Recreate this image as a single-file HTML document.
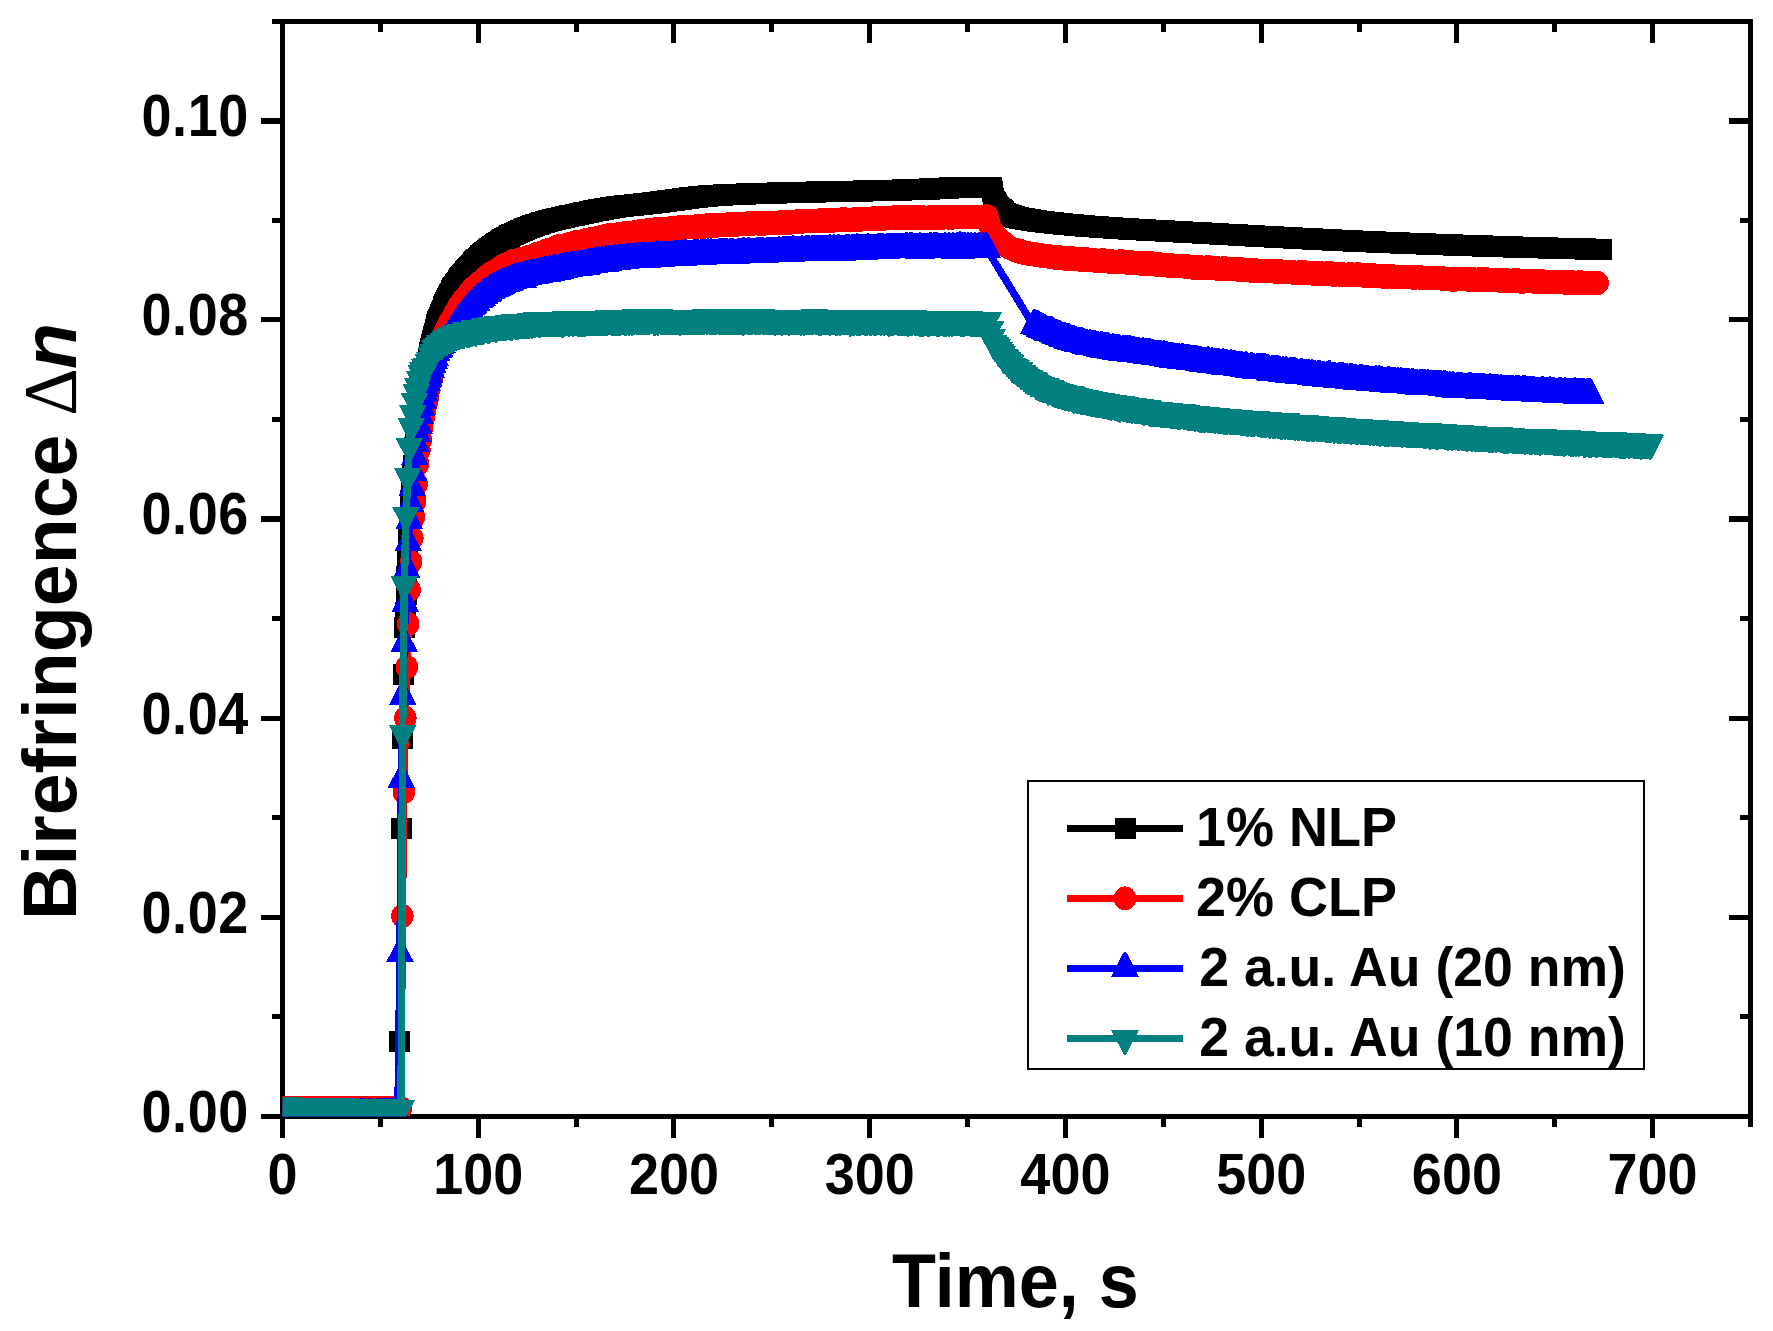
<!DOCTYPE html>
<html lang="en"><head><meta charset="utf-8"><title>Birefringence vs Time</title>
<style>html,body{margin:0;padding:0;background:#fff}body{width:1773px;height:1331px;overflow:hidden}svg{display:block}</style></head><body>
<svg width="1773" height="1331" viewBox="0 0 1773 1331" shape-rendering="crispEdges">
<rect width="1773" height="1331" fill="#fff"/>
<path d="M280 19H1753V24H280zM280 1114H1753V1119H280zM280 19H285V1119H280zM1748 19H1753V1119H1748zM280 1119H285V1138H280zM280 24H285V43H280zM378 1119H383V1127H378zM378 24H383V32H378zM476 1119H481V1138H476zM476 24H481V43H476zM574 1119H579V1127H574zM574 24H579V32H574zM671 1119H676V1138H671zM671 24H676V43H671zM769 1119H774V1127H769zM769 24H774V32H769zM867 1119H872V1138H867zM867 24H872V43H867zM965 1119H970V1127H965zM965 24H970V32H965zM1063 1119H1068V1138H1063zM1063 24H1068V43H1063zM1161 1119H1166V1127H1161zM1161 24H1166V32H1161zM1259 1119H1264V1138H1259zM1259 24H1264V43H1259zM1357 1119H1362V1127H1357zM1357 24H1362V32H1357zM1454 1119H1459V1138H1454zM1454 24H1459V43H1454zM1552 1119H1557V1127H1552zM1552 24H1557V32H1552zM1650 1119H1655V1138H1650zM1650 24H1655V43H1650zM1748 1119H1753V1127H1748zM1748 24H1753V32H1748zM261 1114H280V1119H261zM1729 1114H1748V1119H1729zM272 1014H280V1019H272zM1740 1014H1748V1019H1740zM261 915H280V920H261zM1729 915H1748V920H1729zM272 815H280V820H272zM1740 815H1748V820H1740zM261 716H280V721H261zM1729 716H1748V721H1729zM272 616H280V621H272zM1740 616H1748V621H1740zM261 516H280V522H261zM1729 516H1748V522H1729zM272 417H280V422H272zM1740 417H1748V422H1740zM261 317H280V322H261zM1729 317H1748V322H1729zM272 218H280V223H272zM1740 218H1748V223H1740zM261 118H280V124H261zM1729 118H1748V124H1729zM272 19H280V24H272zM1740 19H1748V24H1740z" fill="#000"/>

<svg x="282.5" y="21.5" width="1468.0" height="1095.0" viewBox="282.5 21.5 1468.0 1095.0" overflow="hidden">
<polyline points="283.7,1110.5 284.6,1110.5 285.4,1110.5 286.3,1110.5 287.2,1110.5 288.1,1110.5 288.9,1110.5 289.8,1110.5 290.7,1110.5 291.6,1110.5 292.5,1110.5 293.3,1110.5 294.2,1110.5 295.1,1110.5 296,1110.5 296.9,1110.5 297.7,1110.5 298.6,1110.5 299.5,1110.5 300.4,1110.5 301.3,1110.5 302.1,1110.5 303,1110.5 303.9,1110.5 304.8,1110.5 305.6,1110.5 306.5,1110.5 307.4,1110.5 308.3,1110.5 309.2,1110.5 310,1110.5 310.9,1110.5 311.8,1110.5 312.7,1110.5 313.6,1110.5 314.4,1110.5 315.3,1110.5 316.2,1110.5 317.1,1110.5 317.9,1110.5 318.8,1110.5 319.7,1110.5 320.6,1110.5 321.5,1110.5 322.3,1110.5 323.2,1110.5 324.1,1110.5 325,1110.5 325.9,1110.5 326.7,1110.5 327.6,1110.5 328.5,1110.5 329.4,1110.5 330.3,1110.5 331.1,1110.5 332,1110.5 332.9,1110.5 333.8,1110.5 334.6,1110.5 335.5,1110.5 336.4,1110.5 337.3,1110.5 338.2,1110.5 339,1110.5 339.9,1110.5 340.8,1110.5 341.7,1110.5 342.6,1110.5 343.4,1110.5 344.3,1110.5 345.2,1110.5 346.1,1110.5 347,1110.5 347.8,1110.5 348.7,1110.5 349.6,1110.5 350.5,1110.5 351.3,1110.5 352.2,1110.5 353.1,1110.5 354,1110.5 354.9,1110.5 355.7,1110.5 356.6,1110.5 357.5,1110.5 358.4,1110.5 359.3,1110.5 360.1,1110.5 361,1110.5 361.9,1110.5 362.8,1110.5 363.7,1110.5 364.5,1110.5 365.4,1110.5 366.3,1110.5 367.2,1110.5 368,1110.5 368.9,1110.5 369.8,1110.5 370.7,1110.5 371.6,1110.5 372.4,1110.5 373.3,1110.5 374.2,1110.5 375.1,1110.5 376,1110.5 376.8,1110.5 377.7,1110.5 378.6,1110.5 379.5,1110.5 380.4,1110.5 381.2,1110.5 382.1,1110.5 383,1110.5 383.9,1110.5 384.7,1110.5 385.6,1110.5 386.5,1110.5 387.4,1110.5 388.3,1110.5 389.1,1110.5 390,1110.5 390.9,1110.5 391.8,1110.5 392.7,1110.5 393.5,1110.5 394.4,1110.5 395.3,1110.5 396.2,1110.5 397,1110.5 397.9,1110.5 399.3,1041.2 401.6,828.6 402.6,738.6 403.4,674.7 404.3,627.7 405.2,612 406.1,594.2 406.9,576.1 407.8,557.6 408.7,537.4 409.6,517 410.5,500.1 411.3,487 412.2,475.7 413.1,465.6 414,456.2 414.9,447.3 415.7,438.9 416.6,430.9 417.5,423.4 418.4,416.1 419.3,409.1 420.1,402.3 421,395.5 421.9,389 422.8,382.9 423.7,377.5 424.5,372.8 425.4,368.9 426.3,365.4 427.2,362.2 428.1,359.1 429,355.9 429.8,352.6 430.7,348.9 431.6,344.9 432.5,340.8 433.4,336.8 434.2,333.1 435.1,329.8 436,326.9 436.9,324.3 437.8,321.8 438.6,319.4 439.5,317.1 440.4,314.9 441.3,312.8 442.2,310.6 443,308.5 443.9,306.3 444.8,304.2 445.7,302.2 446.6,300.2 447.4,298.2 448.3,296.4 449.2,294.7 450.1,293 451,291.5 451.8,290 452.7,288.6 453.6,287.3 454.5,286 455.4,284.7 456.2,283.5 457.1,282.3 458,281.1 458.9,280 459.8,278.9 460.6,277.8 461.5,276.7 462.4,275.6 463.3,274.5 464.2,273.4 465,272.3 465.9,271.2 466.8,270.2 467.7,269.2 468.6,268.1 469.4,267.1 470.3,266.2 471.2,265.2 472.1,264.2 473,263.3 473.9,262.4 474.7,261.5 475.6,260.6 476.5,259.8 477.4,259 478.3,258.1 479.1,257.3 480,256.5 480.9,255.8 481.8,255 482.7,254.2 483.5,253.5 484.4,252.8 485.3,252.1 486.2,251.4 487.1,250.7 487.9,250 488.8,249.3 489.7,248.7 490.6,248 491.5,247.4 492.3,246.8 493.2,246.2 494.1,245.5 495,244.9 495.9,244.3 496.7,243.8 497.6,243.2 498.5,242.6 499.4,242 500.3,241.5 501.1,240.9 502,240.4 502.9,239.8 503.8,239.3 504.7,238.8 505.5,238.3 506.4,237.7 507.3,237.3 508.2,236.8 509.1,236.3 509.9,235.8 510.8,235.4 511.7,234.9 512.6,234.5 513.5,234 514.3,233.6 515.2,233.2 516.1,232.8 517,232.4 517.9,232 518.7,231.6 519.6,231.2 520.5,230.8 521.4,230.4 522.3,230 523.2,229.6 524,229.3 524.9,228.9 525.8,228.5 526.7,228.2 527.6,227.8 528.4,227.5 529.3,227.1 530.2,226.8 531.1,226.4 532,226.1 532.8,225.8 533.7,225.5 534.6,225.2 535.5,224.9 536.4,224.6 537.2,224.3 538.1,224 539,223.7 539.9,223.4 540.8,223.1 541.6,222.9 542.5,222.6 543.4,222.3 544.3,222.1 545.2,221.8 546,221.6 546.9,221.3 547.8,221.1 548.7,220.9 549.6,220.6 550.4,220.4 551.3,220.2 552.2,219.9 553.1,219.7 554,219.5 554.8,219.3 555.7,219.1 556.6,218.9 557.5,218.6 558.4,218.4 559.2,218.2 560.1,218 561,217.8 561.9,217.6 562.8,217.4 563.6,217.2 564.5,217 565.4,216.8 566.3,216.7 567.2,216.5 568.1,216.3 568.9,216.1 569.8,215.9 570.7,215.7 571.6,215.5 572.5,215.3 573.3,215.2 574.2,215 575.1,214.8 576,214.6 576.9,214.4 577.7,214.2 578.6,214 579.5,213.9 580.4,213.7 581.3,213.5 582.1,213.3 583,213.1 583.9,212.9 584.8,212.7 585.7,212.5 586.5,212.4 587.4,212.2 588.3,212 589.2,211.8 590.1,211.6 590.9,211.4 591.8,211.3 592.7,211.1 593.6,210.9 594.5,210.7 595.3,210.6 596.2,210.4 597.1,210.2 598,210 598.9,209.9 599.7,209.7 600.6,209.5 601.5,209.4 602.4,209.2 603.3,209 604.1,208.9 605,208.7 605.9,208.6 606.8,208.4 607.7,208.3 608.5,208.1 609.4,208 610.3,207.8 611.2,207.7 612.1,207.6 613,207.4 613.8,207.3 614.7,207.2 615.6,207.1 616.5,206.9 617.4,206.8 618.2,206.7 619.1,206.6 620,206.5 620.9,206.4 621.8,206.3 622.6,206.2 623.5,206 624.4,205.9 625.3,205.8 626.2,205.7 627,205.6 627.9,205.5 628.8,205.4 629.7,205.4 630.6,205.3 631.4,205.2 632.3,205.1 633.2,205 634.1,204.9 635,204.8 635.8,204.7 636.7,204.6 637.6,204.5 638.5,204.4 639.4,204.3 640.2,204.2 641.1,204.2 642,204.1 642.9,204 643.8,203.9 644.6,203.8 645.5,203.7 646.4,203.6 647.3,203.5 648.2,203.4 649,203.3 649.9,203.2 650.8,203.1 651.7,203 652.6,202.9 653.4,202.8 654.3,202.7 655.2,202.6 656.1,202.5 657,202.3 657.8,202.2 658.7,202.1 659.6,202 660.5,201.9 661.4,201.8 662.3,201.7 663.1,201.5 664,201.4 664.9,201.3 665.8,201.2 666.7,201.1 667.5,200.9 668.4,200.8 669.3,200.7 670.2,200.6 671.1,200.5 671.9,200.3 672.8,200.2 673.7,200.1 674.6,200 675.5,199.8 676.3,199.7 677.2,199.6 678.1,199.5 679,199.4 679.9,199.2 680.7,199.1 681.6,199 682.5,198.9 683.4,198.8 684.3,198.6 685.1,198.5 686,198.4 686.9,198.3 687.8,198.2 688.7,198.1 689.5,197.9 690.4,197.8 691.3,197.7 692.2,197.6 693.1,197.5 693.9,197.4 694.8,197.3 695.7,197.2 696.6,197.1 697.5,197 698.3,196.9 699.2,196.8 700.1,196.7 701,196.6 701.9,196.5 702.7,196.4 703.6,196.3 704.5,196.2 705.4,196.1 706.3,196.1 707.2,196 708,195.9 708.9,195.8 709.8,195.8 710.7,195.7 711.6,195.6 712.4,195.6 713.3,195.5 714.2,195.4 715.1,195.4 716,195.3 716.8,195.3 717.7,195.2 718.6,195.2 719.5,195.1 720.4,195.1 721.2,195 722.1,195 723,194.9 723.9,194.9 724.8,194.8 725.6,194.8 726.5,194.8 727.4,194.7 728.3,194.7 729.2,194.6 730,194.6 730.9,194.5 731.8,194.5 732.7,194.5 733.6,194.4 734.4,194.4 735.3,194.4 736.2,194.3 737.1,194.3 738,194.3 738.8,194.2 739.7,194.2 740.6,194.2 741.5,194.1 742.4,194.1 743.2,194.1 744.1,194 745,194 745.9,194 746.8,193.9 747.6,193.9 748.5,193.9 749.4,193.8 750.3,193.8 751.2,193.8 752.1,193.7 752.9,193.7 753.8,193.7 754.7,193.7 755.6,193.6 756.5,193.6 757.3,193.6 758.2,193.5 759.1,193.5 760,193.5 760.9,193.5 761.7,193.4 762.6,193.4 763.5,193.4 764.4,193.4 765.3,193.3 766.1,193.3 767,193.3 767.9,193.2 768.8,193.2 769.7,193.2 770.5,193.2 771.4,193.1 772.3,193.1 773.2,193.1 774.1,193 774.9,193 775.8,193 776.7,193 777.6,192.9 778.5,192.9 779.3,192.9 780.2,192.9 781.1,192.8 782,192.8 782.9,192.8 783.7,192.8 784.6,192.7 785.5,192.7 786.4,192.7 787.3,192.7 788.1,192.6 789,192.6 789.9,192.6 790.8,192.6 791.7,192.5 792.5,192.5 793.4,192.5 794.3,192.5 795.2,192.5 796.1,192.4 796.9,192.4 797.8,192.4 798.7,192.4 799.6,192.3 800.5,192.3 801.4,192.3 802.2,192.3 803.1,192.3 804,192.2 804.9,192.2 805.8,192.2 806.6,192.2 807.5,192.2 808.4,192.1 809.3,192.1 810.2,192.1 811,192.1 811.9,192 812.8,192 813.7,192 814.6,192 815.4,192 816.3,191.9 817.2,191.9 818.1,191.9 819,191.9 819.8,191.9 820.7,191.9 821.6,191.8 822.5,191.8 823.4,191.8 824.2,191.8 825.1,191.8 826,191.7 826.9,191.7 827.8,191.7 828.6,191.7 829.5,191.7 830.4,191.6 831.3,191.6 832.2,191.6 833,191.6 833.9,191.6 834.8,191.5 835.7,191.5 836.6,191.5 837.4,191.5 838.3,191.5 839.2,191.5 840.1,191.4 841,191.4 841.8,191.4 842.7,191.4 843.6,191.4 844.5,191.3 845.4,191.3 846.3,191.3 847.1,191.3 848,191.3 848.9,191.2 849.8,191.2 850.7,191.2 851.5,191.2 852.4,191.2 853.3,191.1 854.2,191.1 855.1,191.1 855.9,191.1 856.8,191.1 857.7,191.1 858.6,191 859.5,191 860.3,191 861.2,191 862.1,191 863,190.9 863.9,190.9 864.7,190.9 865.6,190.9 866.5,190.9 867.4,190.8 868.3,190.8 869.1,190.8 870,190.8 870.9,190.8 871.8,190.7 872.7,190.7 873.5,190.7 874.4,190.7 875.3,190.7 876.2,190.6 877.1,190.6 877.9,190.6 878.8,190.6 879.7,190.5 880.6,190.5 881.5,190.5 882.3,190.5 883.2,190.5 884.1,190.4 885,190.4 885.9,190.4 886.7,190.4 887.6,190.3 888.5,190.3 889.4,190.3 890.3,190.3 891.2,190.3 892,190.2 892.9,190.2 893.8,190.2 894.7,190.2 895.6,190.1 896.4,190.1 897.3,190.1 898.2,190.1 899.1,190 900,190 900.8,190 901.7,190 902.6,189.9 903.5,189.9 904.4,189.9 905.2,189.9 906.1,189.8 907,189.8 907.9,189.8 908.8,189.8 909.6,189.7 910.5,189.7 911.4,189.7 912.3,189.6 913.2,189.6 914,189.6 914.9,189.6 915.8,189.5 916.7,189.5 917.6,189.5 918.4,189.4 919.3,189.4 920.2,189.4 921.1,189.3 922,189.3 922.8,189.3 923.7,189.2 924.6,189.2 925.5,189.2 926.4,189.1 927.2,189.1 928.1,189 929,189 929.9,188.9 930.8,188.9 931.6,188.8 932.5,188.8 933.4,188.7 934.3,188.7 935.2,188.6 936,188.6 936.9,188.5 937.8,188.5 938.7,188.5 939.6,188.4 940.5,188.4 941.3,188.3 942.2,188.3 943.1,188.2 944,188.2 944.9,188.1 945.7,188.1 946.6,188 947.5,188 948.4,188 949.3,187.9 950.1,187.9 951,187.9 951.9,187.8 952.8,187.8 953.7,187.8 954.5,187.8 955.4,187.7 956.3,187.7 957.2,187.7 958.1,187.7 958.9,187.7 959.8,187.7 960.7,187.7 961.6,187.6 962.5,187.6 963.3,187.6 964.2,187.6 965.1,187.6 966,187.6 966.9,187.6 967.7,187.6 968.6,187.6 969.5,187.5 970.4,187.5 971.3,187.5 972.1,187.5 973,187.5 973.9,187.5 974.8,187.5 975.7,187.5 976.5,187.5 977.4,187.5 978.3,187.5 979.2,187.4 980.1,187.4 980.9,187.4 981.8,187.4 982.7,187.4 983.6,187.4 984.5,187.4 985.4,187.4 986.2,187.4 987.1,187.4 988,187.4 988.9,187.4 989.8,187.4 990.6,187.4 991.5,187.4 992.5,191.7 993.4,198.1 994.2,201 995.1,202.8 996,204.2 996.9,205.3 997.8,206.3 998.6,207.3 999.5,208.2 1000.4,209.1 1001.3,209.9 1002.2,210.8 1003,211.6 1003.9,212.3 1004.8,213 1005.7,213.6 1006.6,214.1 1007.4,214.6 1008.3,214.9 1009.2,215.3 1010.1,215.6 1011,215.9 1011.8,216.2 1012.7,216.4 1013.6,216.7 1014.5,216.9 1015.4,217.1 1016.2,217.3 1017.1,217.5 1018,217.7 1018.9,217.9 1019.8,218 1020.6,218.2 1021.5,218.4 1022.4,218.6 1023.3,218.7 1024.2,218.9 1025.1,219.1 1025.9,219.2 1026.8,219.4 1027.7,219.5 1028.6,219.7 1029.5,219.8 1030.3,219.9 1031.2,220.1 1032.1,220.2 1033,220.4 1033.9,220.5 1034.7,220.6 1035.6,220.7 1036.5,220.9 1037.4,221 1038.3,221.1 1039.1,221.2 1040,221.3 1040.9,221.4 1041.8,221.5 1042.7,221.7 1043.5,221.8 1044.4,221.9 1045.3,222 1046.2,222.1 1047.1,222.2 1047.9,222.3 1048.8,222.4 1049.7,222.5 1050.6,222.6 1051.5,222.7 1052.3,222.8 1053.2,222.9 1054.1,223 1055,223.1 1055.9,223.2 1056.7,223.3 1057.6,223.4 1058.5,223.5 1059.4,223.6 1060.3,223.7 1061.1,223.7 1062,223.8 1062.9,223.9 1063.8,224 1064.7,224.1 1065.5,224.2 1066.4,224.3 1067.3,224.4 1068.2,224.4 1069.1,224.5 1070,224.6 1070.8,224.7 1071.7,224.8 1072.6,224.9 1073.5,224.9 1074.4,225 1075.2,225.1 1076.1,225.2 1077,225.3 1077.9,225.3 1078.8,225.4 1079.6,225.5 1080.5,225.6 1081.4,225.6 1082.3,225.7 1083.2,225.8 1084,225.9 1084.9,225.9 1085.8,226 1086.7,226.1 1087.6,226.1 1088.4,226.2 1089.3,226.3 1090.2,226.4 1091.1,226.4 1092,226.5 1092.8,226.6 1093.7,226.6 1094.6,226.7 1095.5,226.8 1096.4,226.8 1097.2,226.9 1098.1,226.9 1099,227 1099.9,227.1 1100.8,227.1 1101.6,227.2 1102.5,227.3 1103.4,227.3 1104.3,227.4 1105.2,227.4 1106,227.5 1106.9,227.6 1107.8,227.6 1108.7,227.7 1109.6,227.7 1110.4,227.8 1111.3,227.9 1112.2,227.9 1113.1,228 1114,228 1114.9,228.1 1115.7,228.1 1116.6,228.2 1117.5,228.3 1118.4,228.3 1119.3,228.4 1120.1,228.4 1121,228.5 1121.9,228.5 1122.8,228.6 1123.7,228.6 1124.5,228.7 1125.4,228.8 1126.3,228.8 1127.2,228.9 1128.1,228.9 1128.9,229 1129.8,229 1130.7,229.1 1131.6,229.1 1132.5,229.2 1133.3,229.2 1134.2,229.3 1135.1,229.3 1136,229.4 1136.9,229.4 1137.7,229.5 1138.6,229.5 1139.5,229.6 1140.4,229.6 1141.3,229.7 1142.1,229.7 1143,229.8 1143.9,229.8 1144.8,229.9 1145.7,229.9 1146.5,230 1147.4,230 1148.3,230.1 1149.2,230.1 1150.1,230.2 1150.9,230.2 1151.8,230.3 1152.7,230.3 1153.6,230.4 1154.5,230.4 1155.3,230.5 1156.2,230.5 1157.1,230.6 1158,230.6 1158.9,230.6 1159.7,230.7 1160.6,230.7 1161.5,230.8 1162.4,230.8 1163.3,230.9 1164.2,230.9 1165,231 1165.9,231 1166.8,231.1 1167.7,231.1 1168.6,231.2 1169.4,231.2 1170.3,231.3 1171.2,231.3 1172.1,231.4 1173,231.4 1173.8,231.4 1174.7,231.5 1175.6,231.5 1176.5,231.6 1177.4,231.6 1178.2,231.7 1179.1,231.7 1180,231.8 1180.9,231.8 1181.8,231.9 1182.6,231.9 1183.5,232 1184.4,232 1185.3,232.1 1186.2,232.1 1187,232.2 1187.9,232.2 1188.8,232.3 1189.7,232.3 1190.6,232.4 1191.4,232.4 1192.3,232.5 1193.2,232.5 1194.1,232.6 1195,232.6 1195.8,232.6 1196.7,232.7 1197.6,232.7 1198.5,232.8 1199.4,232.8 1200.2,232.9 1201.1,232.9 1202,233 1202.9,233 1203.8,233.1 1204.6,233.1 1205.5,233.2 1206.4,233.2 1207.3,233.3 1208.2,233.3 1209.1,233.4 1209.9,233.4 1210.8,233.5 1211.7,233.5 1212.6,233.6 1213.5,233.6 1214.3,233.7 1215.2,233.7 1216.1,233.8 1217,233.8 1217.9,233.9 1218.7,233.9 1219.6,234 1220.5,234 1221.4,234.1 1222.3,234.1 1223.1,234.2 1224,234.2 1224.9,234.3 1225.8,234.3 1226.7,234.4 1227.5,234.4 1228.4,234.5 1229.3,234.5 1230.2,234.6 1231.1,234.6 1231.9,234.7 1232.8,234.7 1233.7,234.7 1234.6,234.8 1235.5,234.8 1236.3,234.9 1237.2,234.9 1238.1,235 1239,235 1239.9,235.1 1240.7,235.1 1241.6,235.2 1242.5,235.2 1243.4,235.3 1244.3,235.3 1245.1,235.4 1246,235.4 1246.9,235.5 1247.8,235.5 1248.7,235.6 1249.5,235.6 1250.4,235.7 1251.3,235.7 1252.2,235.8 1253.1,235.8 1254,235.9 1254.8,235.9 1255.7,236 1256.6,236 1257.5,236.1 1258.4,236.1 1259.2,236.2 1260.1,236.2 1261,236.2 1261.9,236.3 1262.8,236.3 1263.6,236.4 1264.5,236.4 1265.4,236.5 1266.3,236.5 1267.2,236.6 1268,236.6 1268.9,236.7 1269.8,236.7 1270.7,236.8 1271.6,236.8 1272.4,236.9 1273.3,236.9 1274.2,237 1275.1,237 1276,237.1 1276.8,237.1 1277.7,237.2 1278.6,237.2 1279.5,237.2 1280.4,237.3 1281.2,237.3 1282.1,237.4 1283,237.4 1283.9,237.5 1284.8,237.5 1285.6,237.6 1286.5,237.6 1287.4,237.7 1288.3,237.7 1289.2,237.8 1290,237.8 1290.9,237.9 1291.8,237.9 1292.7,237.9 1293.6,238 1294.4,238 1295.3,238.1 1296.2,238.1 1297.1,238.2 1298,238.2 1298.8,238.3 1299.7,238.3 1300.6,238.4 1301.5,238.4 1302.4,238.5 1303.3,238.5 1304.1,238.5 1305,238.6 1305.9,238.6 1306.8,238.7 1307.7,238.7 1308.5,238.8 1309.4,238.8 1310.3,238.9 1311.2,238.9 1312.1,238.9 1312.9,239 1313.8,239 1314.7,239.1 1315.6,239.1 1316.5,239.2 1317.3,239.2 1318.2,239.3 1319.1,239.3 1320,239.3 1320.9,239.4 1321.7,239.4 1322.6,239.5 1323.5,239.5 1324.4,239.6 1325.3,239.6 1326.1,239.7 1327,239.7 1327.9,239.7 1328.8,239.8 1329.7,239.8 1330.5,239.9 1331.4,239.9 1332.3,240 1333.2,240 1334.1,240 1334.9,240.1 1335.8,240.1 1336.7,240.2 1337.6,240.2 1338.5,240.3 1339.3,240.3 1340.2,240.3 1341.1,240.4 1342,240.4 1342.9,240.5 1343.7,240.5 1344.6,240.6 1345.5,240.6 1346.4,240.6 1347.3,240.7 1348.2,240.7 1349,240.8 1349.9,240.8 1350.8,240.8 1351.7,240.9 1352.6,240.9 1353.4,241 1354.3,241 1355.2,241 1356.1,241.1 1357,241.1 1357.8,241.2 1358.7,241.2 1359.6,241.2 1360.5,241.3 1361.4,241.3 1362.2,241.4 1363.1,241.4 1364,241.4 1364.9,241.5 1365.8,241.5 1366.6,241.6 1367.5,241.6 1368.4,241.6 1369.3,241.7 1370.2,241.7 1371,241.8 1371.9,241.8 1372.8,241.8 1373.7,241.9 1374.6,241.9 1375.4,241.9 1376.3,242 1377.2,242 1378.1,242.1 1379,242.1 1379.8,242.1 1380.7,242.2 1381.6,242.2 1382.5,242.2 1383.4,242.3 1384.2,242.3 1385.1,242.4 1386,242.4 1386.9,242.4 1387.8,242.5 1388.6,242.5 1389.5,242.5 1390.4,242.6 1391.3,242.6 1392.2,242.6 1393.1,242.7 1393.9,242.7 1394.8,242.7 1395.7,242.8 1396.6,242.8 1397.5,242.8 1398.3,242.9 1399.2,242.9 1400.1,243 1401,243 1401.9,243 1402.7,243.1 1403.6,243.1 1404.5,243.1 1405.4,243.2 1406.3,243.2 1407.1,243.2 1408,243.3 1408.9,243.3 1409.8,243.3 1410.7,243.4 1411.5,243.4 1412.4,243.4 1413.3,243.5 1414.2,243.5 1415.1,243.5 1415.9,243.6 1416.8,243.6 1417.7,243.6 1418.6,243.7 1419.5,243.7 1420.3,243.7 1421.2,243.8 1422.1,243.8 1423,243.8 1423.9,243.9 1424.7,243.9 1425.6,243.9 1426.5,244 1427.4,244 1428.3,244 1429.1,244.1 1430,244.1 1430.9,244.1 1431.8,244.2 1432.7,244.2 1433.5,244.2 1434.4,244.3 1435.3,244.3 1436.2,244.3 1437.1,244.4 1437.9,244.4 1438.8,244.4 1439.7,244.4 1440.6,244.5 1441.5,244.5 1442.4,244.5 1443.2,244.6 1444.1,244.6 1445,244.6 1445.9,244.7 1446.8,244.7 1447.6,244.7 1448.5,244.8 1449.4,244.8 1450.3,244.8 1451.2,244.9 1452,244.9 1452.9,244.9 1453.8,245 1454.7,245 1455.6,245 1456.4,245.1 1457.3,245.1 1458.2,245.1 1459.1,245.1 1460,245.2 1460.8,245.2 1461.7,245.2 1462.6,245.3 1463.5,245.3 1464.4,245.3 1465.2,245.4 1466.1,245.4 1467,245.4 1467.9,245.5 1468.8,245.5 1469.6,245.5 1470.5,245.5 1471.4,245.6 1472.3,245.6 1473.2,245.6 1474,245.7 1474.9,245.7 1475.8,245.7 1476.7,245.8 1477.6,245.8 1478.4,245.8 1479.3,245.8 1480.2,245.9 1481.1,245.9 1482,245.9 1482.8,246 1483.7,246 1484.6,246 1485.5,246.1 1486.4,246.1 1487.3,246.1 1488.1,246.1 1489,246.2 1489.9,246.2 1490.8,246.2 1491.7,246.3 1492.5,246.3 1493.4,246.3 1494.3,246.3 1495.2,246.4 1496.1,246.4 1496.9,246.4 1497.8,246.5 1498.7,246.5 1499.6,246.5 1500.5,246.5 1501.3,246.6 1502.2,246.6 1503.1,246.6 1504,246.7 1504.9,246.7 1505.7,246.7 1506.6,246.7 1507.5,246.8 1508.4,246.8 1509.3,246.8 1510.1,246.8 1511,246.9 1511.9,246.9 1512.8,246.9 1513.7,247 1514.5,247 1515.4,247 1516.3,247 1517.2,247.1 1518.1,247.1 1518.9,247.1 1519.8,247.1 1520.7,247.2 1521.6,247.2 1522.5,247.2 1523.3,247.3 1524.2,247.3 1525.1,247.3 1526,247.3 1526.9,247.4 1527.7,247.4 1528.6,247.4 1529.5,247.4 1530.4,247.5 1531.3,247.5 1532.2,247.5 1533,247.5 1533.9,247.6 1534.8,247.6 1535.7,247.6 1536.6,247.6 1537.4,247.7 1538.3,247.7 1539.2,247.7 1540.1,247.7 1541,247.8 1541.8,247.8 1542.7,247.8 1543.6,247.8 1544.5,247.9 1545.4,247.9 1546.2,247.9 1547.1,247.9 1548,248 1548.9,248 1549.8,248 1550.6,248 1551.5,248.1 1552.4,248.1 1553.3,248.1 1554.2,248.1 1555,248.2 1555.9,248.2 1556.8,248.2 1557.7,248.2 1558.6,248.3 1559.4,248.3 1560.3,248.3 1561.2,248.3 1562.1,248.4 1563,248.4 1563.8,248.4 1564.7,248.4 1565.6,248.4 1566.5,248.5 1567.4,248.5 1568.2,248.5 1569.1,248.5 1570,248.6 1570.9,248.6 1571.8,248.6 1572.6,248.6 1573.5,248.7 1574.4,248.7 1575.3,248.7 1576.2,248.7 1577,248.7 1577.9,248.8 1578.8,248.8 1579.7,248.8 1580.6,248.8 1581.5,248.8 1582.3,248.9 1583.2,248.9 1584.1,248.9 1585,248.9 1585.9,249 1586.7,249 1587.6,249 1588.5,249 1589.4,249 1590.3,249.1 1591.1,249.1 1592,249.1 1592.9,249.1 1593.8,249.1 1594.7,249.2 1595.5,249.2 1596.4,249.2 1597.3,249.2 1598.2,249.2 1599.1,249.3 1599.9,249.3 1600.8,249.3 1601.5,249.3" fill="none" stroke="#000" stroke-width="7.5" stroke-linejoin="round"/>
<path d="M273.2 1100h21v21h-21zM274.1 1100h21v21h-21zM274.9 1100h21v21h-21zM275.8 1100h21v21h-21zM276.7 1100h21v21h-21zM277.6 1100h21v21h-21zM278.4 1100h21v21h-21zM279.3 1100h21v21h-21zM280.2 1100h21v21h-21zM281.1 1100h21v21h-21zM282 1100h21v21h-21zM282.8 1100h21v21h-21zM283.7 1100h21v21h-21zM284.6 1100h21v21h-21zM285.5 1100h21v21h-21zM286.4 1100h21v21h-21zM287.2 1100h21v21h-21zM288.1 1100h21v21h-21zM289 1100h21v21h-21zM289.9 1100h21v21h-21zM290.8 1100h21v21h-21zM291.6 1100h21v21h-21zM292.5 1100h21v21h-21zM293.4 1100h21v21h-21zM294.3 1100h21v21h-21zM295.1 1100h21v21h-21zM296 1100h21v21h-21zM296.9 1100h21v21h-21zM297.8 1100h21v21h-21zM298.7 1100h21v21h-21zM299.5 1100h21v21h-21zM300.4 1100h21v21h-21zM301.3 1100h21v21h-21zM302.2 1100h21v21h-21zM303.1 1100h21v21h-21zM303.9 1100h21v21h-21zM304.8 1100h21v21h-21zM305.7 1100h21v21h-21zM306.6 1100h21v21h-21zM307.4 1100h21v21h-21zM308.3 1100h21v21h-21zM309.2 1100h21v21h-21zM310.1 1100h21v21h-21zM311 1100h21v21h-21zM311.8 1100h21v21h-21zM312.7 1100h21v21h-21zM313.6 1100h21v21h-21zM314.5 1100h21v21h-21zM315.4 1100h21v21h-21zM316.2 1100h21v21h-21zM317.1 1100h21v21h-21zM318 1100h21v21h-21zM318.9 1100h21v21h-21zM319.8 1100h21v21h-21zM320.6 1100h21v21h-21zM321.5 1100h21v21h-21zM322.4 1100h21v21h-21zM323.3 1100h21v21h-21zM324.1 1100h21v21h-21zM325 1100h21v21h-21zM325.9 1100h21v21h-21zM326.8 1100h21v21h-21zM327.7 1100h21v21h-21zM328.5 1100h21v21h-21zM329.4 1100h21v21h-21zM330.3 1100h21v21h-21zM331.2 1100h21v21h-21zM332.1 1100h21v21h-21zM332.9 1100h21v21h-21zM333.8 1100h21v21h-21zM334.7 1100h21v21h-21zM335.6 1100h21v21h-21zM336.5 1100h21v21h-21zM337.3 1100h21v21h-21zM338.2 1100h21v21h-21zM339.1 1100h21v21h-21zM340 1100h21v21h-21zM340.8 1100h21v21h-21zM341.7 1100h21v21h-21zM342.6 1100h21v21h-21zM343.5 1100h21v21h-21zM344.4 1100h21v21h-21zM345.2 1100h21v21h-21zM346.1 1100h21v21h-21zM347 1100h21v21h-21zM347.9 1100h21v21h-21zM348.8 1100h21v21h-21zM349.6 1100h21v21h-21zM350.5 1100h21v21h-21zM351.4 1100h21v21h-21zM352.3 1100h21v21h-21zM353.2 1100h21v21h-21zM354 1100h21v21h-21zM354.9 1100h21v21h-21zM355.8 1100h21v21h-21zM356.7 1100h21v21h-21zM357.5 1100h21v21h-21zM358.4 1100h21v21h-21zM359.3 1100h21v21h-21zM360.2 1100h21v21h-21zM361.1 1100h21v21h-21zM361.9 1100h21v21h-21zM362.8 1100h21v21h-21zM363.7 1100h21v21h-21zM364.6 1100h21v21h-21zM365.5 1100h21v21h-21zM366.3 1100h21v21h-21zM367.2 1100h21v21h-21zM368.1 1100h21v21h-21zM369 1100h21v21h-21zM369.9 1100h21v21h-21zM370.7 1100h21v21h-21zM371.6 1100h21v21h-21zM372.5 1100h21v21h-21zM373.4 1100h21v21h-21zM374.2 1100h21v21h-21zM375.1 1100h21v21h-21zM376 1100h21v21h-21zM376.9 1100h21v21h-21zM377.8 1100h21v21h-21zM378.6 1100h21v21h-21zM379.5 1100h21v21h-21zM380.4 1100h21v21h-21zM381.3 1100h21v21h-21zM382.2 1100h21v21h-21zM383 1100h21v21h-21zM383.9 1100h21v21h-21zM384.8 1100h21v21h-21zM385.7 1100h21v21h-21zM386.5 1100h21v21h-21zM387.4 1100h21v21h-21zM388.8 1030.7h21v21h-21zM391.1 818.1h21v21h-21zM392.1 728.1h21v21h-21zM392.9 664.2h21v21h-21zM393.8 617.2h21v21h-21zM394.7 601.5h21v21h-21zM395.6 583.7h21v21h-21zM396.4 565.6h21v21h-21zM397.3 547.1h21v21h-21zM398.2 526.9h21v21h-21zM399.1 506.5h21v21h-21zM400 489.6h21v21h-21zM400.8 476.5h21v21h-21zM401.7 465.2h21v21h-21zM402.6 455.1h21v21h-21zM403.5 445.7h21v21h-21zM404.4 436.8h21v21h-21zM405.2 428.4h21v21h-21zM406.1 420.4h21v21h-21zM407 412.9h21v21h-21zM407.9 405.6h21v21h-21zM408.8 398.6h21v21h-21zM409.6 391.8h21v21h-21zM410.5 385h21v21h-21zM411.4 378.5h21v21h-21zM412.3 372.4h21v21h-21zM413.2 367h21v21h-21zM414 362.3h21v21h-21zM414.9 358.4h21v21h-21zM415.8 354.9h21v21h-21zM416.7 351.7h21v21h-21zM417.6 348.6h21v21h-21zM418.5 345.4h21v21h-21zM419.3 342.1h21v21h-21zM420.2 338.4h21v21h-21zM421.1 334.4h21v21h-21zM422 330.3h21v21h-21zM422.9 326.3h21v21h-21zM423.7 322.6h21v21h-21zM424.6 319.3h21v21h-21zM425.5 316.4h21v21h-21zM426.4 313.8h21v21h-21zM427.3 311.3h21v21h-21zM428.1 308.9h21v21h-21zM429 306.6h21v21h-21zM429.9 304.4h21v21h-21zM430.8 302.3h21v21h-21zM431.7 300.1h21v21h-21zM432.5 298h21v21h-21zM433.4 295.8h21v21h-21zM434.3 293.7h21v21h-21zM435.2 291.7h21v21h-21zM436.1 289.7h21v21h-21zM436.9 287.7h21v21h-21zM437.8 285.9h21v21h-21zM438.7 284.2h21v21h-21zM439.6 282.5h21v21h-21zM440.5 281h21v21h-21zM441.3 279.5h21v21h-21zM442.2 278.1h21v21h-21zM443.1 276.8h21v21h-21zM444 275.5h21v21h-21zM444.9 274.2h21v21h-21zM445.7 273h21v21h-21zM446.6 271.8h21v21h-21zM447.5 270.6h21v21h-21zM448.4 269.5h21v21h-21zM449.3 268.4h21v21h-21zM450.1 267.3h21v21h-21zM451 266.2h21v21h-21zM451.9 265.1h21v21h-21zM452.8 264h21v21h-21zM453.7 262.9h21v21h-21zM454.5 261.8h21v21h-21zM455.4 260.7h21v21h-21zM456.3 259.7h21v21h-21zM457.2 258.7h21v21h-21zM458.1 257.6h21v21h-21zM458.9 256.6h21v21h-21zM459.8 255.7h21v21h-21zM460.7 254.7h21v21h-21zM461.6 253.7h21v21h-21zM462.5 252.8h21v21h-21zM463.4 251.9h21v21h-21zM464.2 251h21v21h-21zM465.1 250.1h21v21h-21zM466 249.3h21v21h-21zM466.9 248.5h21v21h-21zM467.8 247.6h21v21h-21zM468.6 246.8h21v21h-21zM469.5 246h21v21h-21zM470.4 245.3h21v21h-21zM471.3 244.5h21v21h-21zM472.2 243.7h21v21h-21zM473 243h21v21h-21zM473.9 242.3h21v21h-21zM474.8 241.6h21v21h-21zM475.7 240.9h21v21h-21zM476.6 240.2h21v21h-21zM477.4 239.5h21v21h-21zM478.3 238.8h21v21h-21zM479.2 238.2h21v21h-21zM480.1 237.5h21v21h-21zM481 236.9h21v21h-21zM481.8 236.3h21v21h-21zM482.7 235.7h21v21h-21zM483.6 235h21v21h-21zM484.5 234.4h21v21h-21zM485.4 233.8h21v21h-21zM486.2 233.3h21v21h-21zM487.1 232.7h21v21h-21zM488 232.1h21v21h-21zM488.9 231.5h21v21h-21zM489.8 231h21v21h-21zM490.6 230.4h21v21h-21zM491.5 229.9h21v21h-21zM492.4 229.3h21v21h-21zM493.3 228.8h21v21h-21zM494.2 228.3h21v21h-21zM495 227.8h21v21h-21zM495.9 227.2h21v21h-21zM496.8 226.8h21v21h-21zM497.7 226.3h21v21h-21zM498.6 225.8h21v21h-21zM499.4 225.3h21v21h-21zM500.3 224.9h21v21h-21zM501.2 224.4h21v21h-21zM502.1 224h21v21h-21zM503 223.5h21v21h-21zM503.8 223.1h21v21h-21zM504.7 222.7h21v21h-21zM505.6 222.3h21v21h-21zM506.5 221.9h21v21h-21zM507.4 221.5h21v21h-21zM508.2 221.1h21v21h-21zM509.1 220.7h21v21h-21zM510 220.3h21v21h-21zM510.9 219.9h21v21h-21zM511.8 219.5h21v21h-21zM512.7 219.1h21v21h-21zM513.5 218.8h21v21h-21zM514.4 218.4h21v21h-21zM515.3 218h21v21h-21zM516.2 217.7h21v21h-21zM517.1 217.3h21v21h-21zM517.9 217h21v21h-21zM518.8 216.6h21v21h-21zM519.7 216.3h21v21h-21zM520.6 215.9h21v21h-21zM521.5 215.6h21v21h-21zM522.3 215.3h21v21h-21zM523.2 215h21v21h-21zM524.1 214.7h21v21h-21zM525 214.4h21v21h-21zM525.9 214.1h21v21h-21zM526.7 213.8h21v21h-21zM527.6 213.5h21v21h-21zM528.5 213.2h21v21h-21zM529.4 212.9h21v21h-21zM530.3 212.6h21v21h-21zM531.1 212.4h21v21h-21zM532 212.1h21v21h-21zM532.9 211.8h21v21h-21zM533.8 211.6h21v21h-21zM534.7 211.3h21v21h-21zM535.5 211.1h21v21h-21zM536.4 210.8h21v21h-21zM537.3 210.6h21v21h-21zM538.2 210.4h21v21h-21zM539.1 210.1h21v21h-21zM539.9 209.9h21v21h-21zM540.8 209.7h21v21h-21zM541.7 209.4h21v21h-21zM542.6 209.2h21v21h-21zM543.5 209h21v21h-21zM544.3 208.8h21v21h-21zM545.2 208.6h21v21h-21zM546.1 208.4h21v21h-21zM547 208.1h21v21h-21zM547.9 207.9h21v21h-21zM548.7 207.7h21v21h-21zM549.6 207.5h21v21h-21zM550.5 207.3h21v21h-21zM551.4 207.1h21v21h-21zM552.3 206.9h21v21h-21zM553.1 206.7h21v21h-21zM554 206.5h21v21h-21zM554.9 206.3h21v21h-21zM555.8 206.2h21v21h-21zM556.7 206h21v21h-21zM557.6 205.8h21v21h-21zM558.4 205.6h21v21h-21zM559.3 205.4h21v21h-21zM560.2 205.2h21v21h-21zM561.1 205h21v21h-21zM562 204.8h21v21h-21zM562.8 204.7h21v21h-21zM563.7 204.5h21v21h-21zM564.6 204.3h21v21h-21zM565.5 204.1h21v21h-21zM566.4 203.9h21v21h-21zM567.2 203.7h21v21h-21zM568.1 203.5h21v21h-21zM569 203.4h21v21h-21zM569.9 203.2h21v21h-21zM570.8 203h21v21h-21zM571.6 202.8h21v21h-21zM572.5 202.6h21v21h-21zM573.4 202.4h21v21h-21zM574.3 202.2h21v21h-21zM575.2 202h21v21h-21zM576 201.9h21v21h-21zM576.9 201.7h21v21h-21zM577.8 201.5h21v21h-21zM578.7 201.3h21v21h-21zM579.6 201.1h21v21h-21zM580.4 200.9h21v21h-21zM581.3 200.8h21v21h-21zM582.2 200.6h21v21h-21zM583.1 200.4h21v21h-21zM584 200.2h21v21h-21zM584.8 200.1h21v21h-21zM585.7 199.9h21v21h-21zM586.6 199.7h21v21h-21zM587.5 199.5h21v21h-21zM588.4 199.4h21v21h-21zM589.2 199.2h21v21h-21zM590.1 199h21v21h-21zM591 198.9h21v21h-21zM591.9 198.7h21v21h-21zM592.8 198.5h21v21h-21zM593.6 198.4h21v21h-21zM594.5 198.2h21v21h-21zM595.4 198.1h21v21h-21zM596.3 197.9h21v21h-21zM597.2 197.8h21v21h-21zM598 197.6h21v21h-21zM598.9 197.5h21v21h-21zM599.8 197.3h21v21h-21zM600.7 197.2h21v21h-21zM601.6 197.1h21v21h-21zM602.5 196.9h21v21h-21zM603.3 196.8h21v21h-21zM604.2 196.7h21v21h-21zM605.1 196.6h21v21h-21zM606 196.4h21v21h-21zM606.9 196.3h21v21h-21zM607.7 196.2h21v21h-21zM608.6 196.1h21v21h-21zM609.5 196h21v21h-21zM610.4 195.9h21v21h-21zM611.3 195.8h21v21h-21zM612.1 195.7h21v21h-21zM613 195.5h21v21h-21zM613.9 195.4h21v21h-21zM614.8 195.3h21v21h-21zM615.7 195.2h21v21h-21zM616.5 195.1h21v21h-21zM617.4 195h21v21h-21zM618.3 194.9h21v21h-21zM619.2 194.9h21v21h-21zM620.1 194.8h21v21h-21zM620.9 194.7h21v21h-21zM621.8 194.6h21v21h-21zM622.7 194.5h21v21h-21zM623.6 194.4h21v21h-21zM624.5 194.3h21v21h-21zM625.3 194.2h21v21h-21zM626.2 194.1h21v21h-21zM627.1 194h21v21h-21zM628 193.9h21v21h-21zM628.9 193.8h21v21h-21zM629.7 193.7h21v21h-21zM630.6 193.7h21v21h-21zM631.5 193.6h21v21h-21zM632.4 193.5h21v21h-21zM633.3 193.4h21v21h-21zM634.1 193.3h21v21h-21zM635 193.2h21v21h-21zM635.9 193.1h21v21h-21zM636.8 193h21v21h-21zM637.7 192.9h21v21h-21zM638.5 192.8h21v21h-21zM639.4 192.7h21v21h-21zM640.3 192.6h21v21h-21zM641.2 192.5h21v21h-21zM642.1 192.4h21v21h-21zM642.9 192.3h21v21h-21zM643.8 192.2h21v21h-21zM644.7 192.1h21v21h-21zM645.6 192h21v21h-21zM646.5 191.8h21v21h-21zM647.3 191.7h21v21h-21zM648.2 191.6h21v21h-21zM649.1 191.5h21v21h-21zM650 191.4h21v21h-21zM650.9 191.3h21v21h-21zM651.8 191.2h21v21h-21zM652.6 191h21v21h-21zM653.5 190.9h21v21h-21zM654.4 190.8h21v21h-21zM655.3 190.7h21v21h-21zM656.2 190.6h21v21h-21zM657 190.4h21v21h-21zM657.9 190.3h21v21h-21zM658.8 190.2h21v21h-21zM659.7 190.1h21v21h-21zM660.6 190h21v21h-21zM661.4 189.8h21v21h-21zM662.3 189.7h21v21h-21zM663.2 189.6h21v21h-21zM664.1 189.5h21v21h-21zM665 189.3h21v21h-21zM665.8 189.2h21v21h-21zM666.7 189.1h21v21h-21zM667.6 189h21v21h-21zM668.5 188.9h21v21h-21zM669.4 188.7h21v21h-21zM670.2 188.6h21v21h-21zM671.1 188.5h21v21h-21zM672 188.4h21v21h-21zM672.9 188.3h21v21h-21zM673.8 188.1h21v21h-21zM674.6 188h21v21h-21zM675.5 187.9h21v21h-21zM676.4 187.8h21v21h-21zM677.3 187.7h21v21h-21zM678.2 187.6h21v21h-21zM679 187.4h21v21h-21zM679.9 187.3h21v21h-21zM680.8 187.2h21v21h-21zM681.7 187.1h21v21h-21zM682.6 187h21v21h-21zM683.4 186.9h21v21h-21zM684.3 186.8h21v21h-21zM685.2 186.7h21v21h-21zM686.1 186.6h21v21h-21zM687 186.5h21v21h-21zM687.8 186.4h21v21h-21zM688.7 186.3h21v21h-21zM689.6 186.2h21v21h-21zM690.5 186.1h21v21h-21zM691.4 186h21v21h-21zM692.2 185.9h21v21h-21zM693.1 185.8h21v21h-21zM694 185.7h21v21h-21zM694.9 185.6h21v21h-21zM695.8 185.6h21v21h-21zM696.7 185.5h21v21h-21zM697.5 185.4h21v21h-21zM698.4 185.3h21v21h-21zM699.3 185.3h21v21h-21zM700.2 185.2h21v21h-21zM701.1 185.1h21v21h-21zM701.9 185.1h21v21h-21zM702.8 185h21v21h-21zM703.7 184.9h21v21h-21zM704.6 184.9h21v21h-21zM705.5 184.8h21v21h-21zM706.3 184.8h21v21h-21zM707.2 184.7h21v21h-21zM708.1 184.7h21v21h-21zM709 184.6h21v21h-21zM709.9 184.6h21v21h-21zM710.7 184.5h21v21h-21zM711.6 184.5h21v21h-21zM712.5 184.4h21v21h-21zM713.4 184.4h21v21h-21zM714.3 184.3h21v21h-21zM715.1 184.3h21v21h-21zM716 184.3h21v21h-21zM716.9 184.2h21v21h-21zM717.8 184.2h21v21h-21zM718.7 184.1h21v21h-21zM719.5 184.1h21v21h-21zM720.4 184h21v21h-21zM721.3 184h21v21h-21zM722.2 184h21v21h-21zM723.1 183.9h21v21h-21zM723.9 183.9h21v21h-21zM724.8 183.9h21v21h-21zM725.7 183.8h21v21h-21zM726.6 183.8h21v21h-21zM727.5 183.8h21v21h-21zM728.3 183.7h21v21h-21zM729.2 183.7h21v21h-21zM730.1 183.7h21v21h-21zM731 183.6h21v21h-21zM731.9 183.6h21v21h-21zM732.7 183.6h21v21h-21zM733.6 183.5h21v21h-21zM734.5 183.5h21v21h-21zM735.4 183.5h21v21h-21zM736.3 183.4h21v21h-21zM737.1 183.4h21v21h-21zM738 183.4h21v21h-21zM738.9 183.3h21v21h-21zM739.8 183.3h21v21h-21zM740.7 183.3h21v21h-21zM741.6 183.2h21v21h-21zM742.4 183.2h21v21h-21zM743.3 183.2h21v21h-21zM744.2 183.2h21v21h-21zM745.1 183.1h21v21h-21zM746 183.1h21v21h-21zM746.8 183.1h21v21h-21zM747.7 183h21v21h-21zM748.6 183h21v21h-21zM749.5 183h21v21h-21zM750.4 183h21v21h-21zM751.2 182.9h21v21h-21zM752.1 182.9h21v21h-21zM753 182.9h21v21h-21zM753.9 182.9h21v21h-21zM754.8 182.8h21v21h-21zM755.6 182.8h21v21h-21zM756.5 182.8h21v21h-21zM757.4 182.7h21v21h-21zM758.3 182.7h21v21h-21zM759.2 182.7h21v21h-21zM760 182.7h21v21h-21zM760.9 182.6h21v21h-21zM761.8 182.6h21v21h-21zM762.7 182.6h21v21h-21zM763.6 182.5h21v21h-21zM764.4 182.5h21v21h-21zM765.3 182.5h21v21h-21zM766.2 182.5h21v21h-21zM767.1 182.4h21v21h-21zM768 182.4h21v21h-21zM768.8 182.4h21v21h-21zM769.7 182.4h21v21h-21zM770.6 182.3h21v21h-21zM771.5 182.3h21v21h-21zM772.4 182.3h21v21h-21zM773.2 182.3h21v21h-21zM774.1 182.2h21v21h-21zM775 182.2h21v21h-21zM775.9 182.2h21v21h-21zM776.8 182.2h21v21h-21zM777.6 182.1h21v21h-21zM778.5 182.1h21v21h-21zM779.4 182.1h21v21h-21zM780.3 182.1h21v21h-21zM781.2 182h21v21h-21zM782 182h21v21h-21zM782.9 182h21v21h-21zM783.8 182h21v21h-21zM784.7 182h21v21h-21zM785.6 181.9h21v21h-21zM786.4 181.9h21v21h-21zM787.3 181.9h21v21h-21zM788.2 181.9h21v21h-21zM789.1 181.8h21v21h-21zM790 181.8h21v21h-21zM790.9 181.8h21v21h-21zM791.7 181.8h21v21h-21zM792.6 181.8h21v21h-21zM793.5 181.7h21v21h-21zM794.4 181.7h21v21h-21zM795.3 181.7h21v21h-21zM796.1 181.7h21v21h-21zM797 181.7h21v21h-21zM797.9 181.6h21v21h-21zM798.8 181.6h21v21h-21zM799.7 181.6h21v21h-21zM800.5 181.6h21v21h-21zM801.4 181.5h21v21h-21zM802.3 181.5h21v21h-21zM803.2 181.5h21v21h-21zM804.1 181.5h21v21h-21zM804.9 181.5h21v21h-21zM805.8 181.4h21v21h-21zM806.7 181.4h21v21h-21zM807.6 181.4h21v21h-21zM808.5 181.4h21v21h-21zM809.3 181.4h21v21h-21zM810.2 181.4h21v21h-21zM811.1 181.3h21v21h-21zM812 181.3h21v21h-21zM812.9 181.3h21v21h-21zM813.7 181.3h21v21h-21zM814.6 181.3h21v21h-21zM815.5 181.2h21v21h-21zM816.4 181.2h21v21h-21zM817.3 181.2h21v21h-21zM818.1 181.2h21v21h-21zM819 181.2h21v21h-21zM819.9 181.1h21v21h-21zM820.8 181.1h21v21h-21zM821.7 181.1h21v21h-21zM822.5 181.1h21v21h-21zM823.4 181.1h21v21h-21zM824.3 181h21v21h-21zM825.2 181h21v21h-21zM826.1 181h21v21h-21zM826.9 181h21v21h-21zM827.8 181h21v21h-21zM828.7 181h21v21h-21zM829.6 180.9h21v21h-21zM830.5 180.9h21v21h-21zM831.3 180.9h21v21h-21zM832.2 180.9h21v21h-21zM833.1 180.9h21v21h-21zM834 180.8h21v21h-21zM834.9 180.8h21v21h-21zM835.8 180.8h21v21h-21zM836.6 180.8h21v21h-21zM837.5 180.8h21v21h-21zM838.4 180.7h21v21h-21zM839.3 180.7h21v21h-21zM840.2 180.7h21v21h-21zM841 180.7h21v21h-21zM841.9 180.7h21v21h-21zM842.8 180.6h21v21h-21zM843.7 180.6h21v21h-21zM844.6 180.6h21v21h-21zM845.4 180.6h21v21h-21zM846.3 180.6h21v21h-21zM847.2 180.6h21v21h-21zM848.1 180.5h21v21h-21zM849 180.5h21v21h-21zM849.8 180.5h21v21h-21zM850.7 180.5h21v21h-21zM851.6 180.5h21v21h-21zM852.5 180.4h21v21h-21zM853.4 180.4h21v21h-21zM854.2 180.4h21v21h-21zM855.1 180.4h21v21h-21zM856 180.4h21v21h-21zM856.9 180.3h21v21h-21zM857.8 180.3h21v21h-21zM858.6 180.3h21v21h-21zM859.5 180.3h21v21h-21zM860.4 180.3h21v21h-21zM861.3 180.2h21v21h-21zM862.2 180.2h21v21h-21zM863 180.2h21v21h-21zM863.9 180.2h21v21h-21zM864.8 180.2h21v21h-21zM865.7 180.1h21v21h-21zM866.6 180.1h21v21h-21zM867.4 180.1h21v21h-21zM868.3 180.1h21v21h-21zM869.2 180h21v21h-21zM870.1 180h21v21h-21zM871 180h21v21h-21zM871.8 180h21v21h-21zM872.7 180h21v21h-21zM873.6 179.9h21v21h-21zM874.5 179.9h21v21h-21zM875.4 179.9h21v21h-21zM876.2 179.9h21v21h-21zM877.1 179.8h21v21h-21zM878 179.8h21v21h-21zM878.9 179.8h21v21h-21zM879.8 179.8h21v21h-21zM880.7 179.8h21v21h-21zM881.5 179.7h21v21h-21zM882.4 179.7h21v21h-21zM883.3 179.7h21v21h-21zM884.2 179.7h21v21h-21zM885.1 179.6h21v21h-21zM885.9 179.6h21v21h-21zM886.8 179.6h21v21h-21zM887.7 179.6h21v21h-21zM888.6 179.5h21v21h-21zM889.5 179.5h21v21h-21zM890.3 179.5h21v21h-21zM891.2 179.5h21v21h-21zM892.1 179.4h21v21h-21zM893 179.4h21v21h-21zM893.9 179.4h21v21h-21zM894.7 179.4h21v21h-21zM895.6 179.3h21v21h-21zM896.5 179.3h21v21h-21zM897.4 179.3h21v21h-21zM898.3 179.3h21v21h-21zM899.1 179.2h21v21h-21zM900 179.2h21v21h-21zM900.9 179.2h21v21h-21zM901.8 179.1h21v21h-21zM902.7 179.1h21v21h-21zM903.5 179.1h21v21h-21zM904.4 179.1h21v21h-21zM905.3 179h21v21h-21zM906.2 179h21v21h-21zM907.1 179h21v21h-21zM907.9 178.9h21v21h-21zM908.8 178.9h21v21h-21zM909.7 178.9h21v21h-21zM910.6 178.8h21v21h-21zM911.5 178.8h21v21h-21zM912.3 178.8h21v21h-21zM913.2 178.7h21v21h-21zM914.1 178.7h21v21h-21zM915 178.7h21v21h-21zM915.9 178.6h21v21h-21zM916.7 178.6h21v21h-21zM917.6 178.5h21v21h-21zM918.5 178.5h21v21h-21zM919.4 178.4h21v21h-21zM920.3 178.4h21v21h-21zM921.1 178.3h21v21h-21zM922 178.3h21v21h-21zM922.9 178.2h21v21h-21zM923.8 178.2h21v21h-21zM924.7 178.1h21v21h-21zM925.5 178.1h21v21h-21zM926.4 178h21v21h-21zM927.3 178h21v21h-21zM928.2 178h21v21h-21zM929.1 177.9h21v21h-21zM930 177.9h21v21h-21zM930.8 177.8h21v21h-21zM931.7 177.8h21v21h-21zM932.6 177.7h21v21h-21zM933.5 177.7h21v21h-21zM934.4 177.6h21v21h-21zM935.2 177.6h21v21h-21zM936.1 177.5h21v21h-21zM937 177.5h21v21h-21zM937.9 177.5h21v21h-21zM938.8 177.4h21v21h-21zM939.6 177.4h21v21h-21zM940.5 177.4h21v21h-21zM941.4 177.3h21v21h-21zM942.3 177.3h21v21h-21zM943.2 177.3h21v21h-21zM944 177.3h21v21h-21zM944.9 177.2h21v21h-21zM945.8 177.2h21v21h-21zM946.7 177.2h21v21h-21zM947.6 177.2h21v21h-21zM948.4 177.2h21v21h-21zM949.3 177.2h21v21h-21zM950.2 177.2h21v21h-21zM951.1 177.1h21v21h-21zM952 177.1h21v21h-21zM952.8 177.1h21v21h-21zM953.7 177.1h21v21h-21zM954.6 177.1h21v21h-21zM955.5 177.1h21v21h-21zM956.4 177.1h21v21h-21zM957.2 177.1h21v21h-21zM958.1 177.1h21v21h-21zM959 177h21v21h-21zM959.9 177h21v21h-21zM960.8 177h21v21h-21zM961.6 177h21v21h-21zM962.5 177h21v21h-21zM963.4 177h21v21h-21zM964.3 177h21v21h-21zM965.2 177h21v21h-21zM966 177h21v21h-21zM966.9 177h21v21h-21zM967.8 177h21v21h-21zM968.7 176.9h21v21h-21zM969.6 176.9h21v21h-21zM970.4 176.9h21v21h-21zM971.3 176.9h21v21h-21zM972.2 176.9h21v21h-21zM973.1 176.9h21v21h-21zM974 176.9h21v21h-21zM974.9 176.9h21v21h-21zM975.7 176.9h21v21h-21zM976.6 176.9h21v21h-21zM977.5 176.9h21v21h-21zM978.4 176.9h21v21h-21zM979.3 176.9h21v21h-21zM980.1 176.9h21v21h-21zM981 176.9h21v21h-21zM982 181.2h21v21h-21zM982.9 187.6h21v21h-21zM983.7 190.5h21v21h-21zM984.6 192.3h21v21h-21zM985.5 193.7h21v21h-21zM986.4 194.8h21v21h-21zM987.3 195.8h21v21h-21zM988.1 196.8h21v21h-21zM989 197.7h21v21h-21zM989.9 198.6h21v21h-21zM990.8 199.4h21v21h-21zM991.7 200.3h21v21h-21zM992.5 201.1h21v21h-21zM993.4 201.8h21v21h-21zM994.3 202.5h21v21h-21zM995.2 203.1h21v21h-21zM996.1 203.6h21v21h-21zM996.9 204.1h21v21h-21zM997.8 204.4h21v21h-21zM998.7 204.8h21v21h-21zM999.6 205.1h21v21h-21zM1000.5 205.4h21v21h-21zM1001.3 205.7h21v21h-21zM1002.2 205.9h21v21h-21zM1003.1 206.2h21v21h-21zM1004 206.4h21v21h-21zM1004.9 206.6h21v21h-21zM1005.7 206.8h21v21h-21zM1006.6 207h21v21h-21zM1007.5 207.2h21v21h-21zM1008.4 207.4h21v21h-21zM1009.3 207.5h21v21h-21zM1010.1 207.7h21v21h-21zM1011 207.9h21v21h-21zM1011.9 208.1h21v21h-21zM1012.8 208.2h21v21h-21zM1013.7 208.4h21v21h-21zM1014.6 208.6h21v21h-21zM1015.4 208.7h21v21h-21zM1016.3 208.9h21v21h-21zM1017.2 209h21v21h-21zM1018.1 209.2h21v21h-21zM1019 209.3h21v21h-21zM1019.8 209.4h21v21h-21zM1020.7 209.6h21v21h-21zM1021.6 209.7h21v21h-21zM1022.5 209.9h21v21h-21zM1023.4 210h21v21h-21zM1024.2 210.1h21v21h-21zM1025.1 210.2h21v21h-21zM1026 210.4h21v21h-21zM1026.9 210.5h21v21h-21zM1027.8 210.6h21v21h-21zM1028.6 210.7h21v21h-21zM1029.5 210.8h21v21h-21zM1030.4 210.9h21v21h-21zM1031.3 211h21v21h-21zM1032.2 211.2h21v21h-21zM1033 211.3h21v21h-21zM1033.9 211.4h21v21h-21zM1034.8 211.5h21v21h-21zM1035.7 211.6h21v21h-21zM1036.6 211.7h21v21h-21zM1037.4 211.8h21v21h-21zM1038.3 211.9h21v21h-21zM1039.2 212h21v21h-21zM1040.1 212.1h21v21h-21zM1041 212.2h21v21h-21zM1041.8 212.3h21v21h-21zM1042.7 212.4h21v21h-21zM1043.6 212.5h21v21h-21zM1044.5 212.6h21v21h-21zM1045.4 212.7h21v21h-21zM1046.2 212.8h21v21h-21zM1047.1 212.9h21v21h-21zM1048 213h21v21h-21zM1048.9 213.1h21v21h-21zM1049.8 213.2h21v21h-21zM1050.6 213.2h21v21h-21zM1051.5 213.3h21v21h-21zM1052.4 213.4h21v21h-21zM1053.3 213.5h21v21h-21zM1054.2 213.6h21v21h-21zM1055 213.7h21v21h-21zM1055.9 213.8h21v21h-21zM1056.8 213.9h21v21h-21zM1057.7 213.9h21v21h-21zM1058.6 214h21v21h-21zM1059.5 214.1h21v21h-21zM1060.3 214.2h21v21h-21zM1061.2 214.3h21v21h-21zM1062.1 214.4h21v21h-21zM1063 214.4h21v21h-21zM1063.9 214.5h21v21h-21zM1064.7 214.6h21v21h-21zM1065.6 214.7h21v21h-21zM1066.5 214.8h21v21h-21zM1067.4 214.8h21v21h-21zM1068.3 214.9h21v21h-21zM1069.1 215h21v21h-21zM1070 215.1h21v21h-21zM1070.9 215.1h21v21h-21zM1071.8 215.2h21v21h-21zM1072.7 215.3h21v21h-21zM1073.5 215.4h21v21h-21zM1074.4 215.4h21v21h-21zM1075.3 215.5h21v21h-21zM1076.2 215.6h21v21h-21zM1077.1 215.6h21v21h-21zM1077.9 215.7h21v21h-21zM1078.8 215.8h21v21h-21zM1079.7 215.9h21v21h-21zM1080.6 215.9h21v21h-21zM1081.5 216h21v21h-21zM1082.3 216.1h21v21h-21zM1083.2 216.1h21v21h-21zM1084.1 216.2h21v21h-21zM1085 216.3h21v21h-21zM1085.9 216.3h21v21h-21zM1086.7 216.4h21v21h-21zM1087.6 216.4h21v21h-21zM1088.5 216.5h21v21h-21zM1089.4 216.6h21v21h-21zM1090.3 216.6h21v21h-21zM1091.1 216.7h21v21h-21zM1092 216.8h21v21h-21zM1092.9 216.8h21v21h-21zM1093.8 216.9h21v21h-21zM1094.7 216.9h21v21h-21zM1095.5 217h21v21h-21zM1096.4 217.1h21v21h-21zM1097.3 217.1h21v21h-21zM1098.2 217.2h21v21h-21zM1099.1 217.2h21v21h-21zM1099.9 217.3h21v21h-21zM1100.8 217.4h21v21h-21zM1101.7 217.4h21v21h-21zM1102.6 217.5h21v21h-21zM1103.5 217.5h21v21h-21zM1104.4 217.6h21v21h-21zM1105.2 217.6h21v21h-21zM1106.1 217.7h21v21h-21zM1107 217.8h21v21h-21zM1107.9 217.8h21v21h-21zM1108.8 217.9h21v21h-21zM1109.6 217.9h21v21h-21zM1110.5 218h21v21h-21zM1111.4 218h21v21h-21zM1112.3 218.1h21v21h-21zM1113.2 218.1h21v21h-21zM1114 218.2h21v21h-21zM1114.9 218.3h21v21h-21zM1115.8 218.3h21v21h-21zM1116.7 218.4h21v21h-21zM1117.6 218.4h21v21h-21zM1118.4 218.5h21v21h-21zM1119.3 218.5h21v21h-21zM1120.2 218.6h21v21h-21zM1121.1 218.6h21v21h-21zM1122 218.7h21v21h-21zM1122.8 218.7h21v21h-21zM1123.7 218.8h21v21h-21zM1124.6 218.8h21v21h-21zM1125.5 218.9h21v21h-21zM1126.4 218.9h21v21h-21zM1127.2 219h21v21h-21zM1128.1 219h21v21h-21zM1129 219.1h21v21h-21zM1129.9 219.1h21v21h-21zM1130.8 219.2h21v21h-21zM1131.6 219.2h21v21h-21zM1132.5 219.3h21v21h-21zM1133.4 219.3h21v21h-21zM1134.3 219.4h21v21h-21zM1135.2 219.4h21v21h-21zM1136 219.5h21v21h-21zM1136.9 219.5h21v21h-21zM1137.8 219.6h21v21h-21zM1138.7 219.6h21v21h-21zM1139.6 219.7h21v21h-21zM1140.4 219.7h21v21h-21zM1141.3 219.8h21v21h-21zM1142.2 219.8h21v21h-21zM1143.1 219.9h21v21h-21zM1144 219.9h21v21h-21zM1144.8 220h21v21h-21zM1145.7 220h21v21h-21zM1146.6 220.1h21v21h-21zM1147.5 220.1h21v21h-21zM1148.4 220.1h21v21h-21zM1149.2 220.2h21v21h-21zM1150.1 220.2h21v21h-21zM1151 220.3h21v21h-21zM1151.9 220.3h21v21h-21zM1152.8 220.4h21v21h-21zM1153.7 220.4h21v21h-21zM1154.5 220.5h21v21h-21zM1155.4 220.5h21v21h-21zM1156.3 220.6h21v21h-21zM1157.2 220.6h21v21h-21zM1158.1 220.7h21v21h-21zM1158.9 220.7h21v21h-21zM1159.8 220.8h21v21h-21zM1160.7 220.8h21v21h-21zM1161.6 220.9h21v21h-21zM1162.5 220.9h21v21h-21zM1163.3 220.9h21v21h-21zM1164.2 221h21v21h-21zM1165.1 221h21v21h-21zM1166 221.1h21v21h-21zM1166.9 221.1h21v21h-21zM1167.7 221.2h21v21h-21zM1168.6 221.2h21v21h-21zM1169.5 221.3h21v21h-21zM1170.4 221.3h21v21h-21zM1171.3 221.4h21v21h-21zM1172.1 221.4h21v21h-21zM1173 221.5h21v21h-21zM1173.9 221.5h21v21h-21zM1174.8 221.6h21v21h-21zM1175.7 221.6h21v21h-21zM1176.5 221.7h21v21h-21zM1177.4 221.7h21v21h-21zM1178.3 221.8h21v21h-21zM1179.2 221.8h21v21h-21zM1180.1 221.9h21v21h-21zM1180.9 221.9h21v21h-21zM1181.8 222h21v21h-21zM1182.7 222h21v21h-21zM1183.6 222.1h21v21h-21zM1184.5 222.1h21v21h-21zM1185.3 222.1h21v21h-21zM1186.2 222.2h21v21h-21zM1187.1 222.2h21v21h-21zM1188 222.3h21v21h-21zM1188.9 222.3h21v21h-21zM1189.7 222.4h21v21h-21zM1190.6 222.4h21v21h-21zM1191.5 222.5h21v21h-21zM1192.4 222.5h21v21h-21zM1193.3 222.6h21v21h-21zM1194.1 222.6h21v21h-21zM1195 222.7h21v21h-21zM1195.9 222.7h21v21h-21zM1196.8 222.8h21v21h-21zM1197.7 222.8h21v21h-21zM1198.6 222.9h21v21h-21zM1199.4 222.9h21v21h-21zM1200.3 223h21v21h-21zM1201.2 223h21v21h-21zM1202.1 223.1h21v21h-21zM1203 223.1h21v21h-21zM1203.8 223.2h21v21h-21zM1204.7 223.2h21v21h-21zM1205.6 223.3h21v21h-21zM1206.5 223.3h21v21h-21zM1207.4 223.4h21v21h-21zM1208.2 223.4h21v21h-21zM1209.1 223.5h21v21h-21zM1210 223.5h21v21h-21zM1210.9 223.6h21v21h-21zM1211.8 223.6h21v21h-21zM1212.6 223.7h21v21h-21zM1213.5 223.7h21v21h-21zM1214.4 223.8h21v21h-21zM1215.3 223.8h21v21h-21zM1216.2 223.9h21v21h-21zM1217 223.9h21v21h-21zM1217.9 224h21v21h-21zM1218.8 224h21v21h-21zM1219.7 224.1h21v21h-21zM1220.6 224.1h21v21h-21zM1221.4 224.2h21v21h-21zM1222.3 224.2h21v21h-21zM1223.2 224.2h21v21h-21zM1224.1 224.3h21v21h-21zM1225 224.3h21v21h-21zM1225.8 224.4h21v21h-21zM1226.7 224.4h21v21h-21zM1227.6 224.5h21v21h-21zM1228.5 224.5h21v21h-21zM1229.4 224.6h21v21h-21zM1230.2 224.6h21v21h-21zM1231.1 224.7h21v21h-21zM1232 224.7h21v21h-21zM1232.9 224.8h21v21h-21zM1233.8 224.8h21v21h-21zM1234.6 224.9h21v21h-21zM1235.5 224.9h21v21h-21zM1236.4 225h21v21h-21zM1237.3 225h21v21h-21zM1238.2 225.1h21v21h-21zM1239 225.1h21v21h-21zM1239.9 225.2h21v21h-21zM1240.8 225.2h21v21h-21zM1241.7 225.3h21v21h-21zM1242.6 225.3h21v21h-21zM1243.5 225.4h21v21h-21zM1244.3 225.4h21v21h-21zM1245.2 225.5h21v21h-21zM1246.1 225.5h21v21h-21zM1247 225.6h21v21h-21zM1247.9 225.6h21v21h-21zM1248.7 225.7h21v21h-21zM1249.6 225.7h21v21h-21zM1250.5 225.7h21v21h-21zM1251.4 225.8h21v21h-21zM1252.3 225.8h21v21h-21zM1253.1 225.9h21v21h-21zM1254 225.9h21v21h-21zM1254.9 226h21v21h-21zM1255.8 226h21v21h-21zM1256.7 226.1h21v21h-21zM1257.5 226.1h21v21h-21zM1258.4 226.2h21v21h-21zM1259.3 226.2h21v21h-21zM1260.2 226.3h21v21h-21zM1261.1 226.3h21v21h-21zM1261.9 226.4h21v21h-21zM1262.8 226.4h21v21h-21zM1263.7 226.5h21v21h-21zM1264.6 226.5h21v21h-21zM1265.5 226.6h21v21h-21zM1266.3 226.6h21v21h-21zM1267.2 226.7h21v21h-21zM1268.1 226.7h21v21h-21zM1269 226.7h21v21h-21zM1269.9 226.8h21v21h-21zM1270.7 226.8h21v21h-21zM1271.6 226.9h21v21h-21zM1272.5 226.9h21v21h-21zM1273.4 227h21v21h-21zM1274.3 227h21v21h-21zM1275.1 227.1h21v21h-21zM1276 227.1h21v21h-21zM1276.9 227.2h21v21h-21zM1277.8 227.2h21v21h-21zM1278.7 227.3h21v21h-21zM1279.5 227.3h21v21h-21zM1280.4 227.4h21v21h-21zM1281.3 227.4h21v21h-21zM1282.2 227.4h21v21h-21zM1283.1 227.5h21v21h-21zM1283.9 227.5h21v21h-21zM1284.8 227.6h21v21h-21zM1285.7 227.6h21v21h-21zM1286.6 227.7h21v21h-21zM1287.5 227.7h21v21h-21zM1288.3 227.8h21v21h-21zM1289.2 227.8h21v21h-21zM1290.1 227.9h21v21h-21zM1291 227.9h21v21h-21zM1291.9 228h21v21h-21zM1292.8 228h21v21h-21zM1293.6 228h21v21h-21zM1294.5 228.1h21v21h-21zM1295.4 228.1h21v21h-21zM1296.3 228.2h21v21h-21zM1297.2 228.2h21v21h-21zM1298 228.3h21v21h-21zM1298.9 228.3h21v21h-21zM1299.8 228.4h21v21h-21zM1300.7 228.4h21v21h-21zM1301.6 228.4h21v21h-21zM1302.4 228.5h21v21h-21zM1303.3 228.5h21v21h-21zM1304.2 228.6h21v21h-21zM1305.1 228.6h21v21h-21zM1306 228.7h21v21h-21zM1306.8 228.7h21v21h-21zM1307.7 228.8h21v21h-21zM1308.6 228.8h21v21h-21zM1309.5 228.8h21v21h-21zM1310.4 228.9h21v21h-21zM1311.2 228.9h21v21h-21zM1312.1 229h21v21h-21zM1313 229h21v21h-21zM1313.9 229.1h21v21h-21zM1314.8 229.1h21v21h-21zM1315.6 229.2h21v21h-21zM1316.5 229.2h21v21h-21zM1317.4 229.2h21v21h-21zM1318.3 229.3h21v21h-21zM1319.2 229.3h21v21h-21zM1320 229.4h21v21h-21zM1320.9 229.4h21v21h-21zM1321.8 229.5h21v21h-21zM1322.7 229.5h21v21h-21zM1323.6 229.5h21v21h-21zM1324.4 229.6h21v21h-21zM1325.3 229.6h21v21h-21zM1326.2 229.7h21v21h-21zM1327.1 229.7h21v21h-21zM1328 229.8h21v21h-21zM1328.8 229.8h21v21h-21zM1329.7 229.8h21v21h-21zM1330.6 229.9h21v21h-21zM1331.5 229.9h21v21h-21zM1332.4 230h21v21h-21zM1333.2 230h21v21h-21zM1334.1 230.1h21v21h-21zM1335 230.1h21v21h-21zM1335.9 230.1h21v21h-21zM1336.8 230.2h21v21h-21zM1337.7 230.2h21v21h-21zM1338.5 230.3h21v21h-21zM1339.4 230.3h21v21h-21zM1340.3 230.3h21v21h-21zM1341.2 230.4h21v21h-21zM1342.1 230.4h21v21h-21zM1342.9 230.5h21v21h-21zM1343.8 230.5h21v21h-21zM1344.7 230.5h21v21h-21zM1345.6 230.6h21v21h-21zM1346.5 230.6h21v21h-21zM1347.3 230.7h21v21h-21zM1348.2 230.7h21v21h-21zM1349.1 230.7h21v21h-21zM1350 230.8h21v21h-21zM1350.9 230.8h21v21h-21zM1351.7 230.9h21v21h-21zM1352.6 230.9h21v21h-21zM1353.5 230.9h21v21h-21zM1354.4 231h21v21h-21zM1355.3 231h21v21h-21zM1356.1 231.1h21v21h-21zM1357 231.1h21v21h-21zM1357.9 231.1h21v21h-21zM1358.8 231.2h21v21h-21zM1359.7 231.2h21v21h-21zM1360.5 231.3h21v21h-21zM1361.4 231.3h21v21h-21zM1362.3 231.3h21v21h-21zM1363.2 231.4h21v21h-21zM1364.1 231.4h21v21h-21zM1364.9 231.4h21v21h-21zM1365.8 231.5h21v21h-21zM1366.7 231.5h21v21h-21zM1367.6 231.6h21v21h-21zM1368.5 231.6h21v21h-21zM1369.3 231.6h21v21h-21zM1370.2 231.7h21v21h-21zM1371.1 231.7h21v21h-21zM1372 231.7h21v21h-21zM1372.9 231.8h21v21h-21zM1373.7 231.8h21v21h-21zM1374.6 231.9h21v21h-21zM1375.5 231.9h21v21h-21zM1376.4 231.9h21v21h-21zM1377.3 232h21v21h-21zM1378.1 232h21v21h-21zM1379 232h21v21h-21zM1379.9 232.1h21v21h-21zM1380.8 232.1h21v21h-21zM1381.7 232.1h21v21h-21zM1382.6 232.2h21v21h-21zM1383.4 232.2h21v21h-21zM1384.3 232.2h21v21h-21zM1385.2 232.3h21v21h-21zM1386.1 232.3h21v21h-21zM1387 232.3h21v21h-21zM1387.8 232.4h21v21h-21zM1388.7 232.4h21v21h-21zM1389.6 232.5h21v21h-21zM1390.5 232.5h21v21h-21zM1391.4 232.5h21v21h-21zM1392.2 232.6h21v21h-21zM1393.1 232.6h21v21h-21zM1394 232.6h21v21h-21zM1394.9 232.7h21v21h-21zM1395.8 232.7h21v21h-21zM1396.6 232.7h21v21h-21zM1397.5 232.8h21v21h-21zM1398.4 232.8h21v21h-21zM1399.3 232.8h21v21h-21zM1400.2 232.9h21v21h-21zM1401 232.9h21v21h-21zM1401.9 232.9h21v21h-21zM1402.8 233h21v21h-21zM1403.7 233h21v21h-21zM1404.6 233h21v21h-21zM1405.4 233.1h21v21h-21zM1406.3 233.1h21v21h-21zM1407.2 233.1h21v21h-21zM1408.1 233.2h21v21h-21zM1409 233.2h21v21h-21zM1409.8 233.2h21v21h-21zM1410.7 233.3h21v21h-21zM1411.6 233.3h21v21h-21zM1412.5 233.3h21v21h-21zM1413.4 233.4h21v21h-21zM1414.2 233.4h21v21h-21zM1415.1 233.4h21v21h-21zM1416 233.5h21v21h-21zM1416.9 233.5h21v21h-21zM1417.8 233.5h21v21h-21zM1418.6 233.6h21v21h-21zM1419.5 233.6h21v21h-21zM1420.4 233.6h21v21h-21zM1421.3 233.7h21v21h-21zM1422.2 233.7h21v21h-21zM1423 233.7h21v21h-21zM1423.9 233.8h21v21h-21zM1424.8 233.8h21v21h-21zM1425.7 233.8h21v21h-21zM1426.6 233.9h21v21h-21zM1427.4 233.9h21v21h-21zM1428.3 233.9h21v21h-21zM1429.2 233.9h21v21h-21zM1430.1 234h21v21h-21zM1431 234h21v21h-21zM1431.9 234h21v21h-21zM1432.7 234.1h21v21h-21zM1433.6 234.1h21v21h-21zM1434.5 234.1h21v21h-21zM1435.4 234.2h21v21h-21zM1436.3 234.2h21v21h-21zM1437.1 234.2h21v21h-21zM1438 234.3h21v21h-21zM1438.9 234.3h21v21h-21zM1439.8 234.3h21v21h-21zM1440.7 234.4h21v21h-21zM1441.5 234.4h21v21h-21zM1442.4 234.4h21v21h-21zM1443.3 234.5h21v21h-21zM1444.2 234.5h21v21h-21zM1445.1 234.5h21v21h-21zM1445.9 234.6h21v21h-21zM1446.8 234.6h21v21h-21zM1447.7 234.6h21v21h-21zM1448.6 234.6h21v21h-21zM1449.5 234.7h21v21h-21zM1450.3 234.7h21v21h-21zM1451.2 234.7h21v21h-21zM1452.1 234.8h21v21h-21zM1453 234.8h21v21h-21zM1453.9 234.8h21v21h-21zM1454.7 234.9h21v21h-21zM1455.6 234.9h21v21h-21zM1456.5 234.9h21v21h-21zM1457.4 235h21v21h-21zM1458.3 235h21v21h-21zM1459.1 235h21v21h-21zM1460 235h21v21h-21zM1460.9 235.1h21v21h-21zM1461.8 235.1h21v21h-21zM1462.7 235.1h21v21h-21zM1463.5 235.2h21v21h-21zM1464.4 235.2h21v21h-21zM1465.3 235.2h21v21h-21zM1466.2 235.3h21v21h-21zM1467.1 235.3h21v21h-21zM1467.9 235.3h21v21h-21zM1468.8 235.3h21v21h-21zM1469.7 235.4h21v21h-21zM1470.6 235.4h21v21h-21zM1471.5 235.4h21v21h-21zM1472.3 235.5h21v21h-21zM1473.2 235.5h21v21h-21zM1474.1 235.5h21v21h-21zM1475 235.6h21v21h-21zM1475.9 235.6h21v21h-21zM1476.8 235.6h21v21h-21zM1477.6 235.6h21v21h-21zM1478.5 235.7h21v21h-21zM1479.4 235.7h21v21h-21zM1480.3 235.7h21v21h-21zM1481.2 235.8h21v21h-21zM1482 235.8h21v21h-21zM1482.9 235.8h21v21h-21zM1483.8 235.8h21v21h-21zM1484.7 235.9h21v21h-21zM1485.6 235.9h21v21h-21zM1486.4 235.9h21v21h-21zM1487.3 236h21v21h-21zM1488.2 236h21v21h-21zM1489.1 236h21v21h-21zM1490 236h21v21h-21zM1490.8 236.1h21v21h-21zM1491.7 236.1h21v21h-21zM1492.6 236.1h21v21h-21zM1493.5 236.2h21v21h-21zM1494.4 236.2h21v21h-21zM1495.2 236.2h21v21h-21zM1496.1 236.2h21v21h-21zM1497 236.3h21v21h-21zM1497.9 236.3h21v21h-21zM1498.8 236.3h21v21h-21zM1499.6 236.3h21v21h-21zM1500.5 236.4h21v21h-21zM1501.4 236.4h21v21h-21zM1502.3 236.4h21v21h-21zM1503.2 236.5h21v21h-21zM1504 236.5h21v21h-21zM1504.9 236.5h21v21h-21zM1505.8 236.5h21v21h-21zM1506.7 236.6h21v21h-21zM1507.6 236.6h21v21h-21zM1508.4 236.6h21v21h-21zM1509.3 236.6h21v21h-21zM1510.2 236.7h21v21h-21zM1511.1 236.7h21v21h-21zM1512 236.7h21v21h-21zM1512.8 236.8h21v21h-21zM1513.7 236.8h21v21h-21zM1514.6 236.8h21v21h-21zM1515.5 236.8h21v21h-21zM1516.4 236.9h21v21h-21zM1517.2 236.9h21v21h-21zM1518.1 236.9h21v21h-21zM1519 236.9h21v21h-21zM1519.9 237h21v21h-21zM1520.8 237h21v21h-21zM1521.7 237h21v21h-21zM1522.5 237h21v21h-21zM1523.4 237.1h21v21h-21zM1524.3 237.1h21v21h-21zM1525.2 237.1h21v21h-21zM1526.1 237.1h21v21h-21zM1526.9 237.2h21v21h-21zM1527.8 237.2h21v21h-21zM1528.7 237.2h21v21h-21zM1529.6 237.2h21v21h-21zM1530.5 237.3h21v21h-21zM1531.3 237.3h21v21h-21zM1532.2 237.3h21v21h-21zM1533.1 237.3h21v21h-21zM1534 237.4h21v21h-21zM1534.9 237.4h21v21h-21zM1535.7 237.4h21v21h-21zM1536.6 237.4h21v21h-21zM1537.5 237.5h21v21h-21zM1538.4 237.5h21v21h-21zM1539.3 237.5h21v21h-21zM1540.1 237.5h21v21h-21zM1541 237.6h21v21h-21zM1541.9 237.6h21v21h-21zM1542.8 237.6h21v21h-21zM1543.7 237.6h21v21h-21zM1544.5 237.7h21v21h-21zM1545.4 237.7h21v21h-21zM1546.3 237.7h21v21h-21zM1547.2 237.7h21v21h-21zM1548.1 237.8h21v21h-21zM1548.9 237.8h21v21h-21zM1549.8 237.8h21v21h-21zM1550.7 237.8h21v21h-21zM1551.6 237.9h21v21h-21zM1552.5 237.9h21v21h-21zM1553.3 237.9h21v21h-21zM1554.2 237.9h21v21h-21zM1555.1 237.9h21v21h-21zM1556 238h21v21h-21zM1556.9 238h21v21h-21zM1557.7 238h21v21h-21zM1558.6 238h21v21h-21zM1559.5 238.1h21v21h-21zM1560.4 238.1h21v21h-21zM1561.3 238.1h21v21h-21zM1562.1 238.1h21v21h-21zM1563 238.2h21v21h-21zM1563.9 238.2h21v21h-21zM1564.8 238.2h21v21h-21zM1565.7 238.2h21v21h-21zM1566.5 238.2h21v21h-21zM1567.4 238.3h21v21h-21zM1568.3 238.3h21v21h-21zM1569.2 238.3h21v21h-21zM1570.1 238.3h21v21h-21zM1571 238.3h21v21h-21zM1571.8 238.4h21v21h-21zM1572.7 238.4h21v21h-21zM1573.6 238.4h21v21h-21zM1574.5 238.4h21v21h-21zM1575.4 238.5h21v21h-21zM1576.2 238.5h21v21h-21zM1577.1 238.5h21v21h-21zM1578 238.5h21v21h-21zM1578.9 238.5h21v21h-21zM1579.8 238.6h21v21h-21zM1580.6 238.6h21v21h-21zM1581.5 238.6h21v21h-21zM1582.4 238.6h21v21h-21zM1583.3 238.6h21v21h-21zM1584.2 238.7h21v21h-21zM1585 238.7h21v21h-21zM1585.9 238.7h21v21h-21zM1586.8 238.7h21v21h-21zM1587.7 238.7h21v21h-21zM1588.6 238.8h21v21h-21zM1589.4 238.8h21v21h-21zM1590.3 238.8h21v21h-21zM1591 238.8h21v21h-21z" fill="#000"/>

<polyline points="283.7,1108 285.1,1108 286.5,1108 287.9,1108 289.3,1108 290.7,1108 292.1,1108 293.6,1108 295,1108 296.4,1108 297.8,1108 299.2,1108 300.6,1108 302,1108 303.4,1108 304.9,1108 306.3,1108 307.7,1108 309.1,1108 310.5,1108 311.9,1108 313.3,1108 314.7,1108 316.1,1108 317.6,1108 319,1108 320.4,1108 321.8,1108 323.2,1108 324.6,1108 326,1108 327.4,1108 328.9,1108 330.3,1108 331.7,1108 333.1,1108 334.5,1108 335.9,1108 337.3,1108 338.7,1108 340.2,1108 341.6,1108 343,1108 344.4,1109 345.8,1108 347.2,1108 348.6,1108 350,1108 351.4,1108 352.9,1108 354.3,1108 355.7,1108 357.1,1108 358.5,1108 359.9,1108 361.3,1108 362.7,1108 364.2,1108 365.6,1108 367,1108 368.4,1108 369.8,1109 371.2,1108 372.6,1108 374,1108 375.4,1108 376.9,1108 378.3,1108 379.7,1108 381.1,1108 382.5,1108 383.9,1108 385.3,1108 386.7,1108 388.2,1108 389.6,1108 391,1108 392.4,1108 393.8,1108 395.2,1108 396.6,1108 398,1108 399.5,1108 400.9,1108 402.3,916 403.8,792 405.4,718 406.8,667 408.2,624 409.6,590 411,562 412.4,538 413.8,517 415.2,501 416.6,484 418,464 419.4,450 420.8,440 422.2,427 423.7,418 425.1,411 426.5,404 427.9,397 429.3,389 430.7,382 432.1,376 433.5,370 434.9,363 436.3,357 437.7,352 439.1,347 440.6,342 442,339 443.4,335 444.8,332 446.2,329 447.6,326 449,323 450.4,321 451.8,319 453.2,316 454.6,313 456,311 457.5,309 458.9,306 460.3,305 461.7,302 463.1,300 464.5,299 465.9,297 467.3,295 468.7,293 470.1,292 471.5,290 473,288 474.4,288 475.8,286 477.2,285 478.6,284 480,282 481.4,281 482.8,280 484.2,279 485.6,278 487,276 488.4,276 489.9,275 491.3,273 492.7,273 494.1,272 495.5,271 496.9,270 498.3,269 499.7,268 501.1,267 502.5,266 503.9,265 505.4,265 506.8,264 508.2,264 509.6,263 511,263 512.4,261 513.8,262 515.2,261 516.6,261 518,260 519.4,260 520.8,259 522.3,259 523.7,259 525.1,258 526.5,258 527.9,257 529.3,258 530.7,257 532.1,256 533.5,256 534.9,256 536.3,254 537.7,254 539.2,254 540.6,253 542,253 543.4,252 544.8,252 546.2,251 547.6,250 549,250 550.4,250 551.8,249 553.2,249 554.7,248 556.1,247 557.5,248 558.9,246 560.3,246 561.7,246 563.1,246 564.5,246 565.9,246 567.3,245 568.7,244 570.1,244 571.6,244 573,243 574.4,244 575.8,242 577.2,243 578.6,242 580,242 581.4,242 582.8,241 584.2,241 585.6,240 587.1,240 588.5,240 589.9,240 591.3,239 592.7,239 594.1,239 595.5,239 596.9,238 598.3,238 599.7,238 601.1,237 602.5,237 604,237 605.4,236 606.8,236 608.2,236 609.6,235 611,236 612.4,235 613.8,235 615.2,235 616.6,235 618,235 619.4,234 620.9,234 622.3,234 623.7,234 625.1,233 626.5,234 627.9,233 629.3,233 630.7,233 632.1,233 633.5,233 634.9,232 636.4,232 637.8,232 639.2,232 640.6,231 642,231 643.4,231 644.8,231 646.2,231 647.6,230 649,231 650.4,231 651.8,230 653.3,231 654.7,230 656.1,229 657.5,230 658.9,230 660.3,229 661.7,229 663.1,229 664.5,229 665.9,229 667.3,229 668.7,229 670.2,229 671.6,228 673,229 674.4,228 675.8,228 677.2,228 678.6,228 680,227 681.4,228 682.8,228 684.2,227 685.7,227 687.1,227 688.5,227 689.9,227 691.3,227 692.7,227 694.1,227 695.5,227 696.9,226 698.3,226 699.7,226 701.1,226 702.6,227 704,226 705.4,226 706.8,226 708.2,225 709.6,226 711,226 712.4,225 713.8,226 715.2,226 716.6,225 718.1,225 719.5,225 720.9,225 722.3,225 723.7,225 725.1,225 726.5,225 727.9,225 729.3,224 730.7,225 732.1,225 733.5,224 735,224 736.4,225 737.8,224 739.2,224 740.6,224 742,224 743.4,224 744.8,224 746.2,224 747.6,224 749,223 750.4,224 751.9,224 753.3,223 754.7,223 756.1,223 757.5,223 758.9,223 760.3,224 761.7,223 763.1,224 764.5,223 765.9,223 767.4,223 768.8,223 770.2,223 771.6,223 773,223 774.4,223 775.8,223 777.2,223 778.6,223 780,223 781.4,222 782.8,223 784.3,222 785.7,222 787.1,222 788.5,223 789.9,222 791.3,222 792.7,222 794.1,222 795.5,222 796.9,222 798.3,221 799.7,222 801.2,222 802.6,221 804,221 805.4,221 806.8,221 808.2,221 809.6,221 811,221 812.4,221 813.8,221 815.2,221 816.7,221 818.1,221 819.5,221 820.9,220 822.3,221 823.7,220 825.1,221 826.5,221 827.9,220 829.3,221 830.7,221 832.1,221 833.6,220 835,220 836.4,220 837.8,220 839.2,220 840.6,220 842,220 843.4,219 844.8,220 846.2,220 847.6,220 849.1,220 850.5,220 851.9,220 853.3,220 854.7,219 856.1,219 857.5,219 858.9,220 860.3,219 861.7,219 863.1,219 864.5,219 866,219 867.4,219 868.8,219 870.2,219 871.6,219 873,219 874.4,218 875.8,219 877.2,219 878.6,219 880,218 881.4,219 882.9,219 884.3,218 885.7,218 887.1,218 888.5,218 889.9,218 891.3,218 892.7,218 894.1,218 895.5,217 896.9,218 898.4,218 899.8,218 901.2,218 902.6,217 904,218 905.4,217 906.8,218 908.2,218 909.6,218 911,217 912.4,218 913.8,218 915.3,217 916.7,217 918.1,218 919.5,218 920.9,218 922.3,217 923.7,218 925.1,218 926.5,218 927.9,218 929.3,218 930.8,217 932.2,217 933.6,218 935,217 936.4,217 937.8,217 939.2,218 940.6,217 942,218 943.4,217 944.8,217 946.2,217 947.7,217 949.1,217 950.5,218 951.9,217 953.3,217 954.7,217 956.1,217 957.5,217 958.9,217 960.3,217 961.7,217 963.1,217 964.6,217 966,217 967.4,217 968.8,217 970.2,217 971.6,217 973,217 974.4,217 975.8,217 977.2,217 978.6,217 980.1,217 981.5,217 982.9,217 984.3,217 985.7,217 987.1,216 988.6,221 990,226 991.4,229 992.8,231 994.2,233 995.6,235 997,237 998.4,239 999.8,240 1001.2,242 1002.7,243 1004.1,244 1005.5,244 1006.9,246 1008.3,247 1009.7,248 1011.1,248 1012.5,249 1013.9,250 1015.3,250 1016.7,250 1018.1,251 1019.6,252 1021,251 1022.4,252 1023.8,253 1025.2,253 1026.6,253 1028,253 1029.4,254 1030.8,254 1032.2,254 1033.6,254 1035,254 1036.5,255 1037.9,255 1039.3,255 1040.7,255 1042.1,256 1043.5,256 1044.9,256 1046.3,256 1047.7,256 1049.1,256 1050.5,257 1052,257 1053.4,257 1054.8,257 1056.2,258 1057.6,257 1059,257 1060.4,258 1061.8,258 1063.2,258 1064.6,258 1066,259 1067.4,258 1068.9,258 1070.3,259 1071.7,258 1073.1,259 1074.5,259 1075.9,259 1077.3,259 1078.7,259 1080.1,259 1081.5,260 1082.9,260 1084.4,259 1085.8,259 1087.2,260 1088.6,260 1090,260 1091.4,260 1092.8,260 1094.2,260 1095.6,261 1097,261 1098.4,261 1099.8,261 1101.3,261 1102.7,260 1104.1,261 1105.5,261 1106.9,261 1108.3,261 1109.7,262 1111.1,261 1112.5,262 1113.9,262 1115.3,262 1116.7,262 1118.2,262 1119.6,262 1121,261 1122.4,262 1123.8,262 1125.2,262 1126.6,262 1128,263 1129.4,262 1130.8,262 1132.2,263 1133.7,263 1135.1,263 1136.5,263 1137.9,263 1139.3,263 1140.7,263 1142.1,264 1143.5,263 1144.9,264 1146.3,264 1147.7,264 1149.1,264 1150.6,263 1152,264 1153.4,264 1154.8,264 1156.2,264 1157.6,265 1159,264 1160.4,265 1161.8,265 1163.2,265 1164.6,265 1166,265 1167.5,265 1168.9,266 1170.3,265 1171.7,265 1173.1,266 1174.5,266 1175.9,266 1177.3,266 1178.7,266 1180.1,266 1181.5,266 1183,266 1184.4,266 1185.8,267 1187.2,266 1188.6,267 1190,267 1191.4,267 1192.8,267 1194.2,268 1195.6,267 1197,268 1198.4,267 1199.9,267 1201.3,268 1202.7,268 1204.1,268 1205.5,268 1206.9,268 1208.3,267 1209.7,268 1211.1,268 1212.5,268 1213.9,268 1215.4,268 1216.8,268 1218.2,269 1219.6,269 1221,269 1222.4,269 1223.8,268 1225.2,269 1226.6,269 1228,269 1229.4,269 1230.8,269 1232.3,269 1233.7,269 1235.1,269 1236.5,269 1237.9,269 1239.3,270 1240.7,269 1242.1,270 1243.5,270 1244.9,270 1246.3,270 1247.7,270 1249.2,270 1250.6,270 1252,271 1253.4,270 1254.8,270 1256.2,271 1257.6,271 1259,271 1260.4,271 1261.8,271 1263.2,271 1264.7,271 1266.1,271 1267.5,271 1268.9,271 1270.3,271 1271.7,271 1273.1,271 1274.5,271 1275.9,272 1277.3,272 1278.7,272 1280.1,271 1281.6,272 1283,272 1284.4,272 1285.8,272 1287.2,272 1288.6,272 1290,272 1291.4,272 1292.8,272 1294.2,273 1295.6,273 1297,273 1298.5,273 1299.9,272 1301.3,272 1302.7,273 1304.1,272 1305.5,273 1306.9,273 1308.3,273 1309.7,273 1311.1,273 1312.5,273 1314,274 1315.4,273 1316.8,273 1318.2,274 1319.6,273 1321,273 1322.4,274 1323.8,274 1325.2,274 1326.6,274 1328,273 1329.4,273 1330.9,274 1332.3,274 1333.7,275 1335.1,274 1336.5,274 1337.9,274 1339.3,274 1340.7,275 1342.1,274 1343.5,275 1344.9,275 1346.4,275 1347.8,275 1349.2,275 1350.6,274 1352,275 1353.4,275 1354.8,275 1356.2,275 1357.6,274 1359,275 1360.4,275 1361.8,275 1363.3,275 1364.7,276 1366.1,275 1367.5,275 1368.9,276 1370.3,275 1371.7,275 1373.1,275 1374.5,276 1375.9,276 1377.3,276 1378.7,276 1380.2,276 1381.6,276 1383,276 1384.4,277 1385.8,277 1387.2,276 1388.6,276 1390,276 1391.4,276 1392.8,277 1394.2,277 1395.7,277 1397.1,277 1398.5,277 1399.9,277 1401.3,277 1402.7,277 1404.1,277 1405.5,277 1406.9,277 1408.3,277 1409.7,277 1411.1,277 1412.6,277 1414,278 1415.4,277 1416.8,277 1418.2,277 1419.6,277 1421,278 1422.4,278 1423.8,278 1425.2,278 1426.6,278 1428.1,278 1429.5,278 1430.9,278 1432.3,278 1433.7,278 1435.1,278 1436.5,278 1437.9,278 1439.3,278 1440.7,278 1442.1,278 1443.5,279 1445,279 1446.4,279 1447.8,279 1449.2,279 1450.6,279 1452,279 1453.4,280 1454.8,279 1456.2,279 1457.6,279 1459,279 1460.4,279 1461.9,279 1463.3,279 1464.7,279 1466.1,279 1467.5,279 1468.9,280 1470.3,279 1471.7,279 1473.1,279 1474.5,280 1475.9,280 1477.4,280 1478.8,280 1480.2,279 1481.6,280 1483,280 1484.4,280 1485.8,279 1487.2,280 1488.6,280 1490,280 1491.4,280 1492.8,280 1494.3,280 1495.7,280 1497.1,280 1498.5,280 1499.9,280 1501.3,281 1502.7,281 1504.1,280 1505.5,280 1506.9,281 1508.3,281 1509.7,281 1511.2,281 1512.6,281 1514,281 1515.4,280 1516.8,280 1518.2,281 1519.6,281 1521,281 1522.4,282 1523.8,281 1525.2,281 1526.7,281 1528.1,281 1529.5,281 1530.9,281 1532.3,281 1533.7,281 1535.1,282 1536.5,282 1537.9,282 1539.3,281 1540.7,281 1542.1,281 1543.6,282 1545,282 1546.4,282 1547.8,282 1549.2,282 1550.6,282 1552,282 1553.4,282 1554.8,282 1556.2,282 1557.6,282 1559.1,282 1560.5,282 1561.9,282 1563.3,282 1564.7,282 1566.1,283 1567.5,282 1568.9,283 1570.3,282 1571.7,282 1573.1,283 1574.5,283 1576,283 1577.4,283 1578.8,283 1580.2,282 1581.6,283 1583,283 1584.4,283 1585.8,283 1587.2,283 1588.6,283 1590,283 1591.4,283 1592.9,283 1594.3,283 1595.7,283 1597.6,283" fill="none" stroke="#f00" stroke-width="7.5" stroke-linejoin="round"/>
<path d="M272.4 1108a11.25 12 0 1 0 22.5 0a11.25 12 0 1 0 -22.5 0zM273.8 1108a11.25 12 0 1 0 22.5 0a11.25 12 0 1 0 -22.5 0zM275.2 1108a11.25 12 0 1 0 22.5 0a11.25 12 0 1 0 -22.5 0zM276.7 1108a11.25 12 0 1 0 22.5 0a11.25 12 0 1 0 -22.5 0zM278.1 1108a11.25 12 0 1 0 22.5 0a11.25 12 0 1 0 -22.5 0zM279.5 1108a11.25 12 0 1 0 22.5 0a11.25 12 0 1 0 -22.5 0zM280.9 1108a11.25 12 0 1 0 22.5 0a11.25 12 0 1 0 -22.5 0zM282.3 1108a11.25 12 0 1 0 22.5 0a11.25 12 0 1 0 -22.5 0zM283.7 1108a11.25 12 0 1 0 22.5 0a11.25 12 0 1 0 -22.5 0zM285.1 1108a11.25 12 0 1 0 22.5 0a11.25 12 0 1 0 -22.5 0zM286.5 1108a11.25 12 0 1 0 22.5 0a11.25 12 0 1 0 -22.5 0zM288 1108a11.25 12 0 1 0 22.5 0a11.25 12 0 1 0 -22.5 0zM289.4 1108a11.25 12 0 1 0 22.5 0a11.25 12 0 1 0 -22.5 0zM290.8 1108a11.25 12 0 1 0 22.5 0a11.25 12 0 1 0 -22.5 0zM292.2 1108a11.25 12 0 1 0 22.5 0a11.25 12 0 1 0 -22.5 0zM293.6 1108a11.25 12 0 1 0 22.5 0a11.25 12 0 1 0 -22.5 0zM295 1108a11.25 12 0 1 0 22.5 0a11.25 12 0 1 0 -22.5 0zM296.4 1108a11.25 12 0 1 0 22.5 0a11.25 12 0 1 0 -22.5 0zM297.8 1108a11.25 12 0 1 0 22.5 0a11.25 12 0 1 0 -22.5 0zM299.3 1108a11.25 12 0 1 0 22.5 0a11.25 12 0 1 0 -22.5 0zM300.7 1108a11.25 12 0 1 0 22.5 0a11.25 12 0 1 0 -22.5 0zM302.1 1108a11.25 12 0 1 0 22.5 0a11.25 12 0 1 0 -22.5 0zM303.5 1108a11.25 12 0 1 0 22.5 0a11.25 12 0 1 0 -22.5 0zM304.9 1108a11.25 12 0 1 0 22.5 0a11.25 12 0 1 0 -22.5 0zM306.3 1108a11.25 12 0 1 0 22.5 0a11.25 12 0 1 0 -22.5 0zM307.7 1108a11.25 12 0 1 0 22.5 0a11.25 12 0 1 0 -22.5 0zM309.1 1108a11.25 12 0 1 0 22.5 0a11.25 12 0 1 0 -22.5 0zM310.5 1108a11.25 12 0 1 0 22.5 0a11.25 12 0 1 0 -22.5 0zM312 1108a11.25 12 0 1 0 22.5 0a11.25 12 0 1 0 -22.5 0zM313.4 1108a11.25 12 0 1 0 22.5 0a11.25 12 0 1 0 -22.5 0zM314.8 1108a11.25 12 0 1 0 22.5 0a11.25 12 0 1 0 -22.5 0zM316.2 1108a11.25 12 0 1 0 22.5 0a11.25 12 0 1 0 -22.5 0zM317.6 1108a11.25 12 0 1 0 22.5 0a11.25 12 0 1 0 -22.5 0zM319 1108a11.25 12 0 1 0 22.5 0a11.25 12 0 1 0 -22.5 0zM320.4 1108a11.25 12 0 1 0 22.5 0a11.25 12 0 1 0 -22.5 0zM321.8 1108a11.25 12 0 1 0 22.5 0a11.25 12 0 1 0 -22.5 0zM323.3 1108a11.25 12 0 1 0 22.5 0a11.25 12 0 1 0 -22.5 0zM324.7 1108a11.25 12 0 1 0 22.5 0a11.25 12 0 1 0 -22.5 0zM326.1 1108a11.25 12 0 1 0 22.5 0a11.25 12 0 1 0 -22.5 0zM327.5 1108a11.25 12 0 1 0 22.5 0a11.25 12 0 1 0 -22.5 0zM328.9 1108a11.25 12 0 1 0 22.5 0a11.25 12 0 1 0 -22.5 0zM330.3 1108a11.25 12 0 1 0 22.5 0a11.25 12 0 1 0 -22.5 0zM331.7 1108a11.25 12 0 1 0 22.5 0a11.25 12 0 1 0 -22.5 0zM333.1 1109a11.25 12 0 1 0 22.5 0a11.25 12 0 1 0 -22.5 0zM334.5 1108a11.25 12 0 1 0 22.5 0a11.25 12 0 1 0 -22.5 0zM336 1108a11.25 12 0 1 0 22.5 0a11.25 12 0 1 0 -22.5 0zM337.4 1108a11.25 12 0 1 0 22.5 0a11.25 12 0 1 0 -22.5 0zM338.8 1108a11.25 12 0 1 0 22.5 0a11.25 12 0 1 0 -22.5 0zM340.2 1108a11.25 12 0 1 0 22.5 0a11.25 12 0 1 0 -22.5 0zM341.6 1108a11.25 12 0 1 0 22.5 0a11.25 12 0 1 0 -22.5 0zM343 1108a11.25 12 0 1 0 22.5 0a11.25 12 0 1 0 -22.5 0zM344.4 1108a11.25 12 0 1 0 22.5 0a11.25 12 0 1 0 -22.5 0zM345.8 1108a11.25 12 0 1 0 22.5 0a11.25 12 0 1 0 -22.5 0zM347.3 1108a11.25 12 0 1 0 22.5 0a11.25 12 0 1 0 -22.5 0zM348.7 1108a11.25 12 0 1 0 22.5 0a11.25 12 0 1 0 -22.5 0zM350.1 1108a11.25 12 0 1 0 22.5 0a11.25 12 0 1 0 -22.5 0zM351.5 1108a11.25 12 0 1 0 22.5 0a11.25 12 0 1 0 -22.5 0zM352.9 1108a11.25 12 0 1 0 22.5 0a11.25 12 0 1 0 -22.5 0zM354.3 1108a11.25 12 0 1 0 22.5 0a11.25 12 0 1 0 -22.5 0zM355.7 1108a11.25 12 0 1 0 22.5 0a11.25 12 0 1 0 -22.5 0zM357.1 1108a11.25 12 0 1 0 22.5 0a11.25 12 0 1 0 -22.5 0zM358.6 1109a11.25 12 0 1 0 22.5 0a11.25 12 0 1 0 -22.5 0zM360 1108a11.25 12 0 1 0 22.5 0a11.25 12 0 1 0 -22.5 0zM361.4 1108a11.25 12 0 1 0 22.5 0a11.25 12 0 1 0 -22.5 0zM362.8 1108a11.25 12 0 1 0 22.5 0a11.25 12 0 1 0 -22.5 0zM364.2 1108a11.25 12 0 1 0 22.5 0a11.25 12 0 1 0 -22.5 0zM365.6 1108a11.25 12 0 1 0 22.5 0a11.25 12 0 1 0 -22.5 0zM367 1108a11.25 12 0 1 0 22.5 0a11.25 12 0 1 0 -22.5 0zM368.4 1108a11.25 12 0 1 0 22.5 0a11.25 12 0 1 0 -22.5 0zM369.8 1108a11.25 12 0 1 0 22.5 0a11.25 12 0 1 0 -22.5 0zM371.3 1108a11.25 12 0 1 0 22.5 0a11.25 12 0 1 0 -22.5 0zM372.7 1108a11.25 12 0 1 0 22.5 0a11.25 12 0 1 0 -22.5 0zM374.1 1108a11.25 12 0 1 0 22.5 0a11.25 12 0 1 0 -22.5 0zM375.5 1108a11.25 12 0 1 0 22.5 0a11.25 12 0 1 0 -22.5 0zM376.9 1108a11.25 12 0 1 0 22.5 0a11.25 12 0 1 0 -22.5 0zM378.3 1108a11.25 12 0 1 0 22.5 0a11.25 12 0 1 0 -22.5 0zM379.7 1108a11.25 12 0 1 0 22.5 0a11.25 12 0 1 0 -22.5 0zM381.1 1108a11.25 12 0 1 0 22.5 0a11.25 12 0 1 0 -22.5 0zM382.6 1108a11.25 12 0 1 0 22.5 0a11.25 12 0 1 0 -22.5 0zM384 1108a11.25 12 0 1 0 22.5 0a11.25 12 0 1 0 -22.5 0zM385.4 1108a11.25 12 0 1 0 22.5 0a11.25 12 0 1 0 -22.5 0zM386.8 1108a11.25 12 0 1 0 22.5 0a11.25 12 0 1 0 -22.5 0zM388.2 1108a11.25 12 0 1 0 22.5 0a11.25 12 0 1 0 -22.5 0zM389.6 1108a11.25 12 0 1 0 22.5 0a11.25 12 0 1 0 -22.5 0zM391.1 916a11.25 12 0 1 0 22.5 0a11.25 12 0 1 0 -22.5 0zM392.6 792a11.25 12 0 1 0 22.5 0a11.25 12 0 1 0 -22.5 0zM394.1 718a11.25 12 0 1 0 22.5 0a11.25 12 0 1 0 -22.5 0zM395.6 667a11.25 12 0 1 0 22.5 0a11.25 12 0 1 0 -22.5 0zM396.9 624a11.25 12 0 1 0 22.5 0a11.25 12 0 1 0 -22.5 0zM398.4 590a11.25 12 0 1 0 22.5 0a11.25 12 0 1 0 -22.5 0zM399.8 562a11.25 12 0 1 0 22.5 0a11.25 12 0 1 0 -22.5 0zM401.1 538a11.25 12 0 1 0 22.5 0a11.25 12 0 1 0 -22.5 0zM402.6 517a11.25 12 0 1 0 22.5 0a11.25 12 0 1 0 -22.5 0zM403.9 501a11.25 12 0 1 0 22.5 0a11.25 12 0 1 0 -22.5 0zM405.4 484a11.25 12 0 1 0 22.5 0a11.25 12 0 1 0 -22.5 0zM406.8 464a11.25 12 0 1 0 22.5 0a11.25 12 0 1 0 -22.5 0zM408.2 450a11.25 12 0 1 0 22.5 0a11.25 12 0 1 0 -22.5 0zM409.6 440a11.25 12 0 1 0 22.5 0a11.25 12 0 1 0 -22.5 0zM411 427a11.25 12 0 1 0 22.5 0a11.25 12 0 1 0 -22.5 0zM412.4 418a11.25 12 0 1 0 22.5 0a11.25 12 0 1 0 -22.5 0zM413.8 411a11.25 12 0 1 0 22.5 0a11.25 12 0 1 0 -22.5 0zM415.2 404a11.25 12 0 1 0 22.5 0a11.25 12 0 1 0 -22.5 0zM416.6 397a11.25 12 0 1 0 22.5 0a11.25 12 0 1 0 -22.5 0zM418 389a11.25 12 0 1 0 22.5 0a11.25 12 0 1 0 -22.5 0zM419.4 382a11.25 12 0 1 0 22.5 0a11.25 12 0 1 0 -22.5 0zM420.9 376a11.25 12 0 1 0 22.5 0a11.25 12 0 1 0 -22.5 0zM422.3 370a11.25 12 0 1 0 22.5 0a11.25 12 0 1 0 -22.5 0zM423.7 363a11.25 12 0 1 0 22.5 0a11.25 12 0 1 0 -22.5 0zM425.1 357a11.25 12 0 1 0 22.5 0a11.25 12 0 1 0 -22.5 0zM426.5 352a11.25 12 0 1 0 22.5 0a11.25 12 0 1 0 -22.5 0zM427.9 347a11.25 12 0 1 0 22.5 0a11.25 12 0 1 0 -22.5 0zM429.3 342a11.25 12 0 1 0 22.5 0a11.25 12 0 1 0 -22.5 0zM430.7 339a11.25 12 0 1 0 22.5 0a11.25 12 0 1 0 -22.5 0zM432.1 335a11.25 12 0 1 0 22.5 0a11.25 12 0 1 0 -22.5 0zM433.5 332a11.25 12 0 1 0 22.5 0a11.25 12 0 1 0 -22.5 0zM434.9 329a11.25 12 0 1 0 22.5 0a11.25 12 0 1 0 -22.5 0zM436.3 326a11.25 12 0 1 0 22.5 0a11.25 12 0 1 0 -22.5 0zM437.8 323a11.25 12 0 1 0 22.5 0a11.25 12 0 1 0 -22.5 0zM439.2 321a11.25 12 0 1 0 22.5 0a11.25 12 0 1 0 -22.5 0zM440.6 319a11.25 12 0 1 0 22.5 0a11.25 12 0 1 0 -22.5 0zM442 316a11.25 12 0 1 0 22.5 0a11.25 12 0 1 0 -22.5 0zM443.4 313a11.25 12 0 1 0 22.5 0a11.25 12 0 1 0 -22.5 0zM444.8 311a11.25 12 0 1 0 22.5 0a11.25 12 0 1 0 -22.5 0zM446.2 309a11.25 12 0 1 0 22.5 0a11.25 12 0 1 0 -22.5 0zM447.6 306a11.25 12 0 1 0 22.5 0a11.25 12 0 1 0 -22.5 0zM449 305a11.25 12 0 1 0 22.5 0a11.25 12 0 1 0 -22.5 0zM450.4 302a11.25 12 0 1 0 22.5 0a11.25 12 0 1 0 -22.5 0zM451.8 300a11.25 12 0 1 0 22.5 0a11.25 12 0 1 0 -22.5 0zM453.3 299a11.25 12 0 1 0 22.5 0a11.25 12 0 1 0 -22.5 0zM454.7 297a11.25 12 0 1 0 22.5 0a11.25 12 0 1 0 -22.5 0zM456.1 295a11.25 12 0 1 0 22.5 0a11.25 12 0 1 0 -22.5 0zM457.5 293a11.25 12 0 1 0 22.5 0a11.25 12 0 1 0 -22.5 0zM458.9 292a11.25 12 0 1 0 22.5 0a11.25 12 0 1 0 -22.5 0zM460.3 290a11.25 12 0 1 0 22.5 0a11.25 12 0 1 0 -22.5 0zM461.7 288a11.25 12 0 1 0 22.5 0a11.25 12 0 1 0 -22.5 0zM463.1 288a11.25 12 0 1 0 22.5 0a11.25 12 0 1 0 -22.5 0zM464.5 286a11.25 12 0 1 0 22.5 0a11.25 12 0 1 0 -22.5 0zM465.9 285a11.25 12 0 1 0 22.5 0a11.25 12 0 1 0 -22.5 0zM467.3 284a11.25 12 0 1 0 22.5 0a11.25 12 0 1 0 -22.5 0zM468.7 282a11.25 12 0 1 0 22.5 0a11.25 12 0 1 0 -22.5 0zM470.2 281a11.25 12 0 1 0 22.5 0a11.25 12 0 1 0 -22.5 0zM471.6 280a11.25 12 0 1 0 22.5 0a11.25 12 0 1 0 -22.5 0zM473 279a11.25 12 0 1 0 22.5 0a11.25 12 0 1 0 -22.5 0zM474.4 278a11.25 12 0 1 0 22.5 0a11.25 12 0 1 0 -22.5 0zM475.8 276a11.25 12 0 1 0 22.5 0a11.25 12 0 1 0 -22.5 0zM477.2 276a11.25 12 0 1 0 22.5 0a11.25 12 0 1 0 -22.5 0zM478.6 275a11.25 12 0 1 0 22.5 0a11.25 12 0 1 0 -22.5 0zM480 273a11.25 12 0 1 0 22.5 0a11.25 12 0 1 0 -22.5 0zM481.4 273a11.25 12 0 1 0 22.5 0a11.25 12 0 1 0 -22.5 0zM482.8 272a11.25 12 0 1 0 22.5 0a11.25 12 0 1 0 -22.5 0zM484.2 271a11.25 12 0 1 0 22.5 0a11.25 12 0 1 0 -22.5 0zM485.6 270a11.25 12 0 1 0 22.5 0a11.25 12 0 1 0 -22.5 0zM487.1 269a11.25 12 0 1 0 22.5 0a11.25 12 0 1 0 -22.5 0zM488.5 268a11.25 12 0 1 0 22.5 0a11.25 12 0 1 0 -22.5 0zM489.9 267a11.25 12 0 1 0 22.5 0a11.25 12 0 1 0 -22.5 0zM491.3 266a11.25 12 0 1 0 22.5 0a11.25 12 0 1 0 -22.5 0zM492.7 265a11.25 12 0 1 0 22.5 0a11.25 12 0 1 0 -22.5 0zM494.1 265a11.25 12 0 1 0 22.5 0a11.25 12 0 1 0 -22.5 0zM495.5 264a11.25 12 0 1 0 22.5 0a11.25 12 0 1 0 -22.5 0zM496.9 264a11.25 12 0 1 0 22.5 0a11.25 12 0 1 0 -22.5 0zM498.3 263a11.25 12 0 1 0 22.5 0a11.25 12 0 1 0 -22.5 0zM499.7 263a11.25 12 0 1 0 22.5 0a11.25 12 0 1 0 -22.5 0zM501.1 261a11.25 12 0 1 0 22.5 0a11.25 12 0 1 0 -22.5 0zM502.6 262a11.25 12 0 1 0 22.5 0a11.25 12 0 1 0 -22.5 0zM504 261a11.25 12 0 1 0 22.5 0a11.25 12 0 1 0 -22.5 0zM505.4 261a11.25 12 0 1 0 22.5 0a11.25 12 0 1 0 -22.5 0zM506.8 260a11.25 12 0 1 0 22.5 0a11.25 12 0 1 0 -22.5 0zM508.2 260a11.25 12 0 1 0 22.5 0a11.25 12 0 1 0 -22.5 0zM509.6 259a11.25 12 0 1 0 22.5 0a11.25 12 0 1 0 -22.5 0zM511 259a11.25 12 0 1 0 22.5 0a11.25 12 0 1 0 -22.5 0zM512.4 259a11.25 12 0 1 0 22.5 0a11.25 12 0 1 0 -22.5 0zM513.8 258a11.25 12 0 1 0 22.5 0a11.25 12 0 1 0 -22.5 0zM515.2 258a11.25 12 0 1 0 22.5 0a11.25 12 0 1 0 -22.5 0zM516.6 257a11.25 12 0 1 0 22.5 0a11.25 12 0 1 0 -22.5 0zM518 258a11.25 12 0 1 0 22.5 0a11.25 12 0 1 0 -22.5 0zM519.5 257a11.25 12 0 1 0 22.5 0a11.25 12 0 1 0 -22.5 0zM520.9 256a11.25 12 0 1 0 22.5 0a11.25 12 0 1 0 -22.5 0zM522.3 256a11.25 12 0 1 0 22.5 0a11.25 12 0 1 0 -22.5 0zM523.7 256a11.25 12 0 1 0 22.5 0a11.25 12 0 1 0 -22.5 0zM525.1 254a11.25 12 0 1 0 22.5 0a11.25 12 0 1 0 -22.5 0zM526.5 254a11.25 12 0 1 0 22.5 0a11.25 12 0 1 0 -22.5 0zM527.9 254a11.25 12 0 1 0 22.5 0a11.25 12 0 1 0 -22.5 0zM529.3 253a11.25 12 0 1 0 22.5 0a11.25 12 0 1 0 -22.5 0zM530.7 253a11.25 12 0 1 0 22.5 0a11.25 12 0 1 0 -22.5 0zM532.1 252a11.25 12 0 1 0 22.5 0a11.25 12 0 1 0 -22.5 0zM533.5 252a11.25 12 0 1 0 22.5 0a11.25 12 0 1 0 -22.5 0zM535 251a11.25 12 0 1 0 22.5 0a11.25 12 0 1 0 -22.5 0zM536.4 250a11.25 12 0 1 0 22.5 0a11.25 12 0 1 0 -22.5 0zM537.8 250a11.25 12 0 1 0 22.5 0a11.25 12 0 1 0 -22.5 0zM539.2 250a11.25 12 0 1 0 22.5 0a11.25 12 0 1 0 -22.5 0zM540.6 249a11.25 12 0 1 0 22.5 0a11.25 12 0 1 0 -22.5 0zM542 249a11.25 12 0 1 0 22.5 0a11.25 12 0 1 0 -22.5 0zM543.4 248a11.25 12 0 1 0 22.5 0a11.25 12 0 1 0 -22.5 0zM544.8 247a11.25 12 0 1 0 22.5 0a11.25 12 0 1 0 -22.5 0zM546.2 248a11.25 12 0 1 0 22.5 0a11.25 12 0 1 0 -22.5 0zM547.6 246a11.25 12 0 1 0 22.5 0a11.25 12 0 1 0 -22.5 0zM549 246a11.25 12 0 1 0 22.5 0a11.25 12 0 1 0 -22.5 0zM550.4 246a11.25 12 0 1 0 22.5 0a11.25 12 0 1 0 -22.5 0zM551.9 246a11.25 12 0 1 0 22.5 0a11.25 12 0 1 0 -22.5 0zM553.3 246a11.25 12 0 1 0 22.5 0a11.25 12 0 1 0 -22.5 0zM554.7 246a11.25 12 0 1 0 22.5 0a11.25 12 0 1 0 -22.5 0zM556.1 245a11.25 12 0 1 0 22.5 0a11.25 12 0 1 0 -22.5 0zM557.5 244a11.25 12 0 1 0 22.5 0a11.25 12 0 1 0 -22.5 0zM558.9 244a11.25 12 0 1 0 22.5 0a11.25 12 0 1 0 -22.5 0zM560.3 244a11.25 12 0 1 0 22.5 0a11.25 12 0 1 0 -22.5 0zM561.7 243a11.25 12 0 1 0 22.5 0a11.25 12 0 1 0 -22.5 0zM563.1 244a11.25 12 0 1 0 22.5 0a11.25 12 0 1 0 -22.5 0zM564.5 242a11.25 12 0 1 0 22.5 0a11.25 12 0 1 0 -22.5 0zM565.9 243a11.25 12 0 1 0 22.5 0a11.25 12 0 1 0 -22.5 0zM567.3 242a11.25 12 0 1 0 22.5 0a11.25 12 0 1 0 -22.5 0zM568.8 242a11.25 12 0 1 0 22.5 0a11.25 12 0 1 0 -22.5 0zM570.2 242a11.25 12 0 1 0 22.5 0a11.25 12 0 1 0 -22.5 0zM571.6 241a11.25 12 0 1 0 22.5 0a11.25 12 0 1 0 -22.5 0zM573 241a11.25 12 0 1 0 22.5 0a11.25 12 0 1 0 -22.5 0zM574.4 240a11.25 12 0 1 0 22.5 0a11.25 12 0 1 0 -22.5 0zM575.8 240a11.25 12 0 1 0 22.5 0a11.25 12 0 1 0 -22.5 0zM577.2 240a11.25 12 0 1 0 22.5 0a11.25 12 0 1 0 -22.5 0zM578.6 240a11.25 12 0 1 0 22.5 0a11.25 12 0 1 0 -22.5 0zM580 239a11.25 12 0 1 0 22.5 0a11.25 12 0 1 0 -22.5 0zM581.4 239a11.25 12 0 1 0 22.5 0a11.25 12 0 1 0 -22.5 0zM582.8 239a11.25 12 0 1 0 22.5 0a11.25 12 0 1 0 -22.5 0zM584.3 239a11.25 12 0 1 0 22.5 0a11.25 12 0 1 0 -22.5 0zM585.7 238a11.25 12 0 1 0 22.5 0a11.25 12 0 1 0 -22.5 0zM587.1 238a11.25 12 0 1 0 22.5 0a11.25 12 0 1 0 -22.5 0zM588.5 238a11.25 12 0 1 0 22.5 0a11.25 12 0 1 0 -22.5 0zM589.9 237a11.25 12 0 1 0 22.5 0a11.25 12 0 1 0 -22.5 0zM591.3 237a11.25 12 0 1 0 22.5 0a11.25 12 0 1 0 -22.5 0zM592.7 237a11.25 12 0 1 0 22.5 0a11.25 12 0 1 0 -22.5 0zM594.1 236a11.25 12 0 1 0 22.5 0a11.25 12 0 1 0 -22.5 0zM595.5 236a11.25 12 0 1 0 22.5 0a11.25 12 0 1 0 -22.5 0zM596.9 236a11.25 12 0 1 0 22.5 0a11.25 12 0 1 0 -22.5 0zM598.3 235a11.25 12 0 1 0 22.5 0a11.25 12 0 1 0 -22.5 0zM599.7 236a11.25 12 0 1 0 22.5 0a11.25 12 0 1 0 -22.5 0zM601.2 235a11.25 12 0 1 0 22.5 0a11.25 12 0 1 0 -22.5 0zM602.6 235a11.25 12 0 1 0 22.5 0a11.25 12 0 1 0 -22.5 0zM604 235a11.25 12 0 1 0 22.5 0a11.25 12 0 1 0 -22.5 0zM605.4 235a11.25 12 0 1 0 22.5 0a11.25 12 0 1 0 -22.5 0zM606.8 235a11.25 12 0 1 0 22.5 0a11.25 12 0 1 0 -22.5 0zM608.2 234a11.25 12 0 1 0 22.5 0a11.25 12 0 1 0 -22.5 0zM609.6 234a11.25 12 0 1 0 22.5 0a11.25 12 0 1 0 -22.5 0zM611 234a11.25 12 0 1 0 22.5 0a11.25 12 0 1 0 -22.5 0zM612.4 234a11.25 12 0 1 0 22.5 0a11.25 12 0 1 0 -22.5 0zM613.8 233a11.25 12 0 1 0 22.5 0a11.25 12 0 1 0 -22.5 0zM615.2 234a11.25 12 0 1 0 22.5 0a11.25 12 0 1 0 -22.5 0zM616.6 233a11.25 12 0 1 0 22.5 0a11.25 12 0 1 0 -22.5 0zM618.1 233a11.25 12 0 1 0 22.5 0a11.25 12 0 1 0 -22.5 0zM619.5 233a11.25 12 0 1 0 22.5 0a11.25 12 0 1 0 -22.5 0zM620.9 233a11.25 12 0 1 0 22.5 0a11.25 12 0 1 0 -22.5 0zM622.3 233a11.25 12 0 1 0 22.5 0a11.25 12 0 1 0 -22.5 0zM623.7 232a11.25 12 0 1 0 22.5 0a11.25 12 0 1 0 -22.5 0zM625.1 232a11.25 12 0 1 0 22.5 0a11.25 12 0 1 0 -22.5 0zM626.5 232a11.25 12 0 1 0 22.5 0a11.25 12 0 1 0 -22.5 0zM627.9 232a11.25 12 0 1 0 22.5 0a11.25 12 0 1 0 -22.5 0zM629.3 231a11.25 12 0 1 0 22.5 0a11.25 12 0 1 0 -22.5 0zM630.7 231a11.25 12 0 1 0 22.5 0a11.25 12 0 1 0 -22.5 0zM632.1 231a11.25 12 0 1 0 22.5 0a11.25 12 0 1 0 -22.5 0zM633.6 231a11.25 12 0 1 0 22.5 0a11.25 12 0 1 0 -22.5 0zM635 231a11.25 12 0 1 0 22.5 0a11.25 12 0 1 0 -22.5 0zM636.4 230a11.25 12 0 1 0 22.5 0a11.25 12 0 1 0 -22.5 0zM637.8 231a11.25 12 0 1 0 22.5 0a11.25 12 0 1 0 -22.5 0zM639.2 231a11.25 12 0 1 0 22.5 0a11.25 12 0 1 0 -22.5 0zM640.6 230a11.25 12 0 1 0 22.5 0a11.25 12 0 1 0 -22.5 0zM642 231a11.25 12 0 1 0 22.5 0a11.25 12 0 1 0 -22.5 0zM643.4 230a11.25 12 0 1 0 22.5 0a11.25 12 0 1 0 -22.5 0zM644.8 229a11.25 12 0 1 0 22.5 0a11.25 12 0 1 0 -22.5 0zM646.2 230a11.25 12 0 1 0 22.5 0a11.25 12 0 1 0 -22.5 0zM647.6 230a11.25 12 0 1 0 22.5 0a11.25 12 0 1 0 -22.5 0zM649 229a11.25 12 0 1 0 22.5 0a11.25 12 0 1 0 -22.5 0zM650.5 229a11.25 12 0 1 0 22.5 0a11.25 12 0 1 0 -22.5 0zM651.9 229a11.25 12 0 1 0 22.5 0a11.25 12 0 1 0 -22.5 0zM653.3 229a11.25 12 0 1 0 22.5 0a11.25 12 0 1 0 -22.5 0zM654.7 229a11.25 12 0 1 0 22.5 0a11.25 12 0 1 0 -22.5 0zM656.1 229a11.25 12 0 1 0 22.5 0a11.25 12 0 1 0 -22.5 0zM657.5 229a11.25 12 0 1 0 22.5 0a11.25 12 0 1 0 -22.5 0zM658.9 229a11.25 12 0 1 0 22.5 0a11.25 12 0 1 0 -22.5 0zM660.3 228a11.25 12 0 1 0 22.5 0a11.25 12 0 1 0 -22.5 0zM661.7 229a11.25 12 0 1 0 22.5 0a11.25 12 0 1 0 -22.5 0zM663.1 228a11.25 12 0 1 0 22.5 0a11.25 12 0 1 0 -22.5 0zM664.5 228a11.25 12 0 1 0 22.5 0a11.25 12 0 1 0 -22.5 0zM666 228a11.25 12 0 1 0 22.5 0a11.25 12 0 1 0 -22.5 0zM667.4 228a11.25 12 0 1 0 22.5 0a11.25 12 0 1 0 -22.5 0zM668.8 227a11.25 12 0 1 0 22.5 0a11.25 12 0 1 0 -22.5 0zM670.2 228a11.25 12 0 1 0 22.5 0a11.25 12 0 1 0 -22.5 0zM671.6 228a11.25 12 0 1 0 22.5 0a11.25 12 0 1 0 -22.5 0zM673 227a11.25 12 0 1 0 22.5 0a11.25 12 0 1 0 -22.5 0zM674.4 227a11.25 12 0 1 0 22.5 0a11.25 12 0 1 0 -22.5 0zM675.8 227a11.25 12 0 1 0 22.5 0a11.25 12 0 1 0 -22.5 0zM677.2 227a11.25 12 0 1 0 22.5 0a11.25 12 0 1 0 -22.5 0zM678.6 227a11.25 12 0 1 0 22.5 0a11.25 12 0 1 0 -22.5 0zM680 227a11.25 12 0 1 0 22.5 0a11.25 12 0 1 0 -22.5 0zM681.4 227a11.25 12 0 1 0 22.5 0a11.25 12 0 1 0 -22.5 0zM682.9 227a11.25 12 0 1 0 22.5 0a11.25 12 0 1 0 -22.5 0zM684.3 227a11.25 12 0 1 0 22.5 0a11.25 12 0 1 0 -22.5 0zM685.7 226a11.25 12 0 1 0 22.5 0a11.25 12 0 1 0 -22.5 0zM687.1 226a11.25 12 0 1 0 22.5 0a11.25 12 0 1 0 -22.5 0zM688.5 226a11.25 12 0 1 0 22.5 0a11.25 12 0 1 0 -22.5 0zM689.9 226a11.25 12 0 1 0 22.5 0a11.25 12 0 1 0 -22.5 0zM691.3 227a11.25 12 0 1 0 22.5 0a11.25 12 0 1 0 -22.5 0zM692.7 226a11.25 12 0 1 0 22.5 0a11.25 12 0 1 0 -22.5 0zM694.1 226a11.25 12 0 1 0 22.5 0a11.25 12 0 1 0 -22.5 0zM695.5 226a11.25 12 0 1 0 22.5 0a11.25 12 0 1 0 -22.5 0zM696.9 225a11.25 12 0 1 0 22.5 0a11.25 12 0 1 0 -22.5 0zM698.3 226a11.25 12 0 1 0 22.5 0a11.25 12 0 1 0 -22.5 0zM699.8 226a11.25 12 0 1 0 22.5 0a11.25 12 0 1 0 -22.5 0zM701.2 225a11.25 12 0 1 0 22.5 0a11.25 12 0 1 0 -22.5 0zM702.6 226a11.25 12 0 1 0 22.5 0a11.25 12 0 1 0 -22.5 0zM704 226a11.25 12 0 1 0 22.5 0a11.25 12 0 1 0 -22.5 0zM705.4 225a11.25 12 0 1 0 22.5 0a11.25 12 0 1 0 -22.5 0zM706.8 225a11.25 12 0 1 0 22.5 0a11.25 12 0 1 0 -22.5 0zM708.2 225a11.25 12 0 1 0 22.5 0a11.25 12 0 1 0 -22.5 0zM709.6 225a11.25 12 0 1 0 22.5 0a11.25 12 0 1 0 -22.5 0zM711 225a11.25 12 0 1 0 22.5 0a11.25 12 0 1 0 -22.5 0zM712.4 225a11.25 12 0 1 0 22.5 0a11.25 12 0 1 0 -22.5 0zM713.8 225a11.25 12 0 1 0 22.5 0a11.25 12 0 1 0 -22.5 0zM715.3 225a11.25 12 0 1 0 22.5 0a11.25 12 0 1 0 -22.5 0zM716.7 225a11.25 12 0 1 0 22.5 0a11.25 12 0 1 0 -22.5 0zM718.1 224a11.25 12 0 1 0 22.5 0a11.25 12 0 1 0 -22.5 0zM719.5 225a11.25 12 0 1 0 22.5 0a11.25 12 0 1 0 -22.5 0zM720.9 225a11.25 12 0 1 0 22.5 0a11.25 12 0 1 0 -22.5 0zM722.3 224a11.25 12 0 1 0 22.5 0a11.25 12 0 1 0 -22.5 0zM723.7 224a11.25 12 0 1 0 22.5 0a11.25 12 0 1 0 -22.5 0zM725.1 225a11.25 12 0 1 0 22.5 0a11.25 12 0 1 0 -22.5 0zM726.5 224a11.25 12 0 1 0 22.5 0a11.25 12 0 1 0 -22.5 0zM727.9 224a11.25 12 0 1 0 22.5 0a11.25 12 0 1 0 -22.5 0zM729.3 224a11.25 12 0 1 0 22.5 0a11.25 12 0 1 0 -22.5 0zM730.7 224a11.25 12 0 1 0 22.5 0a11.25 12 0 1 0 -22.5 0zM732.2 224a11.25 12 0 1 0 22.5 0a11.25 12 0 1 0 -22.5 0zM733.6 224a11.25 12 0 1 0 22.5 0a11.25 12 0 1 0 -22.5 0zM735 224a11.25 12 0 1 0 22.5 0a11.25 12 0 1 0 -22.5 0zM736.4 224a11.25 12 0 1 0 22.5 0a11.25 12 0 1 0 -22.5 0zM737.8 223a11.25 12 0 1 0 22.5 0a11.25 12 0 1 0 -22.5 0zM739.2 224a11.25 12 0 1 0 22.5 0a11.25 12 0 1 0 -22.5 0zM740.6 224a11.25 12 0 1 0 22.5 0a11.25 12 0 1 0 -22.5 0zM742 223a11.25 12 0 1 0 22.5 0a11.25 12 0 1 0 -22.5 0zM743.4 223a11.25 12 0 1 0 22.5 0a11.25 12 0 1 0 -22.5 0zM744.8 223a11.25 12 0 1 0 22.5 0a11.25 12 0 1 0 -22.5 0zM746.2 223a11.25 12 0 1 0 22.5 0a11.25 12 0 1 0 -22.5 0zM747.7 223a11.25 12 0 1 0 22.5 0a11.25 12 0 1 0 -22.5 0zM749.1 224a11.25 12 0 1 0 22.5 0a11.25 12 0 1 0 -22.5 0zM750.5 223a11.25 12 0 1 0 22.5 0a11.25 12 0 1 0 -22.5 0zM751.9 224a11.25 12 0 1 0 22.5 0a11.25 12 0 1 0 -22.5 0zM753.3 223a11.25 12 0 1 0 22.5 0a11.25 12 0 1 0 -22.5 0zM754.7 223a11.25 12 0 1 0 22.5 0a11.25 12 0 1 0 -22.5 0zM756.1 223a11.25 12 0 1 0 22.5 0a11.25 12 0 1 0 -22.5 0zM757.5 223a11.25 12 0 1 0 22.5 0a11.25 12 0 1 0 -22.5 0zM758.9 223a11.25 12 0 1 0 22.5 0a11.25 12 0 1 0 -22.5 0zM760.3 223a11.25 12 0 1 0 22.5 0a11.25 12 0 1 0 -22.5 0zM761.7 223a11.25 12 0 1 0 22.5 0a11.25 12 0 1 0 -22.5 0zM763.1 223a11.25 12 0 1 0 22.5 0a11.25 12 0 1 0 -22.5 0zM764.6 223a11.25 12 0 1 0 22.5 0a11.25 12 0 1 0 -22.5 0zM766 223a11.25 12 0 1 0 22.5 0a11.25 12 0 1 0 -22.5 0zM767.4 223a11.25 12 0 1 0 22.5 0a11.25 12 0 1 0 -22.5 0zM768.8 223a11.25 12 0 1 0 22.5 0a11.25 12 0 1 0 -22.5 0zM770.2 222a11.25 12 0 1 0 22.5 0a11.25 12 0 1 0 -22.5 0zM771.6 223a11.25 12 0 1 0 22.5 0a11.25 12 0 1 0 -22.5 0zM773 222a11.25 12 0 1 0 22.5 0a11.25 12 0 1 0 -22.5 0zM774.4 222a11.25 12 0 1 0 22.5 0a11.25 12 0 1 0 -22.5 0zM775.8 222a11.25 12 0 1 0 22.5 0a11.25 12 0 1 0 -22.5 0zM777.2 223a11.25 12 0 1 0 22.5 0a11.25 12 0 1 0 -22.5 0zM778.6 222a11.25 12 0 1 0 22.5 0a11.25 12 0 1 0 -22.5 0zM780 222a11.25 12 0 1 0 22.5 0a11.25 12 0 1 0 -22.5 0zM781.5 222a11.25 12 0 1 0 22.5 0a11.25 12 0 1 0 -22.5 0zM782.9 222a11.25 12 0 1 0 22.5 0a11.25 12 0 1 0 -22.5 0zM784.3 222a11.25 12 0 1 0 22.5 0a11.25 12 0 1 0 -22.5 0zM785.7 222a11.25 12 0 1 0 22.5 0a11.25 12 0 1 0 -22.5 0zM787.1 221a11.25 12 0 1 0 22.5 0a11.25 12 0 1 0 -22.5 0zM788.5 222a11.25 12 0 1 0 22.5 0a11.25 12 0 1 0 -22.5 0zM789.9 222a11.25 12 0 1 0 22.5 0a11.25 12 0 1 0 -22.5 0zM791.3 221a11.25 12 0 1 0 22.5 0a11.25 12 0 1 0 -22.5 0zM792.7 221a11.25 12 0 1 0 22.5 0a11.25 12 0 1 0 -22.5 0zM794.1 221a11.25 12 0 1 0 22.5 0a11.25 12 0 1 0 -22.5 0zM795.5 221a11.25 12 0 1 0 22.5 0a11.25 12 0 1 0 -22.5 0zM797 221a11.25 12 0 1 0 22.5 0a11.25 12 0 1 0 -22.5 0zM798.4 221a11.25 12 0 1 0 22.5 0a11.25 12 0 1 0 -22.5 0zM799.8 221a11.25 12 0 1 0 22.5 0a11.25 12 0 1 0 -22.5 0zM801.2 221a11.25 12 0 1 0 22.5 0a11.25 12 0 1 0 -22.5 0zM802.6 221a11.25 12 0 1 0 22.5 0a11.25 12 0 1 0 -22.5 0zM804 221a11.25 12 0 1 0 22.5 0a11.25 12 0 1 0 -22.5 0zM805.4 221a11.25 12 0 1 0 22.5 0a11.25 12 0 1 0 -22.5 0zM806.8 221a11.25 12 0 1 0 22.5 0a11.25 12 0 1 0 -22.5 0zM808.2 221a11.25 12 0 1 0 22.5 0a11.25 12 0 1 0 -22.5 0zM809.6 220a11.25 12 0 1 0 22.5 0a11.25 12 0 1 0 -22.5 0zM811 221a11.25 12 0 1 0 22.5 0a11.25 12 0 1 0 -22.5 0zM812.4 220a11.25 12 0 1 0 22.5 0a11.25 12 0 1 0 -22.5 0zM813.9 221a11.25 12 0 1 0 22.5 0a11.25 12 0 1 0 -22.5 0zM815.3 221a11.25 12 0 1 0 22.5 0a11.25 12 0 1 0 -22.5 0zM816.7 220a11.25 12 0 1 0 22.5 0a11.25 12 0 1 0 -22.5 0zM818.1 221a11.25 12 0 1 0 22.5 0a11.25 12 0 1 0 -22.5 0zM819.5 221a11.25 12 0 1 0 22.5 0a11.25 12 0 1 0 -22.5 0zM820.9 221a11.25 12 0 1 0 22.5 0a11.25 12 0 1 0 -22.5 0zM822.3 220a11.25 12 0 1 0 22.5 0a11.25 12 0 1 0 -22.5 0zM823.7 220a11.25 12 0 1 0 22.5 0a11.25 12 0 1 0 -22.5 0zM825.1 220a11.25 12 0 1 0 22.5 0a11.25 12 0 1 0 -22.5 0zM826.5 220a11.25 12 0 1 0 22.5 0a11.25 12 0 1 0 -22.5 0zM827.9 220a11.25 12 0 1 0 22.5 0a11.25 12 0 1 0 -22.5 0zM829.3 220a11.25 12 0 1 0 22.5 0a11.25 12 0 1 0 -22.5 0zM830.8 220a11.25 12 0 1 0 22.5 0a11.25 12 0 1 0 -22.5 0zM832.2 219a11.25 12 0 1 0 22.5 0a11.25 12 0 1 0 -22.5 0zM833.6 220a11.25 12 0 1 0 22.5 0a11.25 12 0 1 0 -22.5 0zM835 220a11.25 12 0 1 0 22.5 0a11.25 12 0 1 0 -22.5 0zM836.4 220a11.25 12 0 1 0 22.5 0a11.25 12 0 1 0 -22.5 0zM837.8 220a11.25 12 0 1 0 22.5 0a11.25 12 0 1 0 -22.5 0zM839.2 220a11.25 12 0 1 0 22.5 0a11.25 12 0 1 0 -22.5 0zM840.6 220a11.25 12 0 1 0 22.5 0a11.25 12 0 1 0 -22.5 0zM842 220a11.25 12 0 1 0 22.5 0a11.25 12 0 1 0 -22.5 0zM843.4 219a11.25 12 0 1 0 22.5 0a11.25 12 0 1 0 -22.5 0zM844.8 219a11.25 12 0 1 0 22.5 0a11.25 12 0 1 0 -22.5 0zM846.3 219a11.25 12 0 1 0 22.5 0a11.25 12 0 1 0 -22.5 0zM847.7 220a11.25 12 0 1 0 22.5 0a11.25 12 0 1 0 -22.5 0zM849.1 219a11.25 12 0 1 0 22.5 0a11.25 12 0 1 0 -22.5 0zM850.5 219a11.25 12 0 1 0 22.5 0a11.25 12 0 1 0 -22.5 0zM851.9 219a11.25 12 0 1 0 22.5 0a11.25 12 0 1 0 -22.5 0zM853.3 219a11.25 12 0 1 0 22.5 0a11.25 12 0 1 0 -22.5 0zM854.7 219a11.25 12 0 1 0 22.5 0a11.25 12 0 1 0 -22.5 0zM856.1 219a11.25 12 0 1 0 22.5 0a11.25 12 0 1 0 -22.5 0zM857.5 219a11.25 12 0 1 0 22.5 0a11.25 12 0 1 0 -22.5 0zM858.9 219a11.25 12 0 1 0 22.5 0a11.25 12 0 1 0 -22.5 0zM860.3 219a11.25 12 0 1 0 22.5 0a11.25 12 0 1 0 -22.5 0zM861.7 219a11.25 12 0 1 0 22.5 0a11.25 12 0 1 0 -22.5 0zM863.2 218a11.25 12 0 1 0 22.5 0a11.25 12 0 1 0 -22.5 0zM864.6 219a11.25 12 0 1 0 22.5 0a11.25 12 0 1 0 -22.5 0zM866 219a11.25 12 0 1 0 22.5 0a11.25 12 0 1 0 -22.5 0zM867.4 219a11.25 12 0 1 0 22.5 0a11.25 12 0 1 0 -22.5 0zM868.8 218a11.25 12 0 1 0 22.5 0a11.25 12 0 1 0 -22.5 0zM870.2 219a11.25 12 0 1 0 22.5 0a11.25 12 0 1 0 -22.5 0zM871.6 219a11.25 12 0 1 0 22.5 0a11.25 12 0 1 0 -22.5 0zM873 218a11.25 12 0 1 0 22.5 0a11.25 12 0 1 0 -22.5 0zM874.4 218a11.25 12 0 1 0 22.5 0a11.25 12 0 1 0 -22.5 0zM875.8 218a11.25 12 0 1 0 22.5 0a11.25 12 0 1 0 -22.5 0zM877.2 218a11.25 12 0 1 0 22.5 0a11.25 12 0 1 0 -22.5 0zM878.7 218a11.25 12 0 1 0 22.5 0a11.25 12 0 1 0 -22.5 0zM880.1 218a11.25 12 0 1 0 22.5 0a11.25 12 0 1 0 -22.5 0zM881.5 218a11.25 12 0 1 0 22.5 0a11.25 12 0 1 0 -22.5 0zM882.9 218a11.25 12 0 1 0 22.5 0a11.25 12 0 1 0 -22.5 0zM884.3 217a11.25 12 0 1 0 22.5 0a11.25 12 0 1 0 -22.5 0zM885.7 218a11.25 12 0 1 0 22.5 0a11.25 12 0 1 0 -22.5 0zM887.1 218a11.25 12 0 1 0 22.5 0a11.25 12 0 1 0 -22.5 0zM888.5 218a11.25 12 0 1 0 22.5 0a11.25 12 0 1 0 -22.5 0zM889.9 218a11.25 12 0 1 0 22.5 0a11.25 12 0 1 0 -22.5 0zM891.3 217a11.25 12 0 1 0 22.5 0a11.25 12 0 1 0 -22.5 0zM892.7 218a11.25 12 0 1 0 22.5 0a11.25 12 0 1 0 -22.5 0zM894.1 217a11.25 12 0 1 0 22.5 0a11.25 12 0 1 0 -22.5 0zM895.6 218a11.25 12 0 1 0 22.5 0a11.25 12 0 1 0 -22.5 0zM897 218a11.25 12 0 1 0 22.5 0a11.25 12 0 1 0 -22.5 0zM898.4 218a11.25 12 0 1 0 22.5 0a11.25 12 0 1 0 -22.5 0zM899.8 217a11.25 12 0 1 0 22.5 0a11.25 12 0 1 0 -22.5 0zM901.2 218a11.25 12 0 1 0 22.5 0a11.25 12 0 1 0 -22.5 0zM902.6 218a11.25 12 0 1 0 22.5 0a11.25 12 0 1 0 -22.5 0zM904 217a11.25 12 0 1 0 22.5 0a11.25 12 0 1 0 -22.5 0zM905.4 217a11.25 12 0 1 0 22.5 0a11.25 12 0 1 0 -22.5 0zM906.8 218a11.25 12 0 1 0 22.5 0a11.25 12 0 1 0 -22.5 0zM908.2 218a11.25 12 0 1 0 22.5 0a11.25 12 0 1 0 -22.5 0zM909.6 218a11.25 12 0 1 0 22.5 0a11.25 12 0 1 0 -22.5 0zM911 217a11.25 12 0 1 0 22.5 0a11.25 12 0 1 0 -22.5 0zM912.5 218a11.25 12 0 1 0 22.5 0a11.25 12 0 1 0 -22.5 0zM913.9 218a11.25 12 0 1 0 22.5 0a11.25 12 0 1 0 -22.5 0zM915.3 218a11.25 12 0 1 0 22.5 0a11.25 12 0 1 0 -22.5 0zM916.7 218a11.25 12 0 1 0 22.5 0a11.25 12 0 1 0 -22.5 0zM918.1 218a11.25 12 0 1 0 22.5 0a11.25 12 0 1 0 -22.5 0zM919.5 217a11.25 12 0 1 0 22.5 0a11.25 12 0 1 0 -22.5 0zM920.9 217a11.25 12 0 1 0 22.5 0a11.25 12 0 1 0 -22.5 0zM922.3 218a11.25 12 0 1 0 22.5 0a11.25 12 0 1 0 -22.5 0zM923.7 217a11.25 12 0 1 0 22.5 0a11.25 12 0 1 0 -22.5 0zM925.1 217a11.25 12 0 1 0 22.5 0a11.25 12 0 1 0 -22.5 0zM926.5 217a11.25 12 0 1 0 22.5 0a11.25 12 0 1 0 -22.5 0zM928 218a11.25 12 0 1 0 22.5 0a11.25 12 0 1 0 -22.5 0zM929.4 217a11.25 12 0 1 0 22.5 0a11.25 12 0 1 0 -22.5 0zM930.8 218a11.25 12 0 1 0 22.5 0a11.25 12 0 1 0 -22.5 0zM932.2 217a11.25 12 0 1 0 22.5 0a11.25 12 0 1 0 -22.5 0zM933.6 217a11.25 12 0 1 0 22.5 0a11.25 12 0 1 0 -22.5 0zM935 217a11.25 12 0 1 0 22.5 0a11.25 12 0 1 0 -22.5 0zM936.4 217a11.25 12 0 1 0 22.5 0a11.25 12 0 1 0 -22.5 0zM937.8 217a11.25 12 0 1 0 22.5 0a11.25 12 0 1 0 -22.5 0zM939.2 218a11.25 12 0 1 0 22.5 0a11.25 12 0 1 0 -22.5 0zM940.6 217a11.25 12 0 1 0 22.5 0a11.25 12 0 1 0 -22.5 0zM942 217a11.25 12 0 1 0 22.5 0a11.25 12 0 1 0 -22.5 0zM943.4 217a11.25 12 0 1 0 22.5 0a11.25 12 0 1 0 -22.5 0zM944.9 217a11.25 12 0 1 0 22.5 0a11.25 12 0 1 0 -22.5 0zM946.3 217a11.25 12 0 1 0 22.5 0a11.25 12 0 1 0 -22.5 0zM947.7 217a11.25 12 0 1 0 22.5 0a11.25 12 0 1 0 -22.5 0zM949.1 217a11.25 12 0 1 0 22.5 0a11.25 12 0 1 0 -22.5 0zM950.5 217a11.25 12 0 1 0 22.5 0a11.25 12 0 1 0 -22.5 0zM951.9 217a11.25 12 0 1 0 22.5 0a11.25 12 0 1 0 -22.5 0zM953.3 217a11.25 12 0 1 0 22.5 0a11.25 12 0 1 0 -22.5 0zM954.7 217a11.25 12 0 1 0 22.5 0a11.25 12 0 1 0 -22.5 0zM956.1 217a11.25 12 0 1 0 22.5 0a11.25 12 0 1 0 -22.5 0zM957.5 217a11.25 12 0 1 0 22.5 0a11.25 12 0 1 0 -22.5 0zM958.9 217a11.25 12 0 1 0 22.5 0a11.25 12 0 1 0 -22.5 0zM960.4 217a11.25 12 0 1 0 22.5 0a11.25 12 0 1 0 -22.5 0zM961.8 217a11.25 12 0 1 0 22.5 0a11.25 12 0 1 0 -22.5 0zM963.2 217a11.25 12 0 1 0 22.5 0a11.25 12 0 1 0 -22.5 0zM964.6 217a11.25 12 0 1 0 22.5 0a11.25 12 0 1 0 -22.5 0zM966 217a11.25 12 0 1 0 22.5 0a11.25 12 0 1 0 -22.5 0zM967.4 217a11.25 12 0 1 0 22.5 0a11.25 12 0 1 0 -22.5 0zM968.8 217a11.25 12 0 1 0 22.5 0a11.25 12 0 1 0 -22.5 0zM970.2 217a11.25 12 0 1 0 22.5 0a11.25 12 0 1 0 -22.5 0zM971.6 217a11.25 12 0 1 0 22.5 0a11.25 12 0 1 0 -22.5 0zM973 217a11.25 12 0 1 0 22.5 0a11.25 12 0 1 0 -22.5 0zM974.4 217a11.25 12 0 1 0 22.5 0a11.25 12 0 1 0 -22.5 0zM975.8 216a11.25 12 0 1 0 22.5 0a11.25 12 0 1 0 -22.5 0zM977.3 221a11.25 12 0 1 0 22.5 0a11.25 12 0 1 0 -22.5 0zM978.7 226a11.25 12 0 1 0 22.5 0a11.25 12 0 1 0 -22.5 0zM980.1 229a11.25 12 0 1 0 22.5 0a11.25 12 0 1 0 -22.5 0zM981.5 231a11.25 12 0 1 0 22.5 0a11.25 12 0 1 0 -22.5 0zM982.9 233a11.25 12 0 1 0 22.5 0a11.25 12 0 1 0 -22.5 0zM984.4 235a11.25 12 0 1 0 22.5 0a11.25 12 0 1 0 -22.5 0zM985.8 237a11.25 12 0 1 0 22.5 0a11.25 12 0 1 0 -22.5 0zM987.2 239a11.25 12 0 1 0 22.5 0a11.25 12 0 1 0 -22.5 0zM988.6 240a11.25 12 0 1 0 22.5 0a11.25 12 0 1 0 -22.5 0zM990 242a11.25 12 0 1 0 22.5 0a11.25 12 0 1 0 -22.5 0zM991.4 243a11.25 12 0 1 0 22.5 0a11.25 12 0 1 0 -22.5 0zM992.8 244a11.25 12 0 1 0 22.5 0a11.25 12 0 1 0 -22.5 0zM994.2 244a11.25 12 0 1 0 22.5 0a11.25 12 0 1 0 -22.5 0zM995.6 246a11.25 12 0 1 0 22.5 0a11.25 12 0 1 0 -22.5 0zM997 247a11.25 12 0 1 0 22.5 0a11.25 12 0 1 0 -22.5 0zM998.4 248a11.25 12 0 1 0 22.5 0a11.25 12 0 1 0 -22.5 0zM999.9 248a11.25 12 0 1 0 22.5 0a11.25 12 0 1 0 -22.5 0zM1001.3 249a11.25 12 0 1 0 22.5 0a11.25 12 0 1 0 -22.5 0zM1002.7 250a11.25 12 0 1 0 22.5 0a11.25 12 0 1 0 -22.5 0zM1004.1 250a11.25 12 0 1 0 22.5 0a11.25 12 0 1 0 -22.5 0zM1005.5 250a11.25 12 0 1 0 22.5 0a11.25 12 0 1 0 -22.5 0zM1006.9 251a11.25 12 0 1 0 22.5 0a11.25 12 0 1 0 -22.5 0zM1008.3 252a11.25 12 0 1 0 22.5 0a11.25 12 0 1 0 -22.5 0zM1009.7 251a11.25 12 0 1 0 22.5 0a11.25 12 0 1 0 -22.5 0zM1011.1 252a11.25 12 0 1 0 22.5 0a11.25 12 0 1 0 -22.5 0zM1012.5 253a11.25 12 0 1 0 22.5 0a11.25 12 0 1 0 -22.5 0zM1013.9 253a11.25 12 0 1 0 22.5 0a11.25 12 0 1 0 -22.5 0zM1015.3 253a11.25 12 0 1 0 22.5 0a11.25 12 0 1 0 -22.5 0zM1016.8 253a11.25 12 0 1 0 22.5 0a11.25 12 0 1 0 -22.5 0zM1018.2 254a11.25 12 0 1 0 22.5 0a11.25 12 0 1 0 -22.5 0zM1019.6 254a11.25 12 0 1 0 22.5 0a11.25 12 0 1 0 -22.5 0zM1021 254a11.25 12 0 1 0 22.5 0a11.25 12 0 1 0 -22.5 0zM1022.4 254a11.25 12 0 1 0 22.5 0a11.25 12 0 1 0 -22.5 0zM1023.8 254a11.25 12 0 1 0 22.5 0a11.25 12 0 1 0 -22.5 0zM1025.2 255a11.25 12 0 1 0 22.5 0a11.25 12 0 1 0 -22.5 0zM1026.6 255a11.25 12 0 1 0 22.5 0a11.25 12 0 1 0 -22.5 0zM1028 255a11.25 12 0 1 0 22.5 0a11.25 12 0 1 0 -22.5 0zM1029.4 255a11.25 12 0 1 0 22.5 0a11.25 12 0 1 0 -22.5 0zM1030.8 256a11.25 12 0 1 0 22.5 0a11.25 12 0 1 0 -22.5 0zM1032.3 256a11.25 12 0 1 0 22.5 0a11.25 12 0 1 0 -22.5 0zM1033.7 256a11.25 12 0 1 0 22.5 0a11.25 12 0 1 0 -22.5 0zM1035.1 256a11.25 12 0 1 0 22.5 0a11.25 12 0 1 0 -22.5 0zM1036.5 256a11.25 12 0 1 0 22.5 0a11.25 12 0 1 0 -22.5 0zM1037.9 256a11.25 12 0 1 0 22.5 0a11.25 12 0 1 0 -22.5 0zM1039.3 257a11.25 12 0 1 0 22.5 0a11.25 12 0 1 0 -22.5 0zM1040.7 257a11.25 12 0 1 0 22.5 0a11.25 12 0 1 0 -22.5 0zM1042.1 257a11.25 12 0 1 0 22.5 0a11.25 12 0 1 0 -22.5 0zM1043.5 257a11.25 12 0 1 0 22.5 0a11.25 12 0 1 0 -22.5 0zM1044.9 258a11.25 12 0 1 0 22.5 0a11.25 12 0 1 0 -22.5 0zM1046.3 257a11.25 12 0 1 0 22.5 0a11.25 12 0 1 0 -22.5 0zM1047.7 257a11.25 12 0 1 0 22.5 0a11.25 12 0 1 0 -22.5 0zM1049.2 258a11.25 12 0 1 0 22.5 0a11.25 12 0 1 0 -22.5 0zM1050.6 258a11.25 12 0 1 0 22.5 0a11.25 12 0 1 0 -22.5 0zM1052 258a11.25 12 0 1 0 22.5 0a11.25 12 0 1 0 -22.5 0zM1053.4 258a11.25 12 0 1 0 22.5 0a11.25 12 0 1 0 -22.5 0zM1054.8 259a11.25 12 0 1 0 22.5 0a11.25 12 0 1 0 -22.5 0zM1056.2 258a11.25 12 0 1 0 22.5 0a11.25 12 0 1 0 -22.5 0zM1057.6 258a11.25 12 0 1 0 22.5 0a11.25 12 0 1 0 -22.5 0zM1059 259a11.25 12 0 1 0 22.5 0a11.25 12 0 1 0 -22.5 0zM1060.4 258a11.25 12 0 1 0 22.5 0a11.25 12 0 1 0 -22.5 0zM1061.8 259a11.25 12 0 1 0 22.5 0a11.25 12 0 1 0 -22.5 0zM1063.2 259a11.25 12 0 1 0 22.5 0a11.25 12 0 1 0 -22.5 0zM1064.6 259a11.25 12 0 1 0 22.5 0a11.25 12 0 1 0 -22.5 0zM1066.1 259a11.25 12 0 1 0 22.5 0a11.25 12 0 1 0 -22.5 0zM1067.5 259a11.25 12 0 1 0 22.5 0a11.25 12 0 1 0 -22.5 0zM1068.9 259a11.25 12 0 1 0 22.5 0a11.25 12 0 1 0 -22.5 0zM1070.3 260a11.25 12 0 1 0 22.5 0a11.25 12 0 1 0 -22.5 0zM1071.7 260a11.25 12 0 1 0 22.5 0a11.25 12 0 1 0 -22.5 0zM1073.1 259a11.25 12 0 1 0 22.5 0a11.25 12 0 1 0 -22.5 0zM1074.5 259a11.25 12 0 1 0 22.5 0a11.25 12 0 1 0 -22.5 0zM1075.9 260a11.25 12 0 1 0 22.5 0a11.25 12 0 1 0 -22.5 0zM1077.3 260a11.25 12 0 1 0 22.5 0a11.25 12 0 1 0 -22.5 0zM1078.7 260a11.25 12 0 1 0 22.5 0a11.25 12 0 1 0 -22.5 0zM1080.1 260a11.25 12 0 1 0 22.5 0a11.25 12 0 1 0 -22.5 0zM1081.6 260a11.25 12 0 1 0 22.5 0a11.25 12 0 1 0 -22.5 0zM1083 260a11.25 12 0 1 0 22.5 0a11.25 12 0 1 0 -22.5 0zM1084.4 261a11.25 12 0 1 0 22.5 0a11.25 12 0 1 0 -22.5 0zM1085.8 261a11.25 12 0 1 0 22.5 0a11.25 12 0 1 0 -22.5 0zM1087.2 261a11.25 12 0 1 0 22.5 0a11.25 12 0 1 0 -22.5 0zM1088.6 261a11.25 12 0 1 0 22.5 0a11.25 12 0 1 0 -22.5 0zM1090 261a11.25 12 0 1 0 22.5 0a11.25 12 0 1 0 -22.5 0zM1091.4 260a11.25 12 0 1 0 22.5 0a11.25 12 0 1 0 -22.5 0zM1092.8 261a11.25 12 0 1 0 22.5 0a11.25 12 0 1 0 -22.5 0zM1094.2 261a11.25 12 0 1 0 22.5 0a11.25 12 0 1 0 -22.5 0zM1095.6 261a11.25 12 0 1 0 22.5 0a11.25 12 0 1 0 -22.5 0zM1097 261a11.25 12 0 1 0 22.5 0a11.25 12 0 1 0 -22.5 0zM1098.5 262a11.25 12 0 1 0 22.5 0a11.25 12 0 1 0 -22.5 0zM1099.9 261a11.25 12 0 1 0 22.5 0a11.25 12 0 1 0 -22.5 0zM1101.3 262a11.25 12 0 1 0 22.5 0a11.25 12 0 1 0 -22.5 0zM1102.7 262a11.25 12 0 1 0 22.5 0a11.25 12 0 1 0 -22.5 0zM1104.1 262a11.25 12 0 1 0 22.5 0a11.25 12 0 1 0 -22.5 0zM1105.5 262a11.25 12 0 1 0 22.5 0a11.25 12 0 1 0 -22.5 0zM1106.9 262a11.25 12 0 1 0 22.5 0a11.25 12 0 1 0 -22.5 0zM1108.3 262a11.25 12 0 1 0 22.5 0a11.25 12 0 1 0 -22.5 0zM1109.7 261a11.25 12 0 1 0 22.5 0a11.25 12 0 1 0 -22.5 0zM1111.1 262a11.25 12 0 1 0 22.5 0a11.25 12 0 1 0 -22.5 0zM1112.5 262a11.25 12 0 1 0 22.5 0a11.25 12 0 1 0 -22.5 0zM1113.9 262a11.25 12 0 1 0 22.5 0a11.25 12 0 1 0 -22.5 0zM1115.4 262a11.25 12 0 1 0 22.5 0a11.25 12 0 1 0 -22.5 0zM1116.8 263a11.25 12 0 1 0 22.5 0a11.25 12 0 1 0 -22.5 0zM1118.2 262a11.25 12 0 1 0 22.5 0a11.25 12 0 1 0 -22.5 0zM1119.6 262a11.25 12 0 1 0 22.5 0a11.25 12 0 1 0 -22.5 0zM1121 263a11.25 12 0 1 0 22.5 0a11.25 12 0 1 0 -22.5 0zM1122.4 263a11.25 12 0 1 0 22.5 0a11.25 12 0 1 0 -22.5 0zM1123.8 263a11.25 12 0 1 0 22.5 0a11.25 12 0 1 0 -22.5 0zM1125.2 263a11.25 12 0 1 0 22.5 0a11.25 12 0 1 0 -22.5 0zM1126.6 263a11.25 12 0 1 0 22.5 0a11.25 12 0 1 0 -22.5 0zM1128 263a11.25 12 0 1 0 22.5 0a11.25 12 0 1 0 -22.5 0zM1129.4 263a11.25 12 0 1 0 22.5 0a11.25 12 0 1 0 -22.5 0zM1130.9 264a11.25 12 0 1 0 22.5 0a11.25 12 0 1 0 -22.5 0zM1132.3 263a11.25 12 0 1 0 22.5 0a11.25 12 0 1 0 -22.5 0zM1133.7 264a11.25 12 0 1 0 22.5 0a11.25 12 0 1 0 -22.5 0zM1135.1 264a11.25 12 0 1 0 22.5 0a11.25 12 0 1 0 -22.5 0zM1136.5 264a11.25 12 0 1 0 22.5 0a11.25 12 0 1 0 -22.5 0zM1137.9 264a11.25 12 0 1 0 22.5 0a11.25 12 0 1 0 -22.5 0zM1139.3 263a11.25 12 0 1 0 22.5 0a11.25 12 0 1 0 -22.5 0zM1140.7 264a11.25 12 0 1 0 22.5 0a11.25 12 0 1 0 -22.5 0zM1142.1 264a11.25 12 0 1 0 22.5 0a11.25 12 0 1 0 -22.5 0zM1143.5 264a11.25 12 0 1 0 22.5 0a11.25 12 0 1 0 -22.5 0zM1144.9 264a11.25 12 0 1 0 22.5 0a11.25 12 0 1 0 -22.5 0zM1146.3 265a11.25 12 0 1 0 22.5 0a11.25 12 0 1 0 -22.5 0zM1147.8 264a11.25 12 0 1 0 22.5 0a11.25 12 0 1 0 -22.5 0zM1149.2 265a11.25 12 0 1 0 22.5 0a11.25 12 0 1 0 -22.5 0zM1150.6 265a11.25 12 0 1 0 22.5 0a11.25 12 0 1 0 -22.5 0zM1152 265a11.25 12 0 1 0 22.5 0a11.25 12 0 1 0 -22.5 0zM1153.4 265a11.25 12 0 1 0 22.5 0a11.25 12 0 1 0 -22.5 0zM1154.8 265a11.25 12 0 1 0 22.5 0a11.25 12 0 1 0 -22.5 0zM1156.2 265a11.25 12 0 1 0 22.5 0a11.25 12 0 1 0 -22.5 0zM1157.6 266a11.25 12 0 1 0 22.5 0a11.25 12 0 1 0 -22.5 0zM1159 265a11.25 12 0 1 0 22.5 0a11.25 12 0 1 0 -22.5 0zM1160.4 265a11.25 12 0 1 0 22.5 0a11.25 12 0 1 0 -22.5 0zM1161.8 266a11.25 12 0 1 0 22.5 0a11.25 12 0 1 0 -22.5 0zM1163.3 266a11.25 12 0 1 0 22.5 0a11.25 12 0 1 0 -22.5 0zM1164.7 266a11.25 12 0 1 0 22.5 0a11.25 12 0 1 0 -22.5 0zM1166.1 266a11.25 12 0 1 0 22.5 0a11.25 12 0 1 0 -22.5 0zM1167.5 266a11.25 12 0 1 0 22.5 0a11.25 12 0 1 0 -22.5 0zM1168.9 266a11.25 12 0 1 0 22.5 0a11.25 12 0 1 0 -22.5 0zM1170.3 266a11.25 12 0 1 0 22.5 0a11.25 12 0 1 0 -22.5 0zM1171.7 266a11.25 12 0 1 0 22.5 0a11.25 12 0 1 0 -22.5 0zM1173.1 266a11.25 12 0 1 0 22.5 0a11.25 12 0 1 0 -22.5 0zM1174.5 267a11.25 12 0 1 0 22.5 0a11.25 12 0 1 0 -22.5 0zM1175.9 266a11.25 12 0 1 0 22.5 0a11.25 12 0 1 0 -22.5 0zM1177.3 267a11.25 12 0 1 0 22.5 0a11.25 12 0 1 0 -22.5 0zM1178.7 267a11.25 12 0 1 0 22.5 0a11.25 12 0 1 0 -22.5 0zM1180.2 267a11.25 12 0 1 0 22.5 0a11.25 12 0 1 0 -22.5 0zM1181.6 267a11.25 12 0 1 0 22.5 0a11.25 12 0 1 0 -22.5 0zM1183 268a11.25 12 0 1 0 22.5 0a11.25 12 0 1 0 -22.5 0zM1184.4 267a11.25 12 0 1 0 22.5 0a11.25 12 0 1 0 -22.5 0zM1185.8 268a11.25 12 0 1 0 22.5 0a11.25 12 0 1 0 -22.5 0zM1187.2 267a11.25 12 0 1 0 22.5 0a11.25 12 0 1 0 -22.5 0zM1188.6 267a11.25 12 0 1 0 22.5 0a11.25 12 0 1 0 -22.5 0zM1190 268a11.25 12 0 1 0 22.5 0a11.25 12 0 1 0 -22.5 0zM1191.4 268a11.25 12 0 1 0 22.5 0a11.25 12 0 1 0 -22.5 0zM1192.8 268a11.25 12 0 1 0 22.5 0a11.25 12 0 1 0 -22.5 0zM1194.2 268a11.25 12 0 1 0 22.5 0a11.25 12 0 1 0 -22.5 0zM1195.6 268a11.25 12 0 1 0 22.5 0a11.25 12 0 1 0 -22.5 0zM1197.1 267a11.25 12 0 1 0 22.5 0a11.25 12 0 1 0 -22.5 0zM1198.5 268a11.25 12 0 1 0 22.5 0a11.25 12 0 1 0 -22.5 0zM1199.9 268a11.25 12 0 1 0 22.5 0a11.25 12 0 1 0 -22.5 0zM1201.3 268a11.25 12 0 1 0 22.5 0a11.25 12 0 1 0 -22.5 0zM1202.7 268a11.25 12 0 1 0 22.5 0a11.25 12 0 1 0 -22.5 0zM1204.1 268a11.25 12 0 1 0 22.5 0a11.25 12 0 1 0 -22.5 0zM1205.5 268a11.25 12 0 1 0 22.5 0a11.25 12 0 1 0 -22.5 0zM1206.9 269a11.25 12 0 1 0 22.5 0a11.25 12 0 1 0 -22.5 0zM1208.3 269a11.25 12 0 1 0 22.5 0a11.25 12 0 1 0 -22.5 0zM1209.7 269a11.25 12 0 1 0 22.5 0a11.25 12 0 1 0 -22.5 0zM1211.1 269a11.25 12 0 1 0 22.5 0a11.25 12 0 1 0 -22.5 0zM1212.6 268a11.25 12 0 1 0 22.5 0a11.25 12 0 1 0 -22.5 0zM1214 269a11.25 12 0 1 0 22.5 0a11.25 12 0 1 0 -22.5 0zM1215.4 269a11.25 12 0 1 0 22.5 0a11.25 12 0 1 0 -22.5 0zM1216.8 269a11.25 12 0 1 0 22.5 0a11.25 12 0 1 0 -22.5 0zM1218.2 269a11.25 12 0 1 0 22.5 0a11.25 12 0 1 0 -22.5 0zM1219.6 269a11.25 12 0 1 0 22.5 0a11.25 12 0 1 0 -22.5 0zM1221 269a11.25 12 0 1 0 22.5 0a11.25 12 0 1 0 -22.5 0zM1222.4 269a11.25 12 0 1 0 22.5 0a11.25 12 0 1 0 -22.5 0zM1223.8 269a11.25 12 0 1 0 22.5 0a11.25 12 0 1 0 -22.5 0zM1225.2 269a11.25 12 0 1 0 22.5 0a11.25 12 0 1 0 -22.5 0zM1226.6 269a11.25 12 0 1 0 22.5 0a11.25 12 0 1 0 -22.5 0zM1228 270a11.25 12 0 1 0 22.5 0a11.25 12 0 1 0 -22.5 0zM1229.5 269a11.25 12 0 1 0 22.5 0a11.25 12 0 1 0 -22.5 0zM1230.9 270a11.25 12 0 1 0 22.5 0a11.25 12 0 1 0 -22.5 0zM1232.3 270a11.25 12 0 1 0 22.5 0a11.25 12 0 1 0 -22.5 0zM1233.7 270a11.25 12 0 1 0 22.5 0a11.25 12 0 1 0 -22.5 0zM1235.1 270a11.25 12 0 1 0 22.5 0a11.25 12 0 1 0 -22.5 0zM1236.5 270a11.25 12 0 1 0 22.5 0a11.25 12 0 1 0 -22.5 0zM1237.9 270a11.25 12 0 1 0 22.5 0a11.25 12 0 1 0 -22.5 0zM1239.3 270a11.25 12 0 1 0 22.5 0a11.25 12 0 1 0 -22.5 0zM1240.7 271a11.25 12 0 1 0 22.5 0a11.25 12 0 1 0 -22.5 0zM1242.1 270a11.25 12 0 1 0 22.5 0a11.25 12 0 1 0 -22.5 0zM1243.5 270a11.25 12 0 1 0 22.5 0a11.25 12 0 1 0 -22.5 0zM1245 271a11.25 12 0 1 0 22.5 0a11.25 12 0 1 0 -22.5 0zM1246.4 271a11.25 12 0 1 0 22.5 0a11.25 12 0 1 0 -22.5 0zM1247.8 271a11.25 12 0 1 0 22.5 0a11.25 12 0 1 0 -22.5 0zM1249.2 271a11.25 12 0 1 0 22.5 0a11.25 12 0 1 0 -22.5 0zM1250.6 271a11.25 12 0 1 0 22.5 0a11.25 12 0 1 0 -22.5 0zM1252 271a11.25 12 0 1 0 22.5 0a11.25 12 0 1 0 -22.5 0zM1253.4 271a11.25 12 0 1 0 22.5 0a11.25 12 0 1 0 -22.5 0zM1254.8 271a11.25 12 0 1 0 22.5 0a11.25 12 0 1 0 -22.5 0zM1256.2 271a11.25 12 0 1 0 22.5 0a11.25 12 0 1 0 -22.5 0zM1257.6 271a11.25 12 0 1 0 22.5 0a11.25 12 0 1 0 -22.5 0zM1259 271a11.25 12 0 1 0 22.5 0a11.25 12 0 1 0 -22.5 0zM1260.4 271a11.25 12 0 1 0 22.5 0a11.25 12 0 1 0 -22.5 0zM1261.9 271a11.25 12 0 1 0 22.5 0a11.25 12 0 1 0 -22.5 0zM1263.3 271a11.25 12 0 1 0 22.5 0a11.25 12 0 1 0 -22.5 0zM1264.7 272a11.25 12 0 1 0 22.5 0a11.25 12 0 1 0 -22.5 0zM1266.1 272a11.25 12 0 1 0 22.5 0a11.25 12 0 1 0 -22.5 0zM1267.5 272a11.25 12 0 1 0 22.5 0a11.25 12 0 1 0 -22.5 0zM1268.9 271a11.25 12 0 1 0 22.5 0a11.25 12 0 1 0 -22.5 0zM1270.3 272a11.25 12 0 1 0 22.5 0a11.25 12 0 1 0 -22.5 0zM1271.7 272a11.25 12 0 1 0 22.5 0a11.25 12 0 1 0 -22.5 0zM1273.1 272a11.25 12 0 1 0 22.5 0a11.25 12 0 1 0 -22.5 0zM1274.5 272a11.25 12 0 1 0 22.5 0a11.25 12 0 1 0 -22.5 0zM1275.9 272a11.25 12 0 1 0 22.5 0a11.25 12 0 1 0 -22.5 0zM1277.3 272a11.25 12 0 1 0 22.5 0a11.25 12 0 1 0 -22.5 0zM1278.8 272a11.25 12 0 1 0 22.5 0a11.25 12 0 1 0 -22.5 0zM1280.2 272a11.25 12 0 1 0 22.5 0a11.25 12 0 1 0 -22.5 0zM1281.6 272a11.25 12 0 1 0 22.5 0a11.25 12 0 1 0 -22.5 0zM1283 273a11.25 12 0 1 0 22.5 0a11.25 12 0 1 0 -22.5 0zM1284.4 273a11.25 12 0 1 0 22.5 0a11.25 12 0 1 0 -22.5 0zM1285.8 273a11.25 12 0 1 0 22.5 0a11.25 12 0 1 0 -22.5 0zM1287.2 273a11.25 12 0 1 0 22.5 0a11.25 12 0 1 0 -22.5 0zM1288.6 272a11.25 12 0 1 0 22.5 0a11.25 12 0 1 0 -22.5 0zM1290 272a11.25 12 0 1 0 22.5 0a11.25 12 0 1 0 -22.5 0zM1291.4 273a11.25 12 0 1 0 22.5 0a11.25 12 0 1 0 -22.5 0zM1292.8 272a11.25 12 0 1 0 22.5 0a11.25 12 0 1 0 -22.5 0zM1294.3 273a11.25 12 0 1 0 22.5 0a11.25 12 0 1 0 -22.5 0zM1295.7 273a11.25 12 0 1 0 22.5 0a11.25 12 0 1 0 -22.5 0zM1297.1 273a11.25 12 0 1 0 22.5 0a11.25 12 0 1 0 -22.5 0zM1298.5 273a11.25 12 0 1 0 22.5 0a11.25 12 0 1 0 -22.5 0zM1299.9 273a11.25 12 0 1 0 22.5 0a11.25 12 0 1 0 -22.5 0zM1301.3 273a11.25 12 0 1 0 22.5 0a11.25 12 0 1 0 -22.5 0zM1302.7 274a11.25 12 0 1 0 22.5 0a11.25 12 0 1 0 -22.5 0zM1304.1 273a11.25 12 0 1 0 22.5 0a11.25 12 0 1 0 -22.5 0zM1305.5 273a11.25 12 0 1 0 22.5 0a11.25 12 0 1 0 -22.5 0zM1306.9 274a11.25 12 0 1 0 22.5 0a11.25 12 0 1 0 -22.5 0zM1308.3 273a11.25 12 0 1 0 22.5 0a11.25 12 0 1 0 -22.5 0zM1309.7 273a11.25 12 0 1 0 22.5 0a11.25 12 0 1 0 -22.5 0zM1311.2 274a11.25 12 0 1 0 22.5 0a11.25 12 0 1 0 -22.5 0zM1312.6 274a11.25 12 0 1 0 22.5 0a11.25 12 0 1 0 -22.5 0zM1314 274a11.25 12 0 1 0 22.5 0a11.25 12 0 1 0 -22.5 0zM1315.4 274a11.25 12 0 1 0 22.5 0a11.25 12 0 1 0 -22.5 0zM1316.8 273a11.25 12 0 1 0 22.5 0a11.25 12 0 1 0 -22.5 0zM1318.2 273a11.25 12 0 1 0 22.5 0a11.25 12 0 1 0 -22.5 0zM1319.6 274a11.25 12 0 1 0 22.5 0a11.25 12 0 1 0 -22.5 0zM1321 274a11.25 12 0 1 0 22.5 0a11.25 12 0 1 0 -22.5 0zM1322.4 275a11.25 12 0 1 0 22.5 0a11.25 12 0 1 0 -22.5 0zM1323.8 274a11.25 12 0 1 0 22.5 0a11.25 12 0 1 0 -22.5 0zM1325.2 274a11.25 12 0 1 0 22.5 0a11.25 12 0 1 0 -22.5 0zM1326.6 274a11.25 12 0 1 0 22.5 0a11.25 12 0 1 0 -22.5 0zM1328.1 274a11.25 12 0 1 0 22.5 0a11.25 12 0 1 0 -22.5 0zM1329.5 275a11.25 12 0 1 0 22.5 0a11.25 12 0 1 0 -22.5 0zM1330.9 274a11.25 12 0 1 0 22.5 0a11.25 12 0 1 0 -22.5 0zM1332.3 275a11.25 12 0 1 0 22.5 0a11.25 12 0 1 0 -22.5 0zM1333.7 275a11.25 12 0 1 0 22.5 0a11.25 12 0 1 0 -22.5 0zM1335.1 275a11.25 12 0 1 0 22.5 0a11.25 12 0 1 0 -22.5 0zM1336.5 275a11.25 12 0 1 0 22.5 0a11.25 12 0 1 0 -22.5 0zM1337.9 275a11.25 12 0 1 0 22.5 0a11.25 12 0 1 0 -22.5 0zM1339.3 274a11.25 12 0 1 0 22.5 0a11.25 12 0 1 0 -22.5 0zM1340.7 275a11.25 12 0 1 0 22.5 0a11.25 12 0 1 0 -22.5 0zM1342.1 275a11.25 12 0 1 0 22.5 0a11.25 12 0 1 0 -22.5 0zM1343.6 275a11.25 12 0 1 0 22.5 0a11.25 12 0 1 0 -22.5 0zM1345 275a11.25 12 0 1 0 22.5 0a11.25 12 0 1 0 -22.5 0zM1346.4 274a11.25 12 0 1 0 22.5 0a11.25 12 0 1 0 -22.5 0zM1347.8 275a11.25 12 0 1 0 22.5 0a11.25 12 0 1 0 -22.5 0zM1349.2 275a11.25 12 0 1 0 22.5 0a11.25 12 0 1 0 -22.5 0zM1350.6 275a11.25 12 0 1 0 22.5 0a11.25 12 0 1 0 -22.5 0zM1352 275a11.25 12 0 1 0 22.5 0a11.25 12 0 1 0 -22.5 0zM1353.4 276a11.25 12 0 1 0 22.5 0a11.25 12 0 1 0 -22.5 0zM1354.8 275a11.25 12 0 1 0 22.5 0a11.25 12 0 1 0 -22.5 0zM1356.2 275a11.25 12 0 1 0 22.5 0a11.25 12 0 1 0 -22.5 0zM1357.6 276a11.25 12 0 1 0 22.5 0a11.25 12 0 1 0 -22.5 0zM1359 275a11.25 12 0 1 0 22.5 0a11.25 12 0 1 0 -22.5 0zM1360.5 275a11.25 12 0 1 0 22.5 0a11.25 12 0 1 0 -22.5 0zM1361.9 275a11.25 12 0 1 0 22.5 0a11.25 12 0 1 0 -22.5 0zM1363.3 276a11.25 12 0 1 0 22.5 0a11.25 12 0 1 0 -22.5 0zM1364.7 276a11.25 12 0 1 0 22.5 0a11.25 12 0 1 0 -22.5 0zM1366.1 276a11.25 12 0 1 0 22.5 0a11.25 12 0 1 0 -22.5 0zM1367.5 276a11.25 12 0 1 0 22.5 0a11.25 12 0 1 0 -22.5 0zM1368.9 276a11.25 12 0 1 0 22.5 0a11.25 12 0 1 0 -22.5 0zM1370.3 276a11.25 12 0 1 0 22.5 0a11.25 12 0 1 0 -22.5 0zM1371.7 276a11.25 12 0 1 0 22.5 0a11.25 12 0 1 0 -22.5 0zM1373.1 277a11.25 12 0 1 0 22.5 0a11.25 12 0 1 0 -22.5 0zM1374.5 277a11.25 12 0 1 0 22.5 0a11.25 12 0 1 0 -22.5 0zM1376 276a11.25 12 0 1 0 22.5 0a11.25 12 0 1 0 -22.5 0zM1377.4 276a11.25 12 0 1 0 22.5 0a11.25 12 0 1 0 -22.5 0zM1378.8 276a11.25 12 0 1 0 22.5 0a11.25 12 0 1 0 -22.5 0zM1380.2 276a11.25 12 0 1 0 22.5 0a11.25 12 0 1 0 -22.5 0zM1381.6 277a11.25 12 0 1 0 22.5 0a11.25 12 0 1 0 -22.5 0zM1383 277a11.25 12 0 1 0 22.5 0a11.25 12 0 1 0 -22.5 0zM1384.4 277a11.25 12 0 1 0 22.5 0a11.25 12 0 1 0 -22.5 0zM1385.8 277a11.25 12 0 1 0 22.5 0a11.25 12 0 1 0 -22.5 0zM1387.2 277a11.25 12 0 1 0 22.5 0a11.25 12 0 1 0 -22.5 0zM1388.6 277a11.25 12 0 1 0 22.5 0a11.25 12 0 1 0 -22.5 0zM1390 277a11.25 12 0 1 0 22.5 0a11.25 12 0 1 0 -22.5 0zM1391.4 277a11.25 12 0 1 0 22.5 0a11.25 12 0 1 0 -22.5 0zM1392.9 277a11.25 12 0 1 0 22.5 0a11.25 12 0 1 0 -22.5 0zM1394.3 277a11.25 12 0 1 0 22.5 0a11.25 12 0 1 0 -22.5 0zM1395.7 277a11.25 12 0 1 0 22.5 0a11.25 12 0 1 0 -22.5 0zM1397.1 277a11.25 12 0 1 0 22.5 0a11.25 12 0 1 0 -22.5 0zM1398.5 277a11.25 12 0 1 0 22.5 0a11.25 12 0 1 0 -22.5 0zM1399.9 277a11.25 12 0 1 0 22.5 0a11.25 12 0 1 0 -22.5 0zM1401.3 277a11.25 12 0 1 0 22.5 0a11.25 12 0 1 0 -22.5 0zM1402.7 278a11.25 12 0 1 0 22.5 0a11.25 12 0 1 0 -22.5 0zM1404.1 277a11.25 12 0 1 0 22.5 0a11.25 12 0 1 0 -22.5 0zM1405.5 277a11.25 12 0 1 0 22.5 0a11.25 12 0 1 0 -22.5 0zM1406.9 277a11.25 12 0 1 0 22.5 0a11.25 12 0 1 0 -22.5 0zM1408.3 277a11.25 12 0 1 0 22.5 0a11.25 12 0 1 0 -22.5 0zM1409.8 278a11.25 12 0 1 0 22.5 0a11.25 12 0 1 0 -22.5 0zM1411.2 278a11.25 12 0 1 0 22.5 0a11.25 12 0 1 0 -22.5 0zM1412.6 278a11.25 12 0 1 0 22.5 0a11.25 12 0 1 0 -22.5 0zM1414 278a11.25 12 0 1 0 22.5 0a11.25 12 0 1 0 -22.5 0zM1415.4 278a11.25 12 0 1 0 22.5 0a11.25 12 0 1 0 -22.5 0zM1416.8 278a11.25 12 0 1 0 22.5 0a11.25 12 0 1 0 -22.5 0zM1418.2 278a11.25 12 0 1 0 22.5 0a11.25 12 0 1 0 -22.5 0zM1419.6 278a11.25 12 0 1 0 22.5 0a11.25 12 0 1 0 -22.5 0zM1421 278a11.25 12 0 1 0 22.5 0a11.25 12 0 1 0 -22.5 0zM1422.4 278a11.25 12 0 1 0 22.5 0a11.25 12 0 1 0 -22.5 0zM1423.8 278a11.25 12 0 1 0 22.5 0a11.25 12 0 1 0 -22.5 0zM1425.3 278a11.25 12 0 1 0 22.5 0a11.25 12 0 1 0 -22.5 0zM1426.7 278a11.25 12 0 1 0 22.5 0a11.25 12 0 1 0 -22.5 0zM1428.1 278a11.25 12 0 1 0 22.5 0a11.25 12 0 1 0 -22.5 0zM1429.5 278a11.25 12 0 1 0 22.5 0a11.25 12 0 1 0 -22.5 0zM1430.9 278a11.25 12 0 1 0 22.5 0a11.25 12 0 1 0 -22.5 0zM1432.3 279a11.25 12 0 1 0 22.5 0a11.25 12 0 1 0 -22.5 0zM1433.7 279a11.25 12 0 1 0 22.5 0a11.25 12 0 1 0 -22.5 0zM1435.1 279a11.25 12 0 1 0 22.5 0a11.25 12 0 1 0 -22.5 0zM1436.5 279a11.25 12 0 1 0 22.5 0a11.25 12 0 1 0 -22.5 0zM1437.9 279a11.25 12 0 1 0 22.5 0a11.25 12 0 1 0 -22.5 0zM1439.3 279a11.25 12 0 1 0 22.5 0a11.25 12 0 1 0 -22.5 0zM1440.7 279a11.25 12 0 1 0 22.5 0a11.25 12 0 1 0 -22.5 0zM1442.2 280a11.25 12 0 1 0 22.5 0a11.25 12 0 1 0 -22.5 0zM1443.6 279a11.25 12 0 1 0 22.5 0a11.25 12 0 1 0 -22.5 0zM1445 279a11.25 12 0 1 0 22.5 0a11.25 12 0 1 0 -22.5 0zM1446.4 279a11.25 12 0 1 0 22.5 0a11.25 12 0 1 0 -22.5 0zM1447.8 279a11.25 12 0 1 0 22.5 0a11.25 12 0 1 0 -22.5 0zM1449.2 279a11.25 12 0 1 0 22.5 0a11.25 12 0 1 0 -22.5 0zM1450.6 279a11.25 12 0 1 0 22.5 0a11.25 12 0 1 0 -22.5 0zM1452 279a11.25 12 0 1 0 22.5 0a11.25 12 0 1 0 -22.5 0zM1453.4 279a11.25 12 0 1 0 22.5 0a11.25 12 0 1 0 -22.5 0zM1454.8 279a11.25 12 0 1 0 22.5 0a11.25 12 0 1 0 -22.5 0zM1456.2 279a11.25 12 0 1 0 22.5 0a11.25 12 0 1 0 -22.5 0zM1457.7 280a11.25 12 0 1 0 22.5 0a11.25 12 0 1 0 -22.5 0zM1459.1 279a11.25 12 0 1 0 22.5 0a11.25 12 0 1 0 -22.5 0zM1460.5 279a11.25 12 0 1 0 22.5 0a11.25 12 0 1 0 -22.5 0zM1461.9 279a11.25 12 0 1 0 22.5 0a11.25 12 0 1 0 -22.5 0zM1463.3 280a11.25 12 0 1 0 22.5 0a11.25 12 0 1 0 -22.5 0zM1464.7 280a11.25 12 0 1 0 22.5 0a11.25 12 0 1 0 -22.5 0zM1466.1 280a11.25 12 0 1 0 22.5 0a11.25 12 0 1 0 -22.5 0zM1467.5 280a11.25 12 0 1 0 22.5 0a11.25 12 0 1 0 -22.5 0zM1468.9 279a11.25 12 0 1 0 22.5 0a11.25 12 0 1 0 -22.5 0zM1470.3 280a11.25 12 0 1 0 22.5 0a11.25 12 0 1 0 -22.5 0zM1471.7 280a11.25 12 0 1 0 22.5 0a11.25 12 0 1 0 -22.5 0zM1473.1 280a11.25 12 0 1 0 22.5 0a11.25 12 0 1 0 -22.5 0zM1474.6 279a11.25 12 0 1 0 22.5 0a11.25 12 0 1 0 -22.5 0zM1476 280a11.25 12 0 1 0 22.5 0a11.25 12 0 1 0 -22.5 0zM1477.4 280a11.25 12 0 1 0 22.5 0a11.25 12 0 1 0 -22.5 0zM1478.8 280a11.25 12 0 1 0 22.5 0a11.25 12 0 1 0 -22.5 0zM1480.2 280a11.25 12 0 1 0 22.5 0a11.25 12 0 1 0 -22.5 0zM1481.6 280a11.25 12 0 1 0 22.5 0a11.25 12 0 1 0 -22.5 0zM1483 280a11.25 12 0 1 0 22.5 0a11.25 12 0 1 0 -22.5 0zM1484.4 280a11.25 12 0 1 0 22.5 0a11.25 12 0 1 0 -22.5 0zM1485.8 280a11.25 12 0 1 0 22.5 0a11.25 12 0 1 0 -22.5 0zM1487.2 280a11.25 12 0 1 0 22.5 0a11.25 12 0 1 0 -22.5 0zM1488.6 280a11.25 12 0 1 0 22.5 0a11.25 12 0 1 0 -22.5 0zM1490 281a11.25 12 0 1 0 22.5 0a11.25 12 0 1 0 -22.5 0zM1491.5 281a11.25 12 0 1 0 22.5 0a11.25 12 0 1 0 -22.5 0zM1492.9 280a11.25 12 0 1 0 22.5 0a11.25 12 0 1 0 -22.5 0zM1494.3 280a11.25 12 0 1 0 22.5 0a11.25 12 0 1 0 -22.5 0zM1495.7 281a11.25 12 0 1 0 22.5 0a11.25 12 0 1 0 -22.5 0zM1497.1 281a11.25 12 0 1 0 22.5 0a11.25 12 0 1 0 -22.5 0zM1498.5 281a11.25 12 0 1 0 22.5 0a11.25 12 0 1 0 -22.5 0zM1499.9 281a11.25 12 0 1 0 22.5 0a11.25 12 0 1 0 -22.5 0zM1501.3 281a11.25 12 0 1 0 22.5 0a11.25 12 0 1 0 -22.5 0zM1502.7 281a11.25 12 0 1 0 22.5 0a11.25 12 0 1 0 -22.5 0zM1504.1 280a11.25 12 0 1 0 22.5 0a11.25 12 0 1 0 -22.5 0zM1505.5 280a11.25 12 0 1 0 22.5 0a11.25 12 0 1 0 -22.5 0zM1507 281a11.25 12 0 1 0 22.5 0a11.25 12 0 1 0 -22.5 0zM1508.4 281a11.25 12 0 1 0 22.5 0a11.25 12 0 1 0 -22.5 0zM1509.8 281a11.25 12 0 1 0 22.5 0a11.25 12 0 1 0 -22.5 0zM1511.2 282a11.25 12 0 1 0 22.5 0a11.25 12 0 1 0 -22.5 0zM1512.6 281a11.25 12 0 1 0 22.5 0a11.25 12 0 1 0 -22.5 0zM1514 281a11.25 12 0 1 0 22.5 0a11.25 12 0 1 0 -22.5 0zM1515.4 281a11.25 12 0 1 0 22.5 0a11.25 12 0 1 0 -22.5 0zM1516.8 281a11.25 12 0 1 0 22.5 0a11.25 12 0 1 0 -22.5 0zM1518.2 281a11.25 12 0 1 0 22.5 0a11.25 12 0 1 0 -22.5 0zM1519.6 281a11.25 12 0 1 0 22.5 0a11.25 12 0 1 0 -22.5 0zM1521 281a11.25 12 0 1 0 22.5 0a11.25 12 0 1 0 -22.5 0zM1522.4 281a11.25 12 0 1 0 22.5 0a11.25 12 0 1 0 -22.5 0zM1523.9 282a11.25 12 0 1 0 22.5 0a11.25 12 0 1 0 -22.5 0zM1525.3 282a11.25 12 0 1 0 22.5 0a11.25 12 0 1 0 -22.5 0zM1526.7 282a11.25 12 0 1 0 22.5 0a11.25 12 0 1 0 -22.5 0zM1528.1 281a11.25 12 0 1 0 22.5 0a11.25 12 0 1 0 -22.5 0zM1529.5 281a11.25 12 0 1 0 22.5 0a11.25 12 0 1 0 -22.5 0zM1530.9 281a11.25 12 0 1 0 22.5 0a11.25 12 0 1 0 -22.5 0zM1532.3 282a11.25 12 0 1 0 22.5 0a11.25 12 0 1 0 -22.5 0zM1533.7 282a11.25 12 0 1 0 22.5 0a11.25 12 0 1 0 -22.5 0zM1535.1 282a11.25 12 0 1 0 22.5 0a11.25 12 0 1 0 -22.5 0zM1536.5 282a11.25 12 0 1 0 22.5 0a11.25 12 0 1 0 -22.5 0zM1537.9 282a11.25 12 0 1 0 22.5 0a11.25 12 0 1 0 -22.5 0zM1539.3 282a11.25 12 0 1 0 22.5 0a11.25 12 0 1 0 -22.5 0zM1540.8 282a11.25 12 0 1 0 22.5 0a11.25 12 0 1 0 -22.5 0zM1542.2 282a11.25 12 0 1 0 22.5 0a11.25 12 0 1 0 -22.5 0zM1543.6 282a11.25 12 0 1 0 22.5 0a11.25 12 0 1 0 -22.5 0zM1545 282a11.25 12 0 1 0 22.5 0a11.25 12 0 1 0 -22.5 0zM1546.4 282a11.25 12 0 1 0 22.5 0a11.25 12 0 1 0 -22.5 0zM1547.8 282a11.25 12 0 1 0 22.5 0a11.25 12 0 1 0 -22.5 0zM1549.2 282a11.25 12 0 1 0 22.5 0a11.25 12 0 1 0 -22.5 0zM1550.6 282a11.25 12 0 1 0 22.5 0a11.25 12 0 1 0 -22.5 0zM1552 282a11.25 12 0 1 0 22.5 0a11.25 12 0 1 0 -22.5 0zM1553.4 282a11.25 12 0 1 0 22.5 0a11.25 12 0 1 0 -22.5 0zM1554.8 283a11.25 12 0 1 0 22.5 0a11.25 12 0 1 0 -22.5 0zM1556.3 282a11.25 12 0 1 0 22.5 0a11.25 12 0 1 0 -22.5 0zM1557.7 283a11.25 12 0 1 0 22.5 0a11.25 12 0 1 0 -22.5 0zM1559.1 282a11.25 12 0 1 0 22.5 0a11.25 12 0 1 0 -22.5 0zM1560.5 282a11.25 12 0 1 0 22.5 0a11.25 12 0 1 0 -22.5 0zM1561.9 283a11.25 12 0 1 0 22.5 0a11.25 12 0 1 0 -22.5 0zM1563.3 283a11.25 12 0 1 0 22.5 0a11.25 12 0 1 0 -22.5 0zM1564.7 283a11.25 12 0 1 0 22.5 0a11.25 12 0 1 0 -22.5 0zM1566.1 283a11.25 12 0 1 0 22.5 0a11.25 12 0 1 0 -22.5 0zM1567.5 283a11.25 12 0 1 0 22.5 0a11.25 12 0 1 0 -22.5 0zM1568.9 282a11.25 12 0 1 0 22.5 0a11.25 12 0 1 0 -22.5 0zM1570.3 283a11.25 12 0 1 0 22.5 0a11.25 12 0 1 0 -22.5 0zM1571.7 283a11.25 12 0 1 0 22.5 0a11.25 12 0 1 0 -22.5 0zM1573.2 283a11.25 12 0 1 0 22.5 0a11.25 12 0 1 0 -22.5 0zM1574.6 283a11.25 12 0 1 0 22.5 0a11.25 12 0 1 0 -22.5 0zM1576 283a11.25 12 0 1 0 22.5 0a11.25 12 0 1 0 -22.5 0zM1577.4 283a11.25 12 0 1 0 22.5 0a11.25 12 0 1 0 -22.5 0zM1578.8 283a11.25 12 0 1 0 22.5 0a11.25 12 0 1 0 -22.5 0zM1580.2 283a11.25 12 0 1 0 22.5 0a11.25 12 0 1 0 -22.5 0zM1581.6 283a11.25 12 0 1 0 22.5 0a11.25 12 0 1 0 -22.5 0zM1583 283a11.25 12 0 1 0 22.5 0a11.25 12 0 1 0 -22.5 0zM1584.4 283a11.25 12 0 1 0 22.5 0a11.25 12 0 1 0 -22.5 0zM1586.3 283a11.25 12 0 1 0 22.5 0a11.25 12 0 1 0 -22.5 0z" fill="#f00"/>

<polyline points="283.7,1116 285.1,1116 286.4,1115 287.8,1115 289.2,1116 290.6,1115 291.9,1115 293.3,1116 294.7,1115 296.1,1116 297.4,1115 298.8,1116 300.2,1116 301.6,1116 302.9,1115 304.3,1116 305.7,1116 307.1,1116 308.5,1116 309.8,1115 311.2,1115 312.6,1115 314,1115 315.3,1115 316.7,1115 318.1,1115 319.5,1115 320.8,1116 322.2,1115 323.6,1115 325,1115 326.3,1115 327.7,1116 329.1,1116 330.5,1116 331.9,1116 333.2,1115 334.6,1116 336,1116 337.4,1115 338.7,1115 340.1,1115 341.5,1115 342.9,1115 344.2,1116 345.6,1115 347,1115 348.4,1115 349.7,1115 351.1,1116 352.5,1116 353.9,1116 355.3,1116 356.6,1116 358,1116 359.4,1116 360.8,1115 362.1,1116 363.5,1115 364.9,1116 366.3,1116 367.6,1116 369,1115 370.4,1116 371.8,1115 373.1,1116 374.5,1116 375.9,1116 377.3,1115 378.7,1116 380,1115 381.4,1115 382.8,1115 384.2,1115 385.5,1115 386.9,1115 388.3,1115 389.7,1115 391,1115 392.4,1115 393.8,1115 395.2,1116 396.6,1116 397.9,1115 400,954 401.4,780 402.7,697 404.1,644 405.4,604 406.8,570 408.1,543 409.4,521 410.8,504 412.1,488 413.5,473 414.9,457 416.2,444 417.6,434 419,426 420.3,416 421.7,408 423.1,401 424.5,394 425.8,389 427.2,383 428.6,379 429.9,375 431.3,370 432.7,365 434,361 435.4,358 436.8,353 438.2,350 439.5,349 440.9,346 442.3,345 443.6,343 445,342 446.4,341 447.7,339 449.1,337 450.5,335 451.8,332 453.2,331 454.6,329 456,326 457.3,325 458.7,323 460.1,320 461.4,319 462.8,317 464.2,315 465.5,314 466.9,312 468.3,310 469.6,309 471,307 472.4,306 473.8,305 475.1,303 476.5,303 477.9,300 479.2,300 480.6,299 482,298 483.3,296 484.7,296 486.1,294 487.5,294 488.8,293 490.2,291 491.6,291 492.9,290 494.3,289 495.7,289 497,288 498.4,287 499.8,287 501.1,286 502.5,285 503.9,284 505.3,284 506.6,284 508,283 509.4,283 510.7,282 512.1,281 513.5,281 514.8,280 516.2,280 517.6,280 518.9,279 520.3,279 521.7,279 523.1,280 524.4,278 525.8,277 527.2,277 528.5,277 529.9,276 531.3,276 532.6,276 534,276 535.4,276 536.8,275 538.1,275 539.5,275 540.9,274 542.2,274 543.6,274 545,273 546.3,273 547.7,274 549.1,273 550.4,272 551.8,273 553.2,272 554.6,271 555.9,271 557.3,272 558.7,271 560,271 561.4,270 562.8,270 564.1,270 565.5,269 566.9,269 568.3,269 569.6,269 571,268 572.4,268 573.7,268 575.1,268 576.5,268 577.8,267 579.2,268 580.6,267 581.9,267 583.3,267 584.7,266 586.1,267 587.4,266 588.8,265 590.2,265 591.5,265 592.9,265 594.3,265 595.6,264 597,264 598.4,263 599.7,264 601.1,264 602.5,263 603.9,264 605.2,264 606.6,262 608,263 609.3,262 610.7,262 612.1,262 613.4,262 614.8,261 616.2,262 617.6,262 618.9,261 620.3,261 621.7,261 623,261 624.4,261 625.8,261 627.1,260 628.5,260 629.9,260 631.2,260 632.6,260 634,260 635.4,260 636.7,260 638.1,259 639.5,259 640.8,260 642.2,259 643.6,259 644.9,259 646.3,259 647.7,260 649.1,259 650.4,259 651.8,259 653.2,258 654.5,259 655.9,258 657.3,257 658.6,258 660,258 661.4,259 662.7,258 664.1,258 665.5,258 666.9,258 668.2,258 669.6,258 671,258 672.3,258 673.7,258 675.1,257 676.4,257 677.8,257 679.2,257 680.5,257 681.9,257 683.3,258 684.7,256 686,256 687.4,257 688.8,257 690.1,257 691.5,257 692.9,257 694.2,256 695.6,256 697,257 698.4,256 699.7,257 701.1,256 702.5,256 703.8,257 705.2,256 706.6,256 707.9,255 709.3,256 710.7,255 712,256 713.4,256 714.8,256 716.2,256 717.5,256 718.9,255 720.3,256 721.6,255 723,256 724.4,255 725.7,255 727.1,255 728.5,256 729.8,255 731.2,255 732.6,255 734,256 735.3,256 736.7,256 738.1,255 739.4,255 740.8,255 742.2,255 743.5,254 744.9,255 746.3,255 747.7,254 749,254 750.4,255 751.8,255 753.1,255 754.5,255 755.9,255 757.2,254 758.6,254 760,254 761.3,254 762.7,254 764.1,255 765.5,255 766.8,254 768.2,254 769.6,254 770.9,254 772.3,254 773.7,254 775,254 776.4,254 777.8,254 779.2,253 780.5,254 781.9,254 783.3,253 784.6,253 786,254 787.4,253 788.7,253 790.1,253 791.5,254 792.8,252 794.2,253 795.6,253 797,253 798.3,253 799.7,253 801.1,253 802.4,252 803.8,253 805.2,253 806.5,252 807.9,252 809.3,252 810.6,253 812,252 813.4,252 814.8,252 816.1,253 817.5,252 818.9,252 820.2,253 821.6,252 823,252 824.3,252 825.7,252 827.1,252 828.5,252 829.8,251 831.2,252 832.6,252 833.9,251 835.3,252 836.7,252 838,251 839.4,251 840.8,252 842.1,253 843.5,252 844.9,252 846.3,251 847.6,251 849,251 850.4,252 851.7,251 853.1,252 854.5,251 855.8,251 857.2,250 858.6,251 860,251 861.3,251 862.7,251 864.1,252 865.4,251 866.8,251 868.2,250 869.5,251 870.9,251 872.3,251 873.6,251 875,251 876.4,251 877.8,250 879.1,251 880.5,250 881.9,250 883.2,250 884.6,251 886,251 887.3,250 888.7,250 890.1,250 891.4,250 892.8,250 894.2,250 895.6,250 896.9,250 898.3,250 899.7,250 901,250 902.4,250 903.8,250 905.1,250 906.5,249 907.9,250 909.3,250 910.6,249 912,249 913.4,250 914.7,250 916.1,250 917.5,250 918.8,251 920.2,249 921.6,251 922.9,250 924.3,250 925.7,250 927.1,250 928.4,250 929.8,249 931.2,249 932.5,250 933.9,249 935.3,250 936.6,249 938,250 939.4,250 940.7,250 942.1,250 943.5,250 944.9,249 946.2,250 947.6,250 949,249 950.3,250 951.7,250 953.1,249 954.4,251 955.8,250 957.2,249 958.6,250 959.9,248 961.3,251 962.7,249 964,249 965.4,249 966.8,250 968.1,249 969.5,250 970.9,249 972.2,250 973.6,250 975,249 976.4,250 977.7,250 979.1,249 980.5,250 981.8,249 983.2,249 984.6,250 985.9,249 987.3,250 1033.8,326 1035.1,326 1036.5,327 1037.9,327 1039.2,329 1040.6,329 1042,330 1043.3,330 1044.7,331 1046.1,332 1047.5,333 1048.8,333 1050.2,333 1051.6,333 1052.9,334 1054.3,335 1055.7,336 1057,336 1058.4,337 1059.8,337 1061.1,338 1062.5,339 1063.9,339 1065.3,339 1066.6,340 1068,341 1069.4,340 1070.7,342 1072.1,342 1073.5,342 1074.8,343 1076.2,343 1077.6,344 1079,344 1080.3,344 1081.7,344 1083.1,345 1084.4,345 1085.8,346 1087.2,346 1088.5,347 1089.9,346 1091.3,347 1092.6,347 1094,347 1095.4,347 1096.8,348 1098.1,348 1099.5,349 1100.9,348 1102.2,348 1103.6,350 1105,349 1106.3,349 1107.7,349 1109.1,350 1110.4,351 1111.8,351 1113.2,350 1114.6,351 1115.9,352 1117.3,351 1118.7,351 1120,352 1121.4,353 1122.8,352 1124.1,352 1125.5,352 1126.9,352 1128.3,352 1129.6,352 1131,354 1132.4,353 1133.7,353 1135.1,354 1136.5,354 1137.8,354 1139.2,354 1140.6,355 1141.9,355 1143.3,354 1144.7,355 1146.1,356 1147.4,355 1148.8,355 1150.2,355 1151.5,356 1152.9,356 1154.3,357 1155.6,357 1157,357 1158.4,357 1159.7,357 1161.1,357 1162.5,358 1163.9,357 1165.2,358 1166.6,358 1168,359 1169.3,359 1170.7,359 1172.1,360 1173.4,359 1174.8,360 1176.2,360 1177.6,360 1178.9,360 1180.3,361 1181.7,360 1183,360 1184.4,361 1185.8,361 1187.1,361 1188.5,361 1189.9,362 1191.2,362 1192.6,362 1194,362 1195.4,362 1196.7,362 1198.1,363 1199.5,363 1200.8,363 1202.2,364 1203.6,364 1204.9,364 1206.3,364 1207.7,363 1209.1,364 1210.4,365 1211.8,364 1213.2,365 1214.5,365 1215.9,365 1217.3,365 1218.6,365 1220,366 1221.4,366 1222.7,365 1224.1,367 1225.5,366 1226.9,366 1228.2,367 1229.6,367 1231,366 1232.3,367 1233.7,367 1235.1,367 1236.4,368 1237.8,368 1239.2,368 1240.5,368 1241.9,368 1243.3,369 1244.7,369 1246,368 1247.4,369 1248.8,370 1250.1,370 1251.5,369 1252.9,370 1254.2,370 1255.6,371 1257,370 1258.4,370 1259.7,370 1261.1,371 1262.5,370 1263.8,371 1265.2,370 1266.6,371 1267.9,371 1269.3,372 1270.7,373 1272,372 1273.4,372 1274.8,372 1276.2,373 1277.5,372 1278.9,373 1280.3,373 1281.6,374 1283,373 1284.4,374 1285.7,373 1287.1,374 1288.5,375 1289.9,374 1291.2,374 1292.6,374 1294,374 1295.3,374 1296.7,375 1298.1,376 1299.4,376 1300.8,375 1302.2,375 1303.5,376 1304.9,376 1306.3,376 1307.7,376 1309,376 1310.4,377 1311.8,376 1313.1,377 1314.5,377 1315.9,378 1317.2,378 1318.6,377 1320,377 1321.3,378 1322.7,378 1324.1,378 1325.5,379 1326.8,378 1328.2,378 1329.6,377 1330.9,379 1332.3,379 1333.7,379 1335,379 1336.4,380 1337.8,380 1339.2,379 1340.5,379 1341.9,380 1343.3,379 1344.6,380 1346,380 1347.4,380 1348.7,381 1350.1,380 1351.5,380 1352.8,381 1354.2,381 1355.6,381 1357,382 1358.3,382 1359.7,381 1361.1,381 1362.4,381 1363.8,382 1365.2,382 1366.5,382 1367.9,382 1369.3,383 1370.6,383 1372,383 1373.4,383 1374.8,383 1376.1,382 1377.5,383 1378.9,382 1380.2,383 1381.6,383 1383,384 1384.3,384 1385.7,384 1387.1,384 1388.5,383 1389.8,384 1391.2,384 1392.6,384 1393.9,385 1395.3,384 1396.7,385 1398,384 1399.4,385 1400.8,384 1402.1,385 1403.5,385 1404.9,385 1406.3,385 1407.6,385 1409,385 1410.4,386 1411.7,385 1413.1,385 1414.5,386 1415.8,386 1417.2,386 1418.6,387 1420,386 1421.3,386 1422.7,386 1424.1,386 1425.4,386 1426.8,387 1428.2,386 1429.5,387 1430.9,387 1432.3,387 1433.6,387 1435,387 1436.4,387 1437.8,387 1439.1,387 1440.5,387 1441.9,388 1443.2,388 1444.6,387 1446,388 1447.3,388 1448.7,389 1450.1,388 1451.4,389 1452.8,388 1454.2,389 1455.6,390 1456.9,389 1458.3,389 1459.7,389 1461,389 1462.4,389 1463.8,390 1465.1,390 1466.5,390 1467.9,390 1469.3,389 1470.6,389 1472,390 1473.4,390 1474.7,390 1476.1,390 1477.5,390 1478.8,391 1480.2,390 1481.6,390 1482.9,391 1484.3,390 1485.7,391 1487.1,391 1488.4,391 1489.8,390 1491.2,391 1492.5,391 1493.9,391 1495.3,391 1496.6,391 1498,391 1499.4,392 1500.8,391 1502.1,392 1503.5,392 1504.9,392 1506.2,392 1507.6,392 1509,392 1510.3,392 1511.7,392 1513.1,392 1514.4,393 1515.8,392 1517.2,392 1518.6,392 1519.9,393 1521.3,393 1522.7,392 1524,393 1525.4,392 1526.8,393 1528.1,393 1529.5,393 1530.9,393 1532.2,393 1533.6,393 1535,394 1536.4,394 1537.7,394 1539.1,394 1540.5,394 1541.8,393 1543.2,393 1544.6,394 1545.9,394 1547.3,394 1548.7,394 1550.1,393 1551.4,394 1552.8,394 1554.2,394 1555.5,395 1556.9,395 1558.3,395 1559.6,394 1561,394 1562.4,395 1563.7,395 1565.1,394 1566.5,395 1567.9,395 1569.2,395 1570.6,395 1572,395 1573.3,395 1574.7,394 1576.1,396 1577.4,395 1578.8,395 1580.2,395 1581.5,395 1582.9,395 1584.3,395 1585.7,396 1587,395 1588.4,395 1589.8,395 1590.9,396" fill="none" stroke="#00f" stroke-width="7.5" stroke-linejoin="round"/>
<path d="M282.7 1099.3h2l13.0 25h-28zM284.1 1099.3h2l13.0 25h-28zM285.4 1098.3h2l13.0 25h-28zM286.8 1098.3h2l13.0 25h-28zM288.2 1099.3h2l13.0 25h-28zM289.6 1098.3h2l13.0 25h-28zM290.9 1098.3h2l13.0 25h-28zM292.3 1099.3h2l13.0 25h-28zM293.7 1098.3h2l13.0 25h-28zM295.1 1099.3h2l13.0 25h-28zM296.4 1098.3h2l13.0 25h-28zM297.8 1099.3h2l13.0 25h-28zM299.2 1099.3h2l13.0 25h-28zM300.6 1099.3h2l13.0 25h-28zM301.9 1098.3h2l13.0 25h-28zM303.3 1099.3h2l13.0 25h-28zM304.7 1099.3h2l13.0 25h-28zM306.1 1099.3h2l13.0 25h-28zM307.5 1099.3h2l13.0 25h-28zM308.8 1098.3h2l13.0 25h-28zM310.2 1098.3h2l13.0 25h-28zM311.6 1098.3h2l13.0 25h-28zM313 1098.3h2l13.0 25h-28zM314.3 1098.3h2l13.0 25h-28zM315.7 1098.3h2l13.0 25h-28zM317.1 1098.3h2l13.0 25h-28zM318.5 1098.3h2l13.0 25h-28zM319.8 1099.3h2l13.0 25h-28zM321.2 1098.3h2l13.0 25h-28zM322.6 1098.3h2l13.0 25h-28zM324 1098.3h2l13.0 25h-28zM325.3 1098.3h2l13.0 25h-28zM326.7 1099.3h2l13.0 25h-28zM328.1 1099.3h2l13.0 25h-28zM329.5 1099.3h2l13.0 25h-28zM330.9 1099.3h2l13.0 25h-28zM332.2 1098.3h2l13.0 25h-28zM333.6 1099.3h2l13.0 25h-28zM335 1099.3h2l13.0 25h-28zM336.4 1098.3h2l13.0 25h-28zM337.7 1098.3h2l13.0 25h-28zM339.1 1098.3h2l13.0 25h-28zM340.5 1098.3h2l13.0 25h-28zM341.9 1098.3h2l13.0 25h-28zM343.2 1099.3h2l13.0 25h-28zM344.6 1098.3h2l13.0 25h-28zM346 1098.3h2l13.0 25h-28zM347.4 1098.3h2l13.0 25h-28zM348.7 1098.3h2l13.0 25h-28zM350.1 1099.3h2l13.0 25h-28zM351.5 1099.3h2l13.0 25h-28zM352.9 1099.3h2l13.0 25h-28zM354.3 1099.3h2l13.0 25h-28zM355.6 1099.3h2l13.0 25h-28zM357 1099.3h2l13.0 25h-28zM358.4 1099.3h2l13.0 25h-28zM359.8 1098.3h2l13.0 25h-28zM361.1 1099.3h2l13.0 25h-28zM362.5 1098.3h2l13.0 25h-28zM363.9 1099.3h2l13.0 25h-28zM365.3 1099.3h2l13.0 25h-28zM366.6 1099.3h2l13.0 25h-28zM368 1098.3h2l13.0 25h-28zM369.4 1099.3h2l13.0 25h-28zM370.8 1098.3h2l13.0 25h-28zM372.1 1099.3h2l13.0 25h-28zM373.5 1099.3h2l13.0 25h-28zM374.9 1099.3h2l13.0 25h-28zM376.3 1098.3h2l13.0 25h-28zM377.7 1099.3h2l13.0 25h-28zM379 1098.3h2l13.0 25h-28zM380.4 1098.3h2l13.0 25h-28zM381.8 1098.3h2l13.0 25h-28zM383.2 1098.3h2l13.0 25h-28zM384.5 1098.3h2l13.0 25h-28zM385.9 1098.3h2l13.0 25h-28zM387.3 1098.3h2l13.0 25h-28zM388.7 1098.3h2l13.0 25h-28zM390 1098.3h2l13.0 25h-28zM391.4 1098.3h2l13.0 25h-28zM392.8 1098.3h2l13.0 25h-28zM394.2 1099.3h2l13.0 25h-28zM395.6 1099.3h2l13.0 25h-28zM396.9 1098.3h2l13.0 25h-28zM399 937.3h2l13.0 25h-28zM400.4 763.3h2l13.0 25h-28zM401.7 680.3h2l13.0 25h-28zM403.1 627.3h2l13.0 25h-28zM404.4 587.3h2l13.0 25h-28zM405.8 553.3h2l13.0 25h-28zM407.1 526.3h2l13.0 25h-28zM408.4 504.3h2l13.0 25h-28zM409.8 487.3h2l13.0 25h-28zM411.1 471.3h2l13.0 25h-28zM412.5 456.3h2l13.0 25h-28zM413.9 440.3h2l13.0 25h-28zM415.2 427.3h2l13.0 25h-28zM416.6 417.3h2l13.0 25h-28zM418 409.3h2l13.0 25h-28zM419.3 399.3h2l13.0 25h-28zM420.7 391.3h2l13.0 25h-28zM422.1 384.3h2l13.0 25h-28zM423.5 377.3h2l13.0 25h-28zM424.8 372.3h2l13.0 25h-28zM426.2 366.3h2l13.0 25h-28zM427.6 362.3h2l13.0 25h-28zM428.9 358.3h2l13.0 25h-28zM430.3 353.3h2l13.0 25h-28zM431.7 348.3h2l13.0 25h-28zM433 344.3h2l13.0 25h-28zM434.4 341.3h2l13.0 25h-28zM435.8 336.3h2l13.0 25h-28zM437.2 333.3h2l13.0 25h-28zM438.5 332.3h2l13.0 25h-28zM439.9 329.3h2l13.0 25h-28zM441.3 328.3h2l13.0 25h-28zM442.6 326.3h2l13.0 25h-28zM444 325.3h2l13.0 25h-28zM445.4 324.3h2l13.0 25h-28zM446.7 322.3h2l13.0 25h-28zM448.1 320.3h2l13.0 25h-28zM449.5 318.3h2l13.0 25h-28zM450.8 315.3h2l13.0 25h-28zM452.2 314.3h2l13.0 25h-28zM453.6 312.3h2l13.0 25h-28zM455 309.3h2l13.0 25h-28zM456.3 308.3h2l13.0 25h-28zM457.7 306.3h2l13.0 25h-28zM459.1 303.3h2l13.0 25h-28zM460.4 302.3h2l13.0 25h-28zM461.8 300.3h2l13.0 25h-28zM463.2 298.3h2l13.0 25h-28zM464.5 297.3h2l13.0 25h-28zM465.9 295.3h2l13.0 25h-28zM467.3 293.3h2l13.0 25h-28zM468.6 292.3h2l13.0 25h-28zM470 290.3h2l13.0 25h-28zM471.4 289.3h2l13.0 25h-28zM472.8 288.3h2l13.0 25h-28zM474.1 286.3h2l13.0 25h-28zM475.5 286.3h2l13.0 25h-28zM476.9 283.3h2l13.0 25h-28zM478.2 283.3h2l13.0 25h-28zM479.6 282.3h2l13.0 25h-28zM481 281.3h2l13.0 25h-28zM482.3 279.3h2l13.0 25h-28zM483.7 279.3h2l13.0 25h-28zM485.1 277.3h2l13.0 25h-28zM486.5 277.3h2l13.0 25h-28zM487.8 276.3h2l13.0 25h-28zM489.2 274.3h2l13.0 25h-28zM490.6 274.3h2l13.0 25h-28zM491.9 273.3h2l13.0 25h-28zM493.3 272.3h2l13.0 25h-28zM494.7 272.3h2l13.0 25h-28zM496 271.3h2l13.0 25h-28zM497.4 270.3h2l13.0 25h-28zM498.8 270.3h2l13.0 25h-28zM500.1 269.3h2l13.0 25h-28zM501.5 268.3h2l13.0 25h-28zM502.9 267.3h2l13.0 25h-28zM504.3 267.3h2l13.0 25h-28zM505.6 267.3h2l13.0 25h-28zM507 266.3h2l13.0 25h-28zM508.4 266.3h2l13.0 25h-28zM509.7 265.3h2l13.0 25h-28zM511.1 264.3h2l13.0 25h-28zM512.5 264.3h2l13.0 25h-28zM513.8 263.3h2l13.0 25h-28zM515.2 263.3h2l13.0 25h-28zM516.6 263.3h2l13.0 25h-28zM517.9 262.3h2l13.0 25h-28zM519.3 262.3h2l13.0 25h-28zM520.7 262.3h2l13.0 25h-28zM522.1 263.3h2l13.0 25h-28zM523.4 261.3h2l13.0 25h-28zM524.8 260.3h2l13.0 25h-28zM526.2 260.3h2l13.0 25h-28zM527.5 260.3h2l13.0 25h-28zM528.9 259.3h2l13.0 25h-28zM530.3 259.3h2l13.0 25h-28zM531.6 259.3h2l13.0 25h-28zM533 259.3h2l13.0 25h-28zM534.4 259.3h2l13.0 25h-28zM535.8 258.3h2l13.0 25h-28zM537.1 258.3h2l13.0 25h-28zM538.5 258.3h2l13.0 25h-28zM539.9 257.3h2l13.0 25h-28zM541.2 257.3h2l13.0 25h-28zM542.6 257.3h2l13.0 25h-28zM544 256.3h2l13.0 25h-28zM545.3 256.3h2l13.0 25h-28zM546.7 257.3h2l13.0 25h-28zM548.1 256.3h2l13.0 25h-28zM549.4 255.3h2l13.0 25h-28zM550.8 256.3h2l13.0 25h-28zM552.2 255.3h2l13.0 25h-28zM553.6 254.3h2l13.0 25h-28zM554.9 254.3h2l13.0 25h-28zM556.3 255.3h2l13.0 25h-28zM557.7 254.3h2l13.0 25h-28zM559 254.3h2l13.0 25h-28zM560.4 253.3h2l13.0 25h-28zM561.8 253.3h2l13.0 25h-28zM563.1 253.3h2l13.0 25h-28zM564.5 252.3h2l13.0 25h-28zM565.9 252.3h2l13.0 25h-28zM567.3 252.3h2l13.0 25h-28zM568.6 252.3h2l13.0 25h-28zM570 251.3h2l13.0 25h-28zM571.4 251.3h2l13.0 25h-28zM572.7 251.3h2l13.0 25h-28zM574.1 251.3h2l13.0 25h-28zM575.5 251.3h2l13.0 25h-28zM576.8 250.3h2l13.0 25h-28zM578.2 251.3h2l13.0 25h-28zM579.6 250.3h2l13.0 25h-28zM580.9 250.3h2l13.0 25h-28zM582.3 250.3h2l13.0 25h-28zM583.7 249.3h2l13.0 25h-28zM585.1 250.3h2l13.0 25h-28zM586.4 249.3h2l13.0 25h-28zM587.8 248.3h2l13.0 25h-28zM589.2 248.3h2l13.0 25h-28zM590.5 248.3h2l13.0 25h-28zM591.9 248.3h2l13.0 25h-28zM593.3 248.3h2l13.0 25h-28zM594.6 247.3h2l13.0 25h-28zM596 247.3h2l13.0 25h-28zM597.4 246.3h2l13.0 25h-28zM598.7 247.3h2l13.0 25h-28zM600.1 247.3h2l13.0 25h-28zM601.5 246.3h2l13.0 25h-28zM602.9 247.3h2l13.0 25h-28zM604.2 247.3h2l13.0 25h-28zM605.6 245.3h2l13.0 25h-28zM607 246.3h2l13.0 25h-28zM608.3 245.3h2l13.0 25h-28zM609.7 245.3h2l13.0 25h-28zM611.1 245.3h2l13.0 25h-28zM612.4 245.3h2l13.0 25h-28zM613.8 244.3h2l13.0 25h-28zM615.2 245.3h2l13.0 25h-28zM616.6 245.3h2l13.0 25h-28zM617.9 244.3h2l13.0 25h-28zM619.3 244.3h2l13.0 25h-28zM620.7 244.3h2l13.0 25h-28zM622 244.3h2l13.0 25h-28zM623.4 244.3h2l13.0 25h-28zM624.8 244.3h2l13.0 25h-28zM626.1 243.3h2l13.0 25h-28zM627.5 243.3h2l13.0 25h-28zM628.9 243.3h2l13.0 25h-28zM630.2 243.3h2l13.0 25h-28zM631.6 243.3h2l13.0 25h-28zM633 243.3h2l13.0 25h-28zM634.4 243.3h2l13.0 25h-28zM635.7 243.3h2l13.0 25h-28zM637.1 242.3h2l13.0 25h-28zM638.5 242.3h2l13.0 25h-28zM639.8 243.3h2l13.0 25h-28zM641.2 242.3h2l13.0 25h-28zM642.6 242.3h2l13.0 25h-28zM643.9 242.3h2l13.0 25h-28zM645.3 242.3h2l13.0 25h-28zM646.7 243.3h2l13.0 25h-28zM648.1 242.3h2l13.0 25h-28zM649.4 242.3h2l13.0 25h-28zM650.8 242.3h2l13.0 25h-28zM652.2 241.3h2l13.0 25h-28zM653.5 242.3h2l13.0 25h-28zM654.9 241.3h2l13.0 25h-28zM656.3 240.3h2l13.0 25h-28zM657.6 241.3h2l13.0 25h-28zM659 241.3h2l13.0 25h-28zM660.4 242.3h2l13.0 25h-28zM661.7 241.3h2l13.0 25h-28zM663.1 241.3h2l13.0 25h-28zM664.5 241.3h2l13.0 25h-28zM665.9 241.3h2l13.0 25h-28zM667.2 241.3h2l13.0 25h-28zM668.6 241.3h2l13.0 25h-28zM670 241.3h2l13.0 25h-28zM671.3 241.3h2l13.0 25h-28zM672.7 241.3h2l13.0 25h-28zM674.1 240.3h2l13.0 25h-28zM675.4 240.3h2l13.0 25h-28zM676.8 240.3h2l13.0 25h-28zM678.2 240.3h2l13.0 25h-28zM679.5 240.3h2l13.0 25h-28zM680.9 240.3h2l13.0 25h-28zM682.3 241.3h2l13.0 25h-28zM683.7 239.3h2l13.0 25h-28zM685 239.3h2l13.0 25h-28zM686.4 240.3h2l13.0 25h-28zM687.8 240.3h2l13.0 25h-28zM689.1 240.3h2l13.0 25h-28zM690.5 240.3h2l13.0 25h-28zM691.9 240.3h2l13.0 25h-28zM693.2 239.3h2l13.0 25h-28zM694.6 239.3h2l13.0 25h-28zM696 240.3h2l13.0 25h-28zM697.4 239.3h2l13.0 25h-28zM698.7 240.3h2l13.0 25h-28zM700.1 239.3h2l13.0 25h-28zM701.5 239.3h2l13.0 25h-28zM702.8 240.3h2l13.0 25h-28zM704.2 239.3h2l13.0 25h-28zM705.6 239.3h2l13.0 25h-28zM706.9 238.3h2l13.0 25h-28zM708.3 239.3h2l13.0 25h-28zM709.7 238.3h2l13.0 25h-28zM711 239.3h2l13.0 25h-28zM712.4 239.3h2l13.0 25h-28zM713.8 239.3h2l13.0 25h-28zM715.2 239.3h2l13.0 25h-28zM716.5 239.3h2l13.0 25h-28zM717.9 238.3h2l13.0 25h-28zM719.3 239.3h2l13.0 25h-28zM720.6 238.3h2l13.0 25h-28zM722 239.3h2l13.0 25h-28zM723.4 238.3h2l13.0 25h-28zM724.7 238.3h2l13.0 25h-28zM726.1 238.3h2l13.0 25h-28zM727.5 239.3h2l13.0 25h-28zM728.8 238.3h2l13.0 25h-28zM730.2 238.3h2l13.0 25h-28zM731.6 238.3h2l13.0 25h-28zM733 239.3h2l13.0 25h-28zM734.3 239.3h2l13.0 25h-28zM735.7 239.3h2l13.0 25h-28zM737.1 238.3h2l13.0 25h-28zM738.4 238.3h2l13.0 25h-28zM739.8 238.3h2l13.0 25h-28zM741.2 238.3h2l13.0 25h-28zM742.5 237.3h2l13.0 25h-28zM743.9 238.3h2l13.0 25h-28zM745.3 238.3h2l13.0 25h-28zM746.7 237.3h2l13.0 25h-28zM748 237.3h2l13.0 25h-28zM749.4 238.3h2l13.0 25h-28zM750.8 238.3h2l13.0 25h-28zM752.1 238.3h2l13.0 25h-28zM753.5 238.3h2l13.0 25h-28zM754.9 238.3h2l13.0 25h-28zM756.2 237.3h2l13.0 25h-28zM757.6 237.3h2l13.0 25h-28zM759 237.3h2l13.0 25h-28zM760.3 237.3h2l13.0 25h-28zM761.7 237.3h2l13.0 25h-28zM763.1 238.3h2l13.0 25h-28zM764.5 238.3h2l13.0 25h-28zM765.8 237.3h2l13.0 25h-28zM767.2 237.3h2l13.0 25h-28zM768.6 237.3h2l13.0 25h-28zM769.9 237.3h2l13.0 25h-28zM771.3 237.3h2l13.0 25h-28zM772.7 237.3h2l13.0 25h-28zM774 237.3h2l13.0 25h-28zM775.4 237.3h2l13.0 25h-28zM776.8 237.3h2l13.0 25h-28zM778.2 236.3h2l13.0 25h-28zM779.5 237.3h2l13.0 25h-28zM780.9 237.3h2l13.0 25h-28zM782.3 236.3h2l13.0 25h-28zM783.6 236.3h2l13.0 25h-28zM785 237.3h2l13.0 25h-28zM786.4 236.3h2l13.0 25h-28zM787.7 236.3h2l13.0 25h-28zM789.1 236.3h2l13.0 25h-28zM790.5 237.3h2l13.0 25h-28zM791.8 235.3h2l13.0 25h-28zM793.2 236.3h2l13.0 25h-28zM794.6 236.3h2l13.0 25h-28zM796 236.3h2l13.0 25h-28zM797.3 236.3h2l13.0 25h-28zM798.7 236.3h2l13.0 25h-28zM800.1 236.3h2l13.0 25h-28zM801.4 235.3h2l13.0 25h-28zM802.8 236.3h2l13.0 25h-28zM804.2 236.3h2l13.0 25h-28zM805.5 235.3h2l13.0 25h-28zM806.9 235.3h2l13.0 25h-28zM808.3 235.3h2l13.0 25h-28zM809.6 236.3h2l13.0 25h-28zM811 235.3h2l13.0 25h-28zM812.4 235.3h2l13.0 25h-28zM813.8 235.3h2l13.0 25h-28zM815.1 236.3h2l13.0 25h-28zM816.5 235.3h2l13.0 25h-28zM817.9 235.3h2l13.0 25h-28zM819.2 236.3h2l13.0 25h-28zM820.6 235.3h2l13.0 25h-28zM822 235.3h2l13.0 25h-28zM823.3 235.3h2l13.0 25h-28zM824.7 235.3h2l13.0 25h-28zM826.1 235.3h2l13.0 25h-28zM827.5 235.3h2l13.0 25h-28zM828.8 234.3h2l13.0 25h-28zM830.2 235.3h2l13.0 25h-28zM831.6 235.3h2l13.0 25h-28zM832.9 234.3h2l13.0 25h-28zM834.3 235.3h2l13.0 25h-28zM835.7 235.3h2l13.0 25h-28zM837 234.3h2l13.0 25h-28zM838.4 234.3h2l13.0 25h-28zM839.8 235.3h2l13.0 25h-28zM841.1 236.3h2l13.0 25h-28zM842.5 235.3h2l13.0 25h-28zM843.9 235.3h2l13.0 25h-28zM845.3 234.3h2l13.0 25h-28zM846.6 234.3h2l13.0 25h-28zM848 234.3h2l13.0 25h-28zM849.4 235.3h2l13.0 25h-28zM850.7 234.3h2l13.0 25h-28zM852.1 235.3h2l13.0 25h-28zM853.5 234.3h2l13.0 25h-28zM854.8 234.3h2l13.0 25h-28zM856.2 233.3h2l13.0 25h-28zM857.6 234.3h2l13.0 25h-28zM859 234.3h2l13.0 25h-28zM860.3 234.3h2l13.0 25h-28zM861.7 234.3h2l13.0 25h-28zM863.1 235.3h2l13.0 25h-28zM864.4 234.3h2l13.0 25h-28zM865.8 234.3h2l13.0 25h-28zM867.2 233.3h2l13.0 25h-28zM868.5 234.3h2l13.0 25h-28zM869.9 234.3h2l13.0 25h-28zM871.3 234.3h2l13.0 25h-28zM872.6 234.3h2l13.0 25h-28zM874 234.3h2l13.0 25h-28zM875.4 234.3h2l13.0 25h-28zM876.8 233.3h2l13.0 25h-28zM878.1 234.3h2l13.0 25h-28zM879.5 233.3h2l13.0 25h-28zM880.9 233.3h2l13.0 25h-28zM882.2 233.3h2l13.0 25h-28zM883.6 234.3h2l13.0 25h-28zM885 234.3h2l13.0 25h-28zM886.3 233.3h2l13.0 25h-28zM887.7 233.3h2l13.0 25h-28zM889.1 233.3h2l13.0 25h-28zM890.4 233.3h2l13.0 25h-28zM891.8 233.3h2l13.0 25h-28zM893.2 233.3h2l13.0 25h-28zM894.6 233.3h2l13.0 25h-28zM895.9 233.3h2l13.0 25h-28zM897.3 233.3h2l13.0 25h-28zM898.7 233.3h2l13.0 25h-28zM900 233.3h2l13.0 25h-28zM901.4 233.3h2l13.0 25h-28zM902.8 233.3h2l13.0 25h-28zM904.1 233.3h2l13.0 25h-28zM905.5 232.3h2l13.0 25h-28zM906.9 233.3h2l13.0 25h-28zM908.3 233.3h2l13.0 25h-28zM909.6 232.3h2l13.0 25h-28zM911 232.3h2l13.0 25h-28zM912.4 233.3h2l13.0 25h-28zM913.7 233.3h2l13.0 25h-28zM915.1 233.3h2l13.0 25h-28zM916.5 233.3h2l13.0 25h-28zM917.8 234.3h2l13.0 25h-28zM919.2 232.3h2l13.0 25h-28zM920.6 234.3h2l13.0 25h-28zM921.9 233.3h2l13.0 25h-28zM923.3 233.3h2l13.0 25h-28zM924.7 233.3h2l13.0 25h-28zM926.1 233.3h2l13.0 25h-28zM927.4 233.3h2l13.0 25h-28zM928.8 232.3h2l13.0 25h-28zM930.2 232.3h2l13.0 25h-28zM931.5 233.3h2l13.0 25h-28zM932.9 232.3h2l13.0 25h-28zM934.3 233.3h2l13.0 25h-28zM935.6 232.3h2l13.0 25h-28zM937 233.3h2l13.0 25h-28zM938.4 233.3h2l13.0 25h-28zM939.7 233.3h2l13.0 25h-28zM941.1 233.3h2l13.0 25h-28zM942.5 233.3h2l13.0 25h-28zM943.9 232.3h2l13.0 25h-28zM945.2 233.3h2l13.0 25h-28zM946.6 233.3h2l13.0 25h-28zM948 232.3h2l13.0 25h-28zM949.3 233.3h2l13.0 25h-28zM950.7 233.3h2l13.0 25h-28zM952.1 232.3h2l13.0 25h-28zM953.4 234.3h2l13.0 25h-28zM954.8 233.3h2l13.0 25h-28zM956.2 232.3h2l13.0 25h-28zM957.6 233.3h2l13.0 25h-28zM958.9 231.3h2l13.0 25h-28zM960.3 234.3h2l13.0 25h-28zM961.7 232.3h2l13.0 25h-28zM963 232.3h2l13.0 25h-28zM964.4 232.3h2l13.0 25h-28zM965.8 233.3h2l13.0 25h-28zM967.1 232.3h2l13.0 25h-28zM968.5 233.3h2l13.0 25h-28zM969.9 232.3h2l13.0 25h-28zM971.2 233.3h2l13.0 25h-28zM972.6 233.3h2l13.0 25h-28zM974 232.3h2l13.0 25h-28zM975.4 233.3h2l13.0 25h-28zM976.7 233.3h2l13.0 25h-28zM978.1 232.3h2l13.0 25h-28zM979.5 233.3h2l13.0 25h-28zM980.8 232.3h2l13.0 25h-28zM982.2 232.3h2l13.0 25h-28zM983.6 233.3h2l13.0 25h-28zM984.9 232.3h2l13.0 25h-28zM986.3 233.3h2l13.0 25h-28zM1032.8 309.3h2l13.0 25h-28zM1034.1 309.3h2l13.0 25h-28zM1035.5 310.3h2l13.0 25h-28zM1036.9 310.3h2l13.0 25h-28zM1038.2 312.3h2l13.0 25h-28zM1039.6 312.3h2l13.0 25h-28zM1041 313.3h2l13.0 25h-28zM1042.3 313.3h2l13.0 25h-28zM1043.7 314.3h2l13.0 25h-28zM1045.1 315.3h2l13.0 25h-28zM1046.5 316.3h2l13.0 25h-28zM1047.8 316.3h2l13.0 25h-28zM1049.2 316.3h2l13.0 25h-28zM1050.6 316.3h2l13.0 25h-28zM1051.9 317.3h2l13.0 25h-28zM1053.3 318.3h2l13.0 25h-28zM1054.7 319.3h2l13.0 25h-28zM1056 319.3h2l13.0 25h-28zM1057.4 320.3h2l13.0 25h-28zM1058.8 320.3h2l13.0 25h-28zM1060.1 321.3h2l13.0 25h-28zM1061.5 322.3h2l13.0 25h-28zM1062.9 322.3h2l13.0 25h-28zM1064.3 322.3h2l13.0 25h-28zM1065.6 323.3h2l13.0 25h-28zM1067 324.3h2l13.0 25h-28zM1068.4 323.3h2l13.0 25h-28zM1069.7 325.3h2l13.0 25h-28zM1071.1 325.3h2l13.0 25h-28zM1072.5 325.3h2l13.0 25h-28zM1073.8 326.3h2l13.0 25h-28zM1075.2 326.3h2l13.0 25h-28zM1076.6 327.3h2l13.0 25h-28zM1078 327.3h2l13.0 25h-28zM1079.3 327.3h2l13.0 25h-28zM1080.7 327.3h2l13.0 25h-28zM1082.1 328.3h2l13.0 25h-28zM1083.4 328.3h2l13.0 25h-28zM1084.8 329.3h2l13.0 25h-28zM1086.2 329.3h2l13.0 25h-28zM1087.5 330.3h2l13.0 25h-28zM1088.9 329.3h2l13.0 25h-28zM1090.3 330.3h2l13.0 25h-28zM1091.6 330.3h2l13.0 25h-28zM1093 330.3h2l13.0 25h-28zM1094.4 330.3h2l13.0 25h-28zM1095.8 331.3h2l13.0 25h-28zM1097.1 331.3h2l13.0 25h-28zM1098.5 332.3h2l13.0 25h-28zM1099.9 331.3h2l13.0 25h-28zM1101.2 331.3h2l13.0 25h-28zM1102.6 333.3h2l13.0 25h-28zM1104 332.3h2l13.0 25h-28zM1105.3 332.3h2l13.0 25h-28zM1106.7 332.3h2l13.0 25h-28zM1108.1 333.3h2l13.0 25h-28zM1109.4 334.3h2l13.0 25h-28zM1110.8 334.3h2l13.0 25h-28zM1112.2 333.3h2l13.0 25h-28zM1113.6 334.3h2l13.0 25h-28zM1114.9 335.3h2l13.0 25h-28zM1116.3 334.3h2l13.0 25h-28zM1117.7 334.3h2l13.0 25h-28zM1119 335.3h2l13.0 25h-28zM1120.4 336.3h2l13.0 25h-28zM1121.8 335.3h2l13.0 25h-28zM1123.1 335.3h2l13.0 25h-28zM1124.5 335.3h2l13.0 25h-28zM1125.9 335.3h2l13.0 25h-28zM1127.3 335.3h2l13.0 25h-28zM1128.6 335.3h2l13.0 25h-28zM1130 337.3h2l13.0 25h-28zM1131.4 336.3h2l13.0 25h-28zM1132.7 336.3h2l13.0 25h-28zM1134.1 337.3h2l13.0 25h-28zM1135.5 337.3h2l13.0 25h-28zM1136.8 337.3h2l13.0 25h-28zM1138.2 337.3h2l13.0 25h-28zM1139.6 338.3h2l13.0 25h-28zM1140.9 338.3h2l13.0 25h-28zM1142.3 337.3h2l13.0 25h-28zM1143.7 338.3h2l13.0 25h-28zM1145.1 339.3h2l13.0 25h-28zM1146.4 338.3h2l13.0 25h-28zM1147.8 338.3h2l13.0 25h-28zM1149.2 338.3h2l13.0 25h-28zM1150.5 339.3h2l13.0 25h-28zM1151.9 339.3h2l13.0 25h-28zM1153.3 340.3h2l13.0 25h-28zM1154.6 340.3h2l13.0 25h-28zM1156 340.3h2l13.0 25h-28zM1157.4 340.3h2l13.0 25h-28zM1158.7 340.3h2l13.0 25h-28zM1160.1 340.3h2l13.0 25h-28zM1161.5 341.3h2l13.0 25h-28zM1162.9 340.3h2l13.0 25h-28zM1164.2 341.3h2l13.0 25h-28zM1165.6 341.3h2l13.0 25h-28zM1167 342.3h2l13.0 25h-28zM1168.3 342.3h2l13.0 25h-28zM1169.7 342.3h2l13.0 25h-28zM1171.1 343.3h2l13.0 25h-28zM1172.4 342.3h2l13.0 25h-28zM1173.8 343.3h2l13.0 25h-28zM1175.2 343.3h2l13.0 25h-28zM1176.6 343.3h2l13.0 25h-28zM1177.9 343.3h2l13.0 25h-28zM1179.3 344.3h2l13.0 25h-28zM1180.7 343.3h2l13.0 25h-28zM1182 343.3h2l13.0 25h-28zM1183.4 344.3h2l13.0 25h-28zM1184.8 344.3h2l13.0 25h-28zM1186.1 344.3h2l13.0 25h-28zM1187.5 344.3h2l13.0 25h-28zM1188.9 345.3h2l13.0 25h-28zM1190.2 345.3h2l13.0 25h-28zM1191.6 345.3h2l13.0 25h-28zM1193 345.3h2l13.0 25h-28zM1194.4 345.3h2l13.0 25h-28zM1195.7 345.3h2l13.0 25h-28zM1197.1 346.3h2l13.0 25h-28zM1198.5 346.3h2l13.0 25h-28zM1199.8 346.3h2l13.0 25h-28zM1201.2 347.3h2l13.0 25h-28zM1202.6 347.3h2l13.0 25h-28zM1203.9 347.3h2l13.0 25h-28zM1205.3 347.3h2l13.0 25h-28zM1206.7 346.3h2l13.0 25h-28zM1208.1 347.3h2l13.0 25h-28zM1209.4 348.3h2l13.0 25h-28zM1210.8 347.3h2l13.0 25h-28zM1212.2 348.3h2l13.0 25h-28zM1213.5 348.3h2l13.0 25h-28zM1214.9 348.3h2l13.0 25h-28zM1216.3 348.3h2l13.0 25h-28zM1217.6 348.3h2l13.0 25h-28zM1219 349.3h2l13.0 25h-28zM1220.4 349.3h2l13.0 25h-28zM1221.7 348.3h2l13.0 25h-28zM1223.1 350.3h2l13.0 25h-28zM1224.5 349.3h2l13.0 25h-28zM1225.9 349.3h2l13.0 25h-28zM1227.2 350.3h2l13.0 25h-28zM1228.6 350.3h2l13.0 25h-28zM1230 349.3h2l13.0 25h-28zM1231.3 350.3h2l13.0 25h-28zM1232.7 350.3h2l13.0 25h-28zM1234.1 350.3h2l13.0 25h-28zM1235.4 351.3h2l13.0 25h-28zM1236.8 351.3h2l13.0 25h-28zM1238.2 351.3h2l13.0 25h-28zM1239.5 351.3h2l13.0 25h-28zM1240.9 351.3h2l13.0 25h-28zM1242.3 352.3h2l13.0 25h-28zM1243.7 352.3h2l13.0 25h-28zM1245 351.3h2l13.0 25h-28zM1246.4 352.3h2l13.0 25h-28zM1247.8 353.3h2l13.0 25h-28zM1249.1 353.3h2l13.0 25h-28zM1250.5 352.3h2l13.0 25h-28zM1251.9 353.3h2l13.0 25h-28zM1253.2 353.3h2l13.0 25h-28zM1254.6 354.3h2l13.0 25h-28zM1256 353.3h2l13.0 25h-28zM1257.4 353.3h2l13.0 25h-28zM1258.7 353.3h2l13.0 25h-28zM1260.1 354.3h2l13.0 25h-28zM1261.5 353.3h2l13.0 25h-28zM1262.8 354.3h2l13.0 25h-28zM1264.2 353.3h2l13.0 25h-28zM1265.6 354.3h2l13.0 25h-28zM1266.9 354.3h2l13.0 25h-28zM1268.3 355.3h2l13.0 25h-28zM1269.7 356.3h2l13.0 25h-28zM1271 355.3h2l13.0 25h-28zM1272.4 355.3h2l13.0 25h-28zM1273.8 355.3h2l13.0 25h-28zM1275.2 356.3h2l13.0 25h-28zM1276.5 355.3h2l13.0 25h-28zM1277.9 356.3h2l13.0 25h-28zM1279.3 356.3h2l13.0 25h-28zM1280.6 357.3h2l13.0 25h-28zM1282 356.3h2l13.0 25h-28zM1283.4 357.3h2l13.0 25h-28zM1284.7 356.3h2l13.0 25h-28zM1286.1 357.3h2l13.0 25h-28zM1287.5 358.3h2l13.0 25h-28zM1288.9 357.3h2l13.0 25h-28zM1290.2 357.3h2l13.0 25h-28zM1291.6 357.3h2l13.0 25h-28zM1293 357.3h2l13.0 25h-28zM1294.3 357.3h2l13.0 25h-28zM1295.7 358.3h2l13.0 25h-28zM1297.1 359.3h2l13.0 25h-28zM1298.4 359.3h2l13.0 25h-28zM1299.8 358.3h2l13.0 25h-28zM1301.2 358.3h2l13.0 25h-28zM1302.5 359.3h2l13.0 25h-28zM1303.9 359.3h2l13.0 25h-28zM1305.3 359.3h2l13.0 25h-28zM1306.7 359.3h2l13.0 25h-28zM1308 359.3h2l13.0 25h-28zM1309.4 360.3h2l13.0 25h-28zM1310.8 359.3h2l13.0 25h-28zM1312.1 360.3h2l13.0 25h-28zM1313.5 360.3h2l13.0 25h-28zM1314.9 361.3h2l13.0 25h-28zM1316.2 361.3h2l13.0 25h-28zM1317.6 360.3h2l13.0 25h-28zM1319 360.3h2l13.0 25h-28zM1320.3 361.3h2l13.0 25h-28zM1321.7 361.3h2l13.0 25h-28zM1323.1 361.3h2l13.0 25h-28zM1324.5 362.3h2l13.0 25h-28zM1325.8 361.3h2l13.0 25h-28zM1327.2 361.3h2l13.0 25h-28zM1328.6 360.3h2l13.0 25h-28zM1329.9 362.3h2l13.0 25h-28zM1331.3 362.3h2l13.0 25h-28zM1332.7 362.3h2l13.0 25h-28zM1334 362.3h2l13.0 25h-28zM1335.4 363.3h2l13.0 25h-28zM1336.8 363.3h2l13.0 25h-28zM1338.2 362.3h2l13.0 25h-28zM1339.5 362.3h2l13.0 25h-28zM1340.9 363.3h2l13.0 25h-28zM1342.3 362.3h2l13.0 25h-28zM1343.6 363.3h2l13.0 25h-28zM1345 363.3h2l13.0 25h-28zM1346.4 363.3h2l13.0 25h-28zM1347.7 364.3h2l13.0 25h-28zM1349.1 363.3h2l13.0 25h-28zM1350.5 363.3h2l13.0 25h-28zM1351.8 364.3h2l13.0 25h-28zM1353.2 364.3h2l13.0 25h-28zM1354.6 364.3h2l13.0 25h-28zM1356 365.3h2l13.0 25h-28zM1357.3 365.3h2l13.0 25h-28zM1358.7 364.3h2l13.0 25h-28zM1360.1 364.3h2l13.0 25h-28zM1361.4 364.3h2l13.0 25h-28zM1362.8 365.3h2l13.0 25h-28zM1364.2 365.3h2l13.0 25h-28zM1365.5 365.3h2l13.0 25h-28zM1366.9 365.3h2l13.0 25h-28zM1368.3 366.3h2l13.0 25h-28zM1369.6 366.3h2l13.0 25h-28zM1371 366.3h2l13.0 25h-28zM1372.4 366.3h2l13.0 25h-28zM1373.8 366.3h2l13.0 25h-28zM1375.1 365.3h2l13.0 25h-28zM1376.5 366.3h2l13.0 25h-28zM1377.9 365.3h2l13.0 25h-28zM1379.2 366.3h2l13.0 25h-28zM1380.6 366.3h2l13.0 25h-28zM1382 367.3h2l13.0 25h-28zM1383.3 367.3h2l13.0 25h-28zM1384.7 367.3h2l13.0 25h-28zM1386.1 367.3h2l13.0 25h-28zM1387.5 366.3h2l13.0 25h-28zM1388.8 367.3h2l13.0 25h-28zM1390.2 367.3h2l13.0 25h-28zM1391.6 367.3h2l13.0 25h-28zM1392.9 368.3h2l13.0 25h-28zM1394.3 367.3h2l13.0 25h-28zM1395.7 368.3h2l13.0 25h-28zM1397 367.3h2l13.0 25h-28zM1398.4 368.3h2l13.0 25h-28zM1399.8 367.3h2l13.0 25h-28zM1401.1 368.3h2l13.0 25h-28zM1402.5 368.3h2l13.0 25h-28zM1403.9 368.3h2l13.0 25h-28zM1405.3 368.3h2l13.0 25h-28zM1406.6 368.3h2l13.0 25h-28zM1408 368.3h2l13.0 25h-28zM1409.4 369.3h2l13.0 25h-28zM1410.7 368.3h2l13.0 25h-28zM1412.1 368.3h2l13.0 25h-28zM1413.5 369.3h2l13.0 25h-28zM1414.8 369.3h2l13.0 25h-28zM1416.2 369.3h2l13.0 25h-28zM1417.6 370.3h2l13.0 25h-28zM1419 369.3h2l13.0 25h-28zM1420.3 369.3h2l13.0 25h-28zM1421.7 369.3h2l13.0 25h-28zM1423.1 369.3h2l13.0 25h-28zM1424.4 369.3h2l13.0 25h-28zM1425.8 370.3h2l13.0 25h-28zM1427.2 369.3h2l13.0 25h-28zM1428.5 370.3h2l13.0 25h-28zM1429.9 370.3h2l13.0 25h-28zM1431.3 370.3h2l13.0 25h-28zM1432.6 370.3h2l13.0 25h-28zM1434 370.3h2l13.0 25h-28zM1435.4 370.3h2l13.0 25h-28zM1436.8 370.3h2l13.0 25h-28zM1438.1 370.3h2l13.0 25h-28zM1439.5 370.3h2l13.0 25h-28zM1440.9 371.3h2l13.0 25h-28zM1442.2 371.3h2l13.0 25h-28zM1443.6 370.3h2l13.0 25h-28zM1445 371.3h2l13.0 25h-28zM1446.3 371.3h2l13.0 25h-28zM1447.7 372.3h2l13.0 25h-28zM1449.1 371.3h2l13.0 25h-28zM1450.4 372.3h2l13.0 25h-28zM1451.8 371.3h2l13.0 25h-28zM1453.2 372.3h2l13.0 25h-28zM1454.6 373.3h2l13.0 25h-28zM1455.9 372.3h2l13.0 25h-28zM1457.3 372.3h2l13.0 25h-28zM1458.7 372.3h2l13.0 25h-28zM1460 372.3h2l13.0 25h-28zM1461.4 372.3h2l13.0 25h-28zM1462.8 373.3h2l13.0 25h-28zM1464.1 373.3h2l13.0 25h-28zM1465.5 373.3h2l13.0 25h-28zM1466.9 373.3h2l13.0 25h-28zM1468.3 372.3h2l13.0 25h-28zM1469.6 372.3h2l13.0 25h-28zM1471 373.3h2l13.0 25h-28zM1472.4 373.3h2l13.0 25h-28zM1473.7 373.3h2l13.0 25h-28zM1475.1 373.3h2l13.0 25h-28zM1476.5 373.3h2l13.0 25h-28zM1477.8 374.3h2l13.0 25h-28zM1479.2 373.3h2l13.0 25h-28zM1480.6 373.3h2l13.0 25h-28zM1481.9 374.3h2l13.0 25h-28zM1483.3 373.3h2l13.0 25h-28zM1484.7 374.3h2l13.0 25h-28zM1486.1 374.3h2l13.0 25h-28zM1487.4 374.3h2l13.0 25h-28zM1488.8 373.3h2l13.0 25h-28zM1490.2 374.3h2l13.0 25h-28zM1491.5 374.3h2l13.0 25h-28zM1492.9 374.3h2l13.0 25h-28zM1494.3 374.3h2l13.0 25h-28zM1495.6 374.3h2l13.0 25h-28zM1497 374.3h2l13.0 25h-28zM1498.4 375.3h2l13.0 25h-28zM1499.8 374.3h2l13.0 25h-28zM1501.1 375.3h2l13.0 25h-28zM1502.5 375.3h2l13.0 25h-28zM1503.9 375.3h2l13.0 25h-28zM1505.2 375.3h2l13.0 25h-28zM1506.6 375.3h2l13.0 25h-28zM1508 375.3h2l13.0 25h-28zM1509.3 375.3h2l13.0 25h-28zM1510.7 375.3h2l13.0 25h-28zM1512.1 375.3h2l13.0 25h-28zM1513.4 376.3h2l13.0 25h-28zM1514.8 375.3h2l13.0 25h-28zM1516.2 375.3h2l13.0 25h-28zM1517.6 375.3h2l13.0 25h-28zM1518.9 376.3h2l13.0 25h-28zM1520.3 376.3h2l13.0 25h-28zM1521.7 375.3h2l13.0 25h-28zM1523 376.3h2l13.0 25h-28zM1524.4 375.3h2l13.0 25h-28zM1525.8 376.3h2l13.0 25h-28zM1527.1 376.3h2l13.0 25h-28zM1528.5 376.3h2l13.0 25h-28zM1529.9 376.3h2l13.0 25h-28zM1531.2 376.3h2l13.0 25h-28zM1532.6 376.3h2l13.0 25h-28zM1534 377.3h2l13.0 25h-28zM1535.4 377.3h2l13.0 25h-28zM1536.7 377.3h2l13.0 25h-28zM1538.1 377.3h2l13.0 25h-28zM1539.5 377.3h2l13.0 25h-28zM1540.8 376.3h2l13.0 25h-28zM1542.2 376.3h2l13.0 25h-28zM1543.6 377.3h2l13.0 25h-28zM1544.9 377.3h2l13.0 25h-28zM1546.3 377.3h2l13.0 25h-28zM1547.7 377.3h2l13.0 25h-28zM1549.1 376.3h2l13.0 25h-28zM1550.4 377.3h2l13.0 25h-28zM1551.8 377.3h2l13.0 25h-28zM1553.2 377.3h2l13.0 25h-28zM1554.5 378.3h2l13.0 25h-28zM1555.9 378.3h2l13.0 25h-28zM1557.3 378.3h2l13.0 25h-28zM1558.6 377.3h2l13.0 25h-28zM1560 377.3h2l13.0 25h-28zM1561.4 378.3h2l13.0 25h-28zM1562.7 378.3h2l13.0 25h-28zM1564.1 377.3h2l13.0 25h-28zM1565.5 378.3h2l13.0 25h-28zM1566.9 378.3h2l13.0 25h-28zM1568.2 378.3h2l13.0 25h-28zM1569.6 378.3h2l13.0 25h-28zM1571 378.3h2l13.0 25h-28zM1572.3 378.3h2l13.0 25h-28zM1573.7 377.3h2l13.0 25h-28zM1575.1 379.3h2l13.0 25h-28zM1576.4 378.3h2l13.0 25h-28zM1577.8 378.3h2l13.0 25h-28zM1579.2 378.3h2l13.0 25h-28zM1580.5 378.3h2l13.0 25h-28zM1581.9 378.3h2l13.0 25h-28zM1583.3 378.3h2l13.0 25h-28zM1584.7 379.3h2l13.0 25h-28zM1586 378.3h2l13.0 25h-28zM1587.4 378.3h2l13.0 25h-28zM1588.8 378.3h2l13.0 25h-28zM1589.9 379.3h2l13.0 25h-28z" fill="#00f"/>

<polyline points="283.7,1105 285.4,1105 287.1,1105 288.8,1105 290.5,1106 292.2,1106 293.9,1106 295.6,1106 297.3,1106 299,1106 300.7,1106 302.4,1106 304.1,1106 305.8,1106 307.5,1106 309.2,1106 310.9,1106 312.6,1106 314.3,1106 316,1106 317.7,1106 319.4,1106 321.1,1106 322.8,1106 324.5,1106 326.2,1106 327.9,1106 329.6,1107 331.3,1106 333,1106 334.7,1107 336.4,1107 338.1,1107 339.8,1107 341.5,1107 343.2,1106 344.9,1107 346.6,1107 348.3,1107 350,1107 351.7,1107 353.4,1107 355.1,1107 356.8,1107 358.5,1107 360.2,1107 361.9,1107 363.6,1107 365.3,1107 367,1107 368.7,1107 370.4,1107 372.1,1107 373.8,1107 375.5,1107 377.2,1108 378.9,1107 380.6,1108 382.3,1107 384,1108 385.7,1107 387.4,1108 389.1,1108 390.9,1108 392.6,1108 394.3,1108 396,1108 397.7,1108 399.4,1108 401.1,1108 402.6,733 404.3,584 406,515 407.7,476 409.4,446 411.1,426 412.8,413 414.5,401 416.2,392 417.9,386 419.6,379 421.3,373 423,370 424.7,367 426.4,366 428.1,362 429.8,360 431.5,355 433.2,352 434.9,348 436.6,347 438.3,345 440,343 441.7,343 443.4,341 445.1,339 446.8,339 448.5,337 450.2,337 451.9,336 453.6,335 455.3,334 457,333 458.7,333 460.4,332 462.1,332 463.8,332 465.6,330 467.3,331 469,331 470.7,330 472.4,330 474.1,328 475.8,330 477.5,328 479.2,328 480.9,328 482.6,328 484.3,327 486,326 487.7,327 489.4,327 491.1,325 492.8,325 494.5,325 496.2,326 497.9,324 499.6,324 501.3,324 503,324 504.7,324 506.4,324 508.1,323 509.8,323 511.5,324 513.2,323 514.9,322 516.6,323 518.3,323 520,322 521.7,322 523.4,322 525.1,322 526.8,322 528.5,322 530.2,321 531.9,322 533.6,321 535.3,321 537,320 538.7,321 540.4,321 542.1,320 543.8,320 545.5,320 547.3,320 549,320 550.7,320 552.4,320 554.1,320 555.8,320 557.5,320 559.2,320 560.9,320 562.6,321 564.3,320 566,319 567.7,319 569.4,320 571.1,319 572.8,320 574.5,319 576.2,319 577.9,320 579.6,320 581.3,320 583,320 584.7,320 586.4,319 588.1,319 589.8,319 591.5,319 593.2,319 594.9,319 596.6,319 598.3,319 600,319 601.7,319 603.4,319 605.1,319 606.8,319 608.5,318 610.2,318 611.9,319 613.6,319 615.3,319 617,319 618.7,319 620.4,319 622.1,318 623.8,318 625.5,319 627.2,318 629,319 630.7,318 632.4,319 634.1,318 635.8,317 637.5,318 639.2,318 640.9,318 642.6,318 644.3,318 646,318 647.7,318 649.4,318 651.1,317 652.8,317 654.5,319 656.2,318 657.9,319 659.6,317 661.3,318 663,318 664.7,318 666.4,318 668.1,318 669.8,318 671.5,318 673.2,318 674.9,318 676.6,318 678.3,318 680,319 681.7,318 683.4,318 685.1,318 686.8,318 688.5,318 690.2,318 691.9,318 693.6,318 695.3,318 697,318 698.7,318 700.4,318 702.1,318 703.8,318 705.5,317 707.2,318 708.9,317 710.6,318 712.4,318 714.1,318 715.8,318 717.5,317 719.2,318 720.9,318 722.6,318 724.3,318 726,318 727.7,318 729.4,318 731.1,318 732.8,318 734.5,318 736.2,318 737.9,318 739.6,318 741.3,317 743,319 744.7,318 746.4,317 748.1,318 749.8,318 751.5,318 753.2,317 754.9,318 756.6,318 758.3,318 760,318 761.7,317 763.4,318 765.1,318 766.8,318 768.5,318 770.2,318 771.9,318 773.6,318 775.3,319 777,318 778.7,318 780.4,318 782.1,319 783.8,318 785.5,318 787.2,318 788.9,319 790.6,318 792.3,318 794.1,318 795.8,318 797.5,318 799.2,318 800.9,319 802.6,318 804.3,319 806,318 807.7,318 809.4,318 811.1,318 812.8,318 814.5,317 816.2,318 817.9,318 819.6,319 821.3,319 823,318 824.7,318 826.4,318 828.1,318 829.8,319 831.5,318 833.2,318 834.9,318 836.6,319 838.3,318 840,319 841.7,318 843.4,318 845.1,318 846.8,318 848.5,318 850.2,320 851.9,318 853.6,319 855.3,318 857,319 858.7,319 860.4,319 862.1,318 863.8,318 865.5,319 867.2,319 868.9,318 870.6,319 872.3,318 874,319 875.8,319 877.5,318 879.2,318 880.9,319 882.6,318 884.3,319 886,318 887.7,319 889.4,320 891.1,319 892.8,319 894.5,318 896.2,318 897.9,319 899.6,319 901.3,319 903,319 904.7,319 906.4,319 908.1,320 909.8,319 911.5,319 913.2,318 914.9,319 916.6,319 918.3,319 920,320 921.7,320 923.4,320 925.1,319 926.8,319 928.5,320 930.2,319 931.9,319 933.6,319 935.3,319 937,320 938.7,320 940.4,319 942.1,319 943.8,320 945.5,320 947.2,319 948.9,320 950.6,319 952.3,320 954,319 955.7,319 957.4,319 959.2,319 960.9,320 962.6,320 964.3,320 966,319 967.7,319 969.4,319 971.1,320 972.8,320 974.5,320 976.2,320 977.9,320 979.6,320 981.3,320 983,320 984.7,320 986.4,321 988.1,320 990.5,329 992.2,337 993.9,343 995.6,345 997.3,347 999,350 1000.7,352 1002.4,354 1004.1,357 1005.8,358 1007.5,360 1009.2,362 1010.9,363 1012.6,366 1014.4,367 1016.1,368 1017.8,370 1019.5,370 1021.2,373 1022.9,373 1024.6,375 1026.3,377 1028,378 1029.7,378 1031.4,380 1033.1,380 1034.8,381 1036.5,383 1038.2,384 1039.9,385 1041.6,385 1043.3,386 1045,386 1046.7,387 1048.4,389 1050.1,388 1051.8,389 1053.5,390 1055.2,391 1056.9,391 1058.6,392 1060.3,392 1062,393 1063.7,393 1065.4,394 1067.1,394 1068.8,395 1070.5,394 1072.2,395 1073.9,397 1075.6,396 1077.3,397 1079,397 1080.7,398 1082.4,398 1084.1,398 1085.8,398 1087.5,399 1089.2,399 1090.9,400 1092.6,400 1094.3,400 1096,401 1097.8,401 1099.5,401 1101.2,401 1102.9,402 1104.6,402 1106.3,402 1108,403 1109.7,403 1111.4,404 1113.1,403 1114.8,404 1116.5,404 1118.2,405 1119.9,406 1121.6,404 1123.3,405 1125,405 1126.7,406 1128.4,406 1130.1,406 1131.8,407 1133.5,406 1135.2,407 1136.9,407 1138.6,407 1140.3,407 1142,408 1143.7,409 1145.4,408 1147.1,408 1148.8,409 1150.5,410 1152.2,410 1153.9,410 1155.6,410 1157.3,410 1159,410 1160.7,411 1162.4,411 1164.1,411 1165.8,411 1167.5,411 1169.2,411 1170.9,412 1172.6,412 1174.3,412 1176,412 1177.7,413 1179.5,413 1181.2,412 1182.9,412 1184.6,413 1186.3,413 1188,414 1189.7,414 1191.4,414 1193.1,414 1194.8,415 1196.5,414 1198.2,415 1199.9,416 1201.6,416 1203.3,416 1205,416 1206.7,415 1208.4,416 1210.1,416 1211.8,416 1213.5,416 1215.2,417 1216.9,416 1218.6,417 1220.3,417 1222,417 1223.7,418 1225.4,418 1227.1,418 1228.8,417 1230.5,418 1232.2,418 1233.9,418 1235.6,418 1237.3,418 1239,418 1240.7,419 1242.4,419 1244.1,419 1245.8,419 1247.5,420 1249.2,419 1250.9,420 1252.6,420 1254.3,420 1256,419 1257.7,420 1259.4,420 1261.1,421 1262.9,421 1264.6,421 1266.3,421 1268,420 1269.7,422 1271.4,421 1273.1,422 1274.8,422 1276.5,421 1278.2,422 1279.9,422 1281.6,423 1283.3,422 1285,423 1286.7,421 1288.4,423 1290.1,423 1291.8,423 1293.5,423 1295.2,424 1296.9,423 1298.6,424 1300.3,423 1302,424 1303.7,424 1305.4,423 1307.1,425 1308.8,425 1310.5,424 1312.2,425 1313.9,425 1315.6,424 1317.3,425 1319,425 1320.7,425 1322.4,425 1324.1,425 1325.8,426 1327.5,426 1329.2,426 1330.9,426 1332.6,425 1334.3,427 1336,426 1337.7,427 1339.4,427 1341.1,427 1342.8,426 1344.6,427 1346.3,427 1348,427 1349.7,427 1351.4,428 1353.1,427 1354.8,427 1356.5,428 1358.2,428 1359.9,427 1361.6,428 1363.3,428 1365,428 1366.7,428 1368.4,428 1370.1,429 1371.8,428 1373.5,429 1375.2,428 1376.9,429 1378.6,429 1380.3,430 1382,429 1383.7,429 1385.4,430 1387.1,430 1388.8,430 1390.5,429 1392.2,430 1393.9,430 1395.6,430 1397.3,430 1399,430 1400.7,430 1402.4,431 1404.1,430 1405.8,430 1407.5,431 1409.2,431 1410.9,431 1412.6,431 1414.3,431 1416,431 1417.7,431 1419.4,431 1421.1,431 1422.8,431 1424.5,432 1426.3,432 1428,431 1429.7,433 1431.4,432 1433.1,432 1434.8,432 1436.5,433 1438.2,433 1439.9,432 1441.6,432 1443.3,432 1445,433 1446.7,433 1448.4,434 1450.1,433 1451.8,434 1453.5,433 1455.2,433 1456.9,433 1458.6,434 1460.3,433 1462,434 1463.7,434 1465.4,434 1467.1,435 1468.8,434 1470.5,434 1472.2,435 1473.9,434 1475.6,435 1477.3,435 1479,435 1480.7,435 1482.4,435 1484.1,435 1485.8,435 1487.5,435 1489.2,436 1490.9,436 1492.6,436 1494.3,435 1496,436 1497.7,435 1499.4,435 1501.1,436 1502.8,436 1504.5,437 1506.2,437 1507.9,437 1509.7,436 1511.4,436 1513.1,437 1514.8,437 1516.5,437 1518.2,437 1519.9,437 1521.6,437 1523.3,437 1525,438 1526.7,437 1528.4,437 1530.1,438 1531.8,438 1533.5,437 1535.2,438 1536.9,438 1538.6,438 1540.3,439 1542,438 1543.7,437 1545.4,438 1547.1,438 1548.8,438 1550.5,438 1552.2,438 1553.9,439 1555.6,439 1557.3,439 1559,439 1560.7,439 1562.4,439 1564.1,440 1565.8,439 1567.5,438 1569.2,439 1570.9,440 1572.6,440 1574.3,439 1576,440 1577.7,439 1579.4,440 1581.1,439 1582.8,439 1584.5,441 1586.2,440 1587.9,440 1589.6,441 1591.4,441 1593.1,440 1594.8,440 1596.5,441 1598.2,440 1599.9,440 1601.6,440 1603.3,441 1605,441 1606.7,441 1608.4,441 1610.1,441 1611.8,441 1613.5,440 1615.2,441 1616.9,441 1618.6,441 1620.3,442 1622,442 1623.7,442 1625.4,442 1627.1,441 1628.8,442 1630.5,441 1632.2,441 1633.9,442 1635.6,442 1637.3,442 1639,442 1640.7,443 1642.4,442 1644.1,442 1645.8,442 1647.5,442 1649.2,442 1650.4,443" fill="none" stroke="#008080" stroke-width="7.5" stroke-linejoin="round"/>
<path d="M282.7 1121.7h2l13.0 -25h-28zM284.4 1121.7h2l13.0 -25h-28zM286.1 1121.7h2l13.0 -25h-28zM287.8 1121.7h2l13.0 -25h-28zM289.5 1122.7h2l13.0 -25h-28zM291.2 1122.7h2l13.0 -25h-28zM292.9 1122.7h2l13.0 -25h-28zM294.6 1122.7h2l13.0 -25h-28zM296.3 1122.7h2l13.0 -25h-28zM298 1122.7h2l13.0 -25h-28zM299.7 1122.7h2l13.0 -25h-28zM301.4 1122.7h2l13.0 -25h-28zM303.1 1122.7h2l13.0 -25h-28zM304.8 1122.7h2l13.0 -25h-28zM306.5 1122.7h2l13.0 -25h-28zM308.2 1122.7h2l13.0 -25h-28zM309.9 1122.7h2l13.0 -25h-28zM311.6 1122.7h2l13.0 -25h-28zM313.3 1122.7h2l13.0 -25h-28zM315 1122.7h2l13.0 -25h-28zM316.7 1122.7h2l13.0 -25h-28zM318.4 1122.7h2l13.0 -25h-28zM320.1 1122.7h2l13.0 -25h-28zM321.8 1122.7h2l13.0 -25h-28zM323.5 1122.7h2l13.0 -25h-28zM325.2 1122.7h2l13.0 -25h-28zM326.9 1122.7h2l13.0 -25h-28zM328.6 1123.7h2l13.0 -25h-28zM330.3 1122.7h2l13.0 -25h-28zM332 1122.7h2l13.0 -25h-28zM333.7 1123.7h2l13.0 -25h-28zM335.4 1123.7h2l13.0 -25h-28zM337.1 1123.7h2l13.0 -25h-28zM338.8 1123.7h2l13.0 -25h-28zM340.5 1123.7h2l13.0 -25h-28zM342.2 1122.7h2l13.0 -25h-28zM343.9 1123.7h2l13.0 -25h-28zM345.6 1123.7h2l13.0 -25h-28zM347.3 1123.7h2l13.0 -25h-28zM349 1123.7h2l13.0 -25h-28zM350.7 1123.7h2l13.0 -25h-28zM352.4 1123.7h2l13.0 -25h-28zM354.1 1123.7h2l13.0 -25h-28zM355.8 1123.7h2l13.0 -25h-28zM357.5 1123.7h2l13.0 -25h-28zM359.2 1123.7h2l13.0 -25h-28zM360.9 1123.7h2l13.0 -25h-28zM362.6 1123.7h2l13.0 -25h-28zM364.3 1123.7h2l13.0 -25h-28zM366 1123.7h2l13.0 -25h-28zM367.7 1123.7h2l13.0 -25h-28zM369.4 1123.7h2l13.0 -25h-28zM371.1 1123.7h2l13.0 -25h-28zM372.8 1123.7h2l13.0 -25h-28zM374.5 1123.7h2l13.0 -25h-28zM376.2 1124.7h2l13.0 -25h-28zM377.9 1123.7h2l13.0 -25h-28zM379.6 1124.7h2l13.0 -25h-28zM381.3 1123.7h2l13.0 -25h-28zM383 1124.7h2l13.0 -25h-28zM384.7 1123.7h2l13.0 -25h-28zM386.4 1124.7h2l13.0 -25h-28zM388.1 1124.7h2l13.0 -25h-28zM389.9 1124.7h2l13.0 -25h-28zM391.6 1124.7h2l13.0 -25h-28zM393.3 1124.7h2l13.0 -25h-28zM395 1124.7h2l13.0 -25h-28zM396.7 1124.7h2l13.0 -25h-28zM398.4 1124.7h2l13.0 -25h-28zM400.1 1124.7h2l13.0 -25h-28zM401.6 749.7h2l13.0 -25h-28zM403.3 600.7h2l13.0 -25h-28zM405 531.7h2l13.0 -25h-28zM406.7 492.7h2l13.0 -25h-28zM408.4 462.7h2l13.0 -25h-28zM410.1 442.7h2l13.0 -25h-28zM411.8 429.7h2l13.0 -25h-28zM413.5 417.7h2l13.0 -25h-28zM415.2 408.7h2l13.0 -25h-28zM416.9 402.7h2l13.0 -25h-28zM418.6 395.7h2l13.0 -25h-28zM420.3 389.7h2l13.0 -25h-28zM422 386.7h2l13.0 -25h-28zM423.7 383.7h2l13.0 -25h-28zM425.4 382.7h2l13.0 -25h-28zM427.1 378.7h2l13.0 -25h-28zM428.8 376.7h2l13.0 -25h-28zM430.5 371.7h2l13.0 -25h-28zM432.2 368.7h2l13.0 -25h-28zM433.9 364.7h2l13.0 -25h-28zM435.6 363.7h2l13.0 -25h-28zM437.3 361.7h2l13.0 -25h-28zM439 359.7h2l13.0 -25h-28zM440.7 359.7h2l13.0 -25h-28zM442.4 357.7h2l13.0 -25h-28zM444.1 355.7h2l13.0 -25h-28zM445.8 355.7h2l13.0 -25h-28zM447.5 353.7h2l13.0 -25h-28zM449.2 353.7h2l13.0 -25h-28zM450.9 352.7h2l13.0 -25h-28zM452.6 351.7h2l13.0 -25h-28zM454.3 350.7h2l13.0 -25h-28zM456 349.7h2l13.0 -25h-28zM457.7 349.7h2l13.0 -25h-28zM459.4 348.7h2l13.0 -25h-28zM461.1 348.7h2l13.0 -25h-28zM462.8 348.7h2l13.0 -25h-28zM464.6 346.7h2l13.0 -25h-28zM466.3 347.7h2l13.0 -25h-28zM468 347.7h2l13.0 -25h-28zM469.7 346.7h2l13.0 -25h-28zM471.4 346.7h2l13.0 -25h-28zM473.1 344.7h2l13.0 -25h-28zM474.8 346.7h2l13.0 -25h-28zM476.5 344.7h2l13.0 -25h-28zM478.2 344.7h2l13.0 -25h-28zM479.9 344.7h2l13.0 -25h-28zM481.6 344.7h2l13.0 -25h-28zM483.3 343.7h2l13.0 -25h-28zM485 342.7h2l13.0 -25h-28zM486.7 343.7h2l13.0 -25h-28zM488.4 343.7h2l13.0 -25h-28zM490.1 341.7h2l13.0 -25h-28zM491.8 341.7h2l13.0 -25h-28zM493.5 341.7h2l13.0 -25h-28zM495.2 342.7h2l13.0 -25h-28zM496.9 340.7h2l13.0 -25h-28zM498.6 340.7h2l13.0 -25h-28zM500.3 340.7h2l13.0 -25h-28zM502 340.7h2l13.0 -25h-28zM503.7 340.7h2l13.0 -25h-28zM505.4 340.7h2l13.0 -25h-28zM507.1 339.7h2l13.0 -25h-28zM508.8 339.7h2l13.0 -25h-28zM510.5 340.7h2l13.0 -25h-28zM512.2 339.7h2l13.0 -25h-28zM513.9 338.7h2l13.0 -25h-28zM515.6 339.7h2l13.0 -25h-28zM517.3 339.7h2l13.0 -25h-28zM519 338.7h2l13.0 -25h-28zM520.7 338.7h2l13.0 -25h-28zM522.4 338.7h2l13.0 -25h-28zM524.1 338.7h2l13.0 -25h-28zM525.8 338.7h2l13.0 -25h-28zM527.5 338.7h2l13.0 -25h-28zM529.2 337.7h2l13.0 -25h-28zM530.9 338.7h2l13.0 -25h-28zM532.6 337.7h2l13.0 -25h-28zM534.3 337.7h2l13.0 -25h-28zM536 336.7h2l13.0 -25h-28zM537.7 337.7h2l13.0 -25h-28zM539.4 337.7h2l13.0 -25h-28zM541.1 336.7h2l13.0 -25h-28zM542.8 336.7h2l13.0 -25h-28zM544.5 336.7h2l13.0 -25h-28zM546.3 336.7h2l13.0 -25h-28zM548 336.7h2l13.0 -25h-28zM549.7 336.7h2l13.0 -25h-28zM551.4 336.7h2l13.0 -25h-28zM553.1 336.7h2l13.0 -25h-28zM554.8 336.7h2l13.0 -25h-28zM556.5 336.7h2l13.0 -25h-28zM558.2 336.7h2l13.0 -25h-28zM559.9 336.7h2l13.0 -25h-28zM561.6 337.7h2l13.0 -25h-28zM563.3 336.7h2l13.0 -25h-28zM565 335.7h2l13.0 -25h-28zM566.7 335.7h2l13.0 -25h-28zM568.4 336.7h2l13.0 -25h-28zM570.1 335.7h2l13.0 -25h-28zM571.8 336.7h2l13.0 -25h-28zM573.5 335.7h2l13.0 -25h-28zM575.2 335.7h2l13.0 -25h-28zM576.9 336.7h2l13.0 -25h-28zM578.6 336.7h2l13.0 -25h-28zM580.3 336.7h2l13.0 -25h-28zM582 336.7h2l13.0 -25h-28zM583.7 336.7h2l13.0 -25h-28zM585.4 335.7h2l13.0 -25h-28zM587.1 335.7h2l13.0 -25h-28zM588.8 335.7h2l13.0 -25h-28zM590.5 335.7h2l13.0 -25h-28zM592.2 335.7h2l13.0 -25h-28zM593.9 335.7h2l13.0 -25h-28zM595.6 335.7h2l13.0 -25h-28zM597.3 335.7h2l13.0 -25h-28zM599 335.7h2l13.0 -25h-28zM600.7 335.7h2l13.0 -25h-28zM602.4 335.7h2l13.0 -25h-28zM604.1 335.7h2l13.0 -25h-28zM605.8 335.7h2l13.0 -25h-28zM607.5 334.7h2l13.0 -25h-28zM609.2 334.7h2l13.0 -25h-28zM610.9 335.7h2l13.0 -25h-28zM612.6 335.7h2l13.0 -25h-28zM614.3 335.7h2l13.0 -25h-28zM616 335.7h2l13.0 -25h-28zM617.7 335.7h2l13.0 -25h-28zM619.4 335.7h2l13.0 -25h-28zM621.1 334.7h2l13.0 -25h-28zM622.8 334.7h2l13.0 -25h-28zM624.5 335.7h2l13.0 -25h-28zM626.2 334.7h2l13.0 -25h-28zM628 335.7h2l13.0 -25h-28zM629.7 334.7h2l13.0 -25h-28zM631.4 335.7h2l13.0 -25h-28zM633.1 334.7h2l13.0 -25h-28zM634.8 333.7h2l13.0 -25h-28zM636.5 334.7h2l13.0 -25h-28zM638.2 334.7h2l13.0 -25h-28zM639.9 334.7h2l13.0 -25h-28zM641.6 334.7h2l13.0 -25h-28zM643.3 334.7h2l13.0 -25h-28zM645 334.7h2l13.0 -25h-28zM646.7 334.7h2l13.0 -25h-28zM648.4 334.7h2l13.0 -25h-28zM650.1 333.7h2l13.0 -25h-28zM651.8 333.7h2l13.0 -25h-28zM653.5 335.7h2l13.0 -25h-28zM655.2 334.7h2l13.0 -25h-28zM656.9 335.7h2l13.0 -25h-28zM658.6 333.7h2l13.0 -25h-28zM660.3 334.7h2l13.0 -25h-28zM662 334.7h2l13.0 -25h-28zM663.7 334.7h2l13.0 -25h-28zM665.4 334.7h2l13.0 -25h-28zM667.1 334.7h2l13.0 -25h-28zM668.8 334.7h2l13.0 -25h-28zM670.5 334.7h2l13.0 -25h-28zM672.2 334.7h2l13.0 -25h-28zM673.9 334.7h2l13.0 -25h-28zM675.6 334.7h2l13.0 -25h-28zM677.3 334.7h2l13.0 -25h-28zM679 335.7h2l13.0 -25h-28zM680.7 334.7h2l13.0 -25h-28zM682.4 334.7h2l13.0 -25h-28zM684.1 334.7h2l13.0 -25h-28zM685.8 334.7h2l13.0 -25h-28zM687.5 334.7h2l13.0 -25h-28zM689.2 334.7h2l13.0 -25h-28zM690.9 334.7h2l13.0 -25h-28zM692.6 334.7h2l13.0 -25h-28zM694.3 334.7h2l13.0 -25h-28zM696 334.7h2l13.0 -25h-28zM697.7 334.7h2l13.0 -25h-28zM699.4 334.7h2l13.0 -25h-28zM701.1 334.7h2l13.0 -25h-28zM702.8 334.7h2l13.0 -25h-28zM704.5 333.7h2l13.0 -25h-28zM706.2 334.7h2l13.0 -25h-28zM707.9 333.7h2l13.0 -25h-28zM709.6 334.7h2l13.0 -25h-28zM711.4 334.7h2l13.0 -25h-28zM713.1 334.7h2l13.0 -25h-28zM714.8 334.7h2l13.0 -25h-28zM716.5 333.7h2l13.0 -25h-28zM718.2 334.7h2l13.0 -25h-28zM719.9 334.7h2l13.0 -25h-28zM721.6 334.7h2l13.0 -25h-28zM723.3 334.7h2l13.0 -25h-28zM725 334.7h2l13.0 -25h-28zM726.7 334.7h2l13.0 -25h-28zM728.4 334.7h2l13.0 -25h-28zM730.1 334.7h2l13.0 -25h-28zM731.8 334.7h2l13.0 -25h-28zM733.5 334.7h2l13.0 -25h-28zM735.2 334.7h2l13.0 -25h-28zM736.9 334.7h2l13.0 -25h-28zM738.6 334.7h2l13.0 -25h-28zM740.3 333.7h2l13.0 -25h-28zM742 335.7h2l13.0 -25h-28zM743.7 334.7h2l13.0 -25h-28zM745.4 333.7h2l13.0 -25h-28zM747.1 334.7h2l13.0 -25h-28zM748.8 334.7h2l13.0 -25h-28zM750.5 334.7h2l13.0 -25h-28zM752.2 333.7h2l13.0 -25h-28zM753.9 334.7h2l13.0 -25h-28zM755.6 334.7h2l13.0 -25h-28zM757.3 334.7h2l13.0 -25h-28zM759 334.7h2l13.0 -25h-28zM760.7 333.7h2l13.0 -25h-28zM762.4 334.7h2l13.0 -25h-28zM764.1 334.7h2l13.0 -25h-28zM765.8 334.7h2l13.0 -25h-28zM767.5 334.7h2l13.0 -25h-28zM769.2 334.7h2l13.0 -25h-28zM770.9 334.7h2l13.0 -25h-28zM772.6 334.7h2l13.0 -25h-28zM774.3 335.7h2l13.0 -25h-28zM776 334.7h2l13.0 -25h-28zM777.7 334.7h2l13.0 -25h-28zM779.4 334.7h2l13.0 -25h-28zM781.1 335.7h2l13.0 -25h-28zM782.8 334.7h2l13.0 -25h-28zM784.5 334.7h2l13.0 -25h-28zM786.2 334.7h2l13.0 -25h-28zM787.9 335.7h2l13.0 -25h-28zM789.6 334.7h2l13.0 -25h-28zM791.3 334.7h2l13.0 -25h-28zM793.1 334.7h2l13.0 -25h-28zM794.8 334.7h2l13.0 -25h-28zM796.5 334.7h2l13.0 -25h-28zM798.2 334.7h2l13.0 -25h-28zM799.9 335.7h2l13.0 -25h-28zM801.6 334.7h2l13.0 -25h-28zM803.3 335.7h2l13.0 -25h-28zM805 334.7h2l13.0 -25h-28zM806.7 334.7h2l13.0 -25h-28zM808.4 334.7h2l13.0 -25h-28zM810.1 334.7h2l13.0 -25h-28zM811.8 334.7h2l13.0 -25h-28zM813.5 333.7h2l13.0 -25h-28zM815.2 334.7h2l13.0 -25h-28zM816.9 334.7h2l13.0 -25h-28zM818.6 335.7h2l13.0 -25h-28zM820.3 335.7h2l13.0 -25h-28zM822 334.7h2l13.0 -25h-28zM823.7 334.7h2l13.0 -25h-28zM825.4 334.7h2l13.0 -25h-28zM827.1 334.7h2l13.0 -25h-28zM828.8 335.7h2l13.0 -25h-28zM830.5 334.7h2l13.0 -25h-28zM832.2 334.7h2l13.0 -25h-28zM833.9 334.7h2l13.0 -25h-28zM835.6 335.7h2l13.0 -25h-28zM837.3 334.7h2l13.0 -25h-28zM839 335.7h2l13.0 -25h-28zM840.7 334.7h2l13.0 -25h-28zM842.4 334.7h2l13.0 -25h-28zM844.1 334.7h2l13.0 -25h-28zM845.8 334.7h2l13.0 -25h-28zM847.5 334.7h2l13.0 -25h-28zM849.2 336.7h2l13.0 -25h-28zM850.9 334.7h2l13.0 -25h-28zM852.6 335.7h2l13.0 -25h-28zM854.3 334.7h2l13.0 -25h-28zM856 335.7h2l13.0 -25h-28zM857.7 335.7h2l13.0 -25h-28zM859.4 335.7h2l13.0 -25h-28zM861.1 334.7h2l13.0 -25h-28zM862.8 334.7h2l13.0 -25h-28zM864.5 335.7h2l13.0 -25h-28zM866.2 335.7h2l13.0 -25h-28zM867.9 334.7h2l13.0 -25h-28zM869.6 335.7h2l13.0 -25h-28zM871.3 334.7h2l13.0 -25h-28zM873 335.7h2l13.0 -25h-28zM874.8 335.7h2l13.0 -25h-28zM876.5 334.7h2l13.0 -25h-28zM878.2 334.7h2l13.0 -25h-28zM879.9 335.7h2l13.0 -25h-28zM881.6 334.7h2l13.0 -25h-28zM883.3 335.7h2l13.0 -25h-28zM885 334.7h2l13.0 -25h-28zM886.7 335.7h2l13.0 -25h-28zM888.4 336.7h2l13.0 -25h-28zM890.1 335.7h2l13.0 -25h-28zM891.8 335.7h2l13.0 -25h-28zM893.5 334.7h2l13.0 -25h-28zM895.2 334.7h2l13.0 -25h-28zM896.9 335.7h2l13.0 -25h-28zM898.6 335.7h2l13.0 -25h-28zM900.3 335.7h2l13.0 -25h-28zM902 335.7h2l13.0 -25h-28zM903.7 335.7h2l13.0 -25h-28zM905.4 335.7h2l13.0 -25h-28zM907.1 336.7h2l13.0 -25h-28zM908.8 335.7h2l13.0 -25h-28zM910.5 335.7h2l13.0 -25h-28zM912.2 334.7h2l13.0 -25h-28zM913.9 335.7h2l13.0 -25h-28zM915.6 335.7h2l13.0 -25h-28zM917.3 335.7h2l13.0 -25h-28zM919 336.7h2l13.0 -25h-28zM920.7 336.7h2l13.0 -25h-28zM922.4 336.7h2l13.0 -25h-28zM924.1 335.7h2l13.0 -25h-28zM925.8 335.7h2l13.0 -25h-28zM927.5 336.7h2l13.0 -25h-28zM929.2 335.7h2l13.0 -25h-28zM930.9 335.7h2l13.0 -25h-28zM932.6 335.7h2l13.0 -25h-28zM934.3 335.7h2l13.0 -25h-28zM936 336.7h2l13.0 -25h-28zM937.7 336.7h2l13.0 -25h-28zM939.4 335.7h2l13.0 -25h-28zM941.1 335.7h2l13.0 -25h-28zM942.8 336.7h2l13.0 -25h-28zM944.5 336.7h2l13.0 -25h-28zM946.2 335.7h2l13.0 -25h-28zM947.9 336.7h2l13.0 -25h-28zM949.6 335.7h2l13.0 -25h-28zM951.3 336.7h2l13.0 -25h-28zM953 335.7h2l13.0 -25h-28zM954.7 335.7h2l13.0 -25h-28zM956.4 335.7h2l13.0 -25h-28zM958.2 335.7h2l13.0 -25h-28zM959.9 336.7h2l13.0 -25h-28zM961.6 336.7h2l13.0 -25h-28zM963.3 336.7h2l13.0 -25h-28zM965 335.7h2l13.0 -25h-28zM966.7 335.7h2l13.0 -25h-28zM968.4 335.7h2l13.0 -25h-28zM970.1 336.7h2l13.0 -25h-28zM971.8 336.7h2l13.0 -25h-28zM973.5 336.7h2l13.0 -25h-28zM975.2 336.7h2l13.0 -25h-28zM976.9 336.7h2l13.0 -25h-28zM978.6 336.7h2l13.0 -25h-28zM980.3 336.7h2l13.0 -25h-28zM982 336.7h2l13.0 -25h-28zM983.7 336.7h2l13.0 -25h-28zM985.4 337.7h2l13.0 -25h-28zM987.1 336.7h2l13.0 -25h-28zM989.5 345.7h2l13.0 -25h-28zM991.2 353.7h2l13.0 -25h-28zM992.9 359.7h2l13.0 -25h-28zM994.6 361.7h2l13.0 -25h-28zM996.3 363.7h2l13.0 -25h-28zM998 366.7h2l13.0 -25h-28zM999.7 368.7h2l13.0 -25h-28zM1001.4 370.7h2l13.0 -25h-28zM1003.1 373.7h2l13.0 -25h-28zM1004.8 374.7h2l13.0 -25h-28zM1006.5 376.7h2l13.0 -25h-28zM1008.2 378.7h2l13.0 -25h-28zM1009.9 379.7h2l13.0 -25h-28zM1011.6 382.7h2l13.0 -25h-28zM1013.4 383.7h2l13.0 -25h-28zM1015.1 384.7h2l13.0 -25h-28zM1016.8 386.7h2l13.0 -25h-28zM1018.5 386.7h2l13.0 -25h-28zM1020.2 389.7h2l13.0 -25h-28zM1021.9 389.7h2l13.0 -25h-28zM1023.6 391.7h2l13.0 -25h-28zM1025.3 393.7h2l13.0 -25h-28zM1027 394.7h2l13.0 -25h-28zM1028.7 394.7h2l13.0 -25h-28zM1030.4 396.7h2l13.0 -25h-28zM1032.1 396.7h2l13.0 -25h-28zM1033.8 397.7h2l13.0 -25h-28zM1035.5 399.7h2l13.0 -25h-28zM1037.2 400.7h2l13.0 -25h-28zM1038.9 401.7h2l13.0 -25h-28zM1040.6 401.7h2l13.0 -25h-28zM1042.3 402.7h2l13.0 -25h-28zM1044 402.7h2l13.0 -25h-28zM1045.7 403.7h2l13.0 -25h-28zM1047.4 405.7h2l13.0 -25h-28zM1049.1 404.7h2l13.0 -25h-28zM1050.8 405.7h2l13.0 -25h-28zM1052.5 406.7h2l13.0 -25h-28zM1054.2 407.7h2l13.0 -25h-28zM1055.9 407.7h2l13.0 -25h-28zM1057.6 408.7h2l13.0 -25h-28zM1059.3 408.7h2l13.0 -25h-28zM1061 409.7h2l13.0 -25h-28zM1062.7 409.7h2l13.0 -25h-28zM1064.4 410.7h2l13.0 -25h-28zM1066.1 410.7h2l13.0 -25h-28zM1067.8 411.7h2l13.0 -25h-28zM1069.5 410.7h2l13.0 -25h-28zM1071.2 411.7h2l13.0 -25h-28zM1072.9 413.7h2l13.0 -25h-28zM1074.6 412.7h2l13.0 -25h-28zM1076.3 413.7h2l13.0 -25h-28zM1078 413.7h2l13.0 -25h-28zM1079.7 414.7h2l13.0 -25h-28zM1081.4 414.7h2l13.0 -25h-28zM1083.1 414.7h2l13.0 -25h-28zM1084.8 414.7h2l13.0 -25h-28zM1086.5 415.7h2l13.0 -25h-28zM1088.2 415.7h2l13.0 -25h-28zM1089.9 416.7h2l13.0 -25h-28zM1091.6 416.7h2l13.0 -25h-28zM1093.3 416.7h2l13.0 -25h-28zM1095 417.7h2l13.0 -25h-28zM1096.8 417.7h2l13.0 -25h-28zM1098.5 417.7h2l13.0 -25h-28zM1100.2 417.7h2l13.0 -25h-28zM1101.9 418.7h2l13.0 -25h-28zM1103.6 418.7h2l13.0 -25h-28zM1105.3 418.7h2l13.0 -25h-28zM1107 419.7h2l13.0 -25h-28zM1108.7 419.7h2l13.0 -25h-28zM1110.4 420.7h2l13.0 -25h-28zM1112.1 419.7h2l13.0 -25h-28zM1113.8 420.7h2l13.0 -25h-28zM1115.5 420.7h2l13.0 -25h-28zM1117.2 421.7h2l13.0 -25h-28zM1118.9 422.7h2l13.0 -25h-28zM1120.6 420.7h2l13.0 -25h-28zM1122.3 421.7h2l13.0 -25h-28zM1124 421.7h2l13.0 -25h-28zM1125.7 422.7h2l13.0 -25h-28zM1127.4 422.7h2l13.0 -25h-28zM1129.1 422.7h2l13.0 -25h-28zM1130.8 423.7h2l13.0 -25h-28zM1132.5 422.7h2l13.0 -25h-28zM1134.2 423.7h2l13.0 -25h-28zM1135.9 423.7h2l13.0 -25h-28zM1137.6 423.7h2l13.0 -25h-28zM1139.3 423.7h2l13.0 -25h-28zM1141 424.7h2l13.0 -25h-28zM1142.7 425.7h2l13.0 -25h-28zM1144.4 424.7h2l13.0 -25h-28zM1146.1 424.7h2l13.0 -25h-28zM1147.8 425.7h2l13.0 -25h-28zM1149.5 426.7h2l13.0 -25h-28zM1151.2 426.7h2l13.0 -25h-28zM1152.9 426.7h2l13.0 -25h-28zM1154.6 426.7h2l13.0 -25h-28zM1156.3 426.7h2l13.0 -25h-28zM1158 426.7h2l13.0 -25h-28zM1159.7 427.7h2l13.0 -25h-28zM1161.4 427.7h2l13.0 -25h-28zM1163.1 427.7h2l13.0 -25h-28zM1164.8 427.7h2l13.0 -25h-28zM1166.5 427.7h2l13.0 -25h-28zM1168.2 427.7h2l13.0 -25h-28zM1169.9 428.7h2l13.0 -25h-28zM1171.6 428.7h2l13.0 -25h-28zM1173.3 428.7h2l13.0 -25h-28zM1175 428.7h2l13.0 -25h-28zM1176.7 429.7h2l13.0 -25h-28zM1178.5 429.7h2l13.0 -25h-28zM1180.2 428.7h2l13.0 -25h-28zM1181.9 428.7h2l13.0 -25h-28zM1183.6 429.7h2l13.0 -25h-28zM1185.3 429.7h2l13.0 -25h-28zM1187 430.7h2l13.0 -25h-28zM1188.7 430.7h2l13.0 -25h-28zM1190.4 430.7h2l13.0 -25h-28zM1192.1 430.7h2l13.0 -25h-28zM1193.8 431.7h2l13.0 -25h-28zM1195.5 430.7h2l13.0 -25h-28zM1197.2 431.7h2l13.0 -25h-28zM1198.9 432.7h2l13.0 -25h-28zM1200.6 432.7h2l13.0 -25h-28zM1202.3 432.7h2l13.0 -25h-28zM1204 432.7h2l13.0 -25h-28zM1205.7 431.7h2l13.0 -25h-28zM1207.4 432.7h2l13.0 -25h-28zM1209.1 432.7h2l13.0 -25h-28zM1210.8 432.7h2l13.0 -25h-28zM1212.5 432.7h2l13.0 -25h-28zM1214.2 433.7h2l13.0 -25h-28zM1215.9 432.7h2l13.0 -25h-28zM1217.6 433.7h2l13.0 -25h-28zM1219.3 433.7h2l13.0 -25h-28zM1221 433.7h2l13.0 -25h-28zM1222.7 434.7h2l13.0 -25h-28zM1224.4 434.7h2l13.0 -25h-28zM1226.1 434.7h2l13.0 -25h-28zM1227.8 433.7h2l13.0 -25h-28zM1229.5 434.7h2l13.0 -25h-28zM1231.2 434.7h2l13.0 -25h-28zM1232.9 434.7h2l13.0 -25h-28zM1234.6 434.7h2l13.0 -25h-28zM1236.3 434.7h2l13.0 -25h-28zM1238 434.7h2l13.0 -25h-28zM1239.7 435.7h2l13.0 -25h-28zM1241.4 435.7h2l13.0 -25h-28zM1243.1 435.7h2l13.0 -25h-28zM1244.8 435.7h2l13.0 -25h-28zM1246.5 436.7h2l13.0 -25h-28zM1248.2 435.7h2l13.0 -25h-28zM1249.9 436.7h2l13.0 -25h-28zM1251.6 436.7h2l13.0 -25h-28zM1253.3 436.7h2l13.0 -25h-28zM1255 435.7h2l13.0 -25h-28zM1256.7 436.7h2l13.0 -25h-28zM1258.4 436.7h2l13.0 -25h-28zM1260.1 437.7h2l13.0 -25h-28zM1261.9 437.7h2l13.0 -25h-28zM1263.6 437.7h2l13.0 -25h-28zM1265.3 437.7h2l13.0 -25h-28zM1267 436.7h2l13.0 -25h-28zM1268.7 438.7h2l13.0 -25h-28zM1270.4 437.7h2l13.0 -25h-28zM1272.1 438.7h2l13.0 -25h-28zM1273.8 438.7h2l13.0 -25h-28zM1275.5 437.7h2l13.0 -25h-28zM1277.2 438.7h2l13.0 -25h-28zM1278.9 438.7h2l13.0 -25h-28zM1280.6 439.7h2l13.0 -25h-28zM1282.3 438.7h2l13.0 -25h-28zM1284 439.7h2l13.0 -25h-28zM1285.7 437.7h2l13.0 -25h-28zM1287.4 439.7h2l13.0 -25h-28zM1289.1 439.7h2l13.0 -25h-28zM1290.8 439.7h2l13.0 -25h-28zM1292.5 439.7h2l13.0 -25h-28zM1294.2 440.7h2l13.0 -25h-28zM1295.9 439.7h2l13.0 -25h-28zM1297.6 440.7h2l13.0 -25h-28zM1299.3 439.7h2l13.0 -25h-28zM1301 440.7h2l13.0 -25h-28zM1302.7 440.7h2l13.0 -25h-28zM1304.4 439.7h2l13.0 -25h-28zM1306.1 441.7h2l13.0 -25h-28zM1307.8 441.7h2l13.0 -25h-28zM1309.5 440.7h2l13.0 -25h-28zM1311.2 441.7h2l13.0 -25h-28zM1312.9 441.7h2l13.0 -25h-28zM1314.6 440.7h2l13.0 -25h-28zM1316.3 441.7h2l13.0 -25h-28zM1318 441.7h2l13.0 -25h-28zM1319.7 441.7h2l13.0 -25h-28zM1321.4 441.7h2l13.0 -25h-28zM1323.1 441.7h2l13.0 -25h-28zM1324.8 442.7h2l13.0 -25h-28zM1326.5 442.7h2l13.0 -25h-28zM1328.2 442.7h2l13.0 -25h-28zM1329.9 442.7h2l13.0 -25h-28zM1331.6 441.7h2l13.0 -25h-28zM1333.3 443.7h2l13.0 -25h-28zM1335 442.7h2l13.0 -25h-28zM1336.7 443.7h2l13.0 -25h-28zM1338.4 443.7h2l13.0 -25h-28zM1340.1 443.7h2l13.0 -25h-28zM1341.8 442.7h2l13.0 -25h-28zM1343.6 443.7h2l13.0 -25h-28zM1345.3 443.7h2l13.0 -25h-28zM1347 443.7h2l13.0 -25h-28zM1348.7 443.7h2l13.0 -25h-28zM1350.4 444.7h2l13.0 -25h-28zM1352.1 443.7h2l13.0 -25h-28zM1353.8 443.7h2l13.0 -25h-28zM1355.5 444.7h2l13.0 -25h-28zM1357.2 444.7h2l13.0 -25h-28zM1358.9 443.7h2l13.0 -25h-28zM1360.6 444.7h2l13.0 -25h-28zM1362.3 444.7h2l13.0 -25h-28zM1364 444.7h2l13.0 -25h-28zM1365.7 444.7h2l13.0 -25h-28zM1367.4 444.7h2l13.0 -25h-28zM1369.1 445.7h2l13.0 -25h-28zM1370.8 444.7h2l13.0 -25h-28zM1372.5 445.7h2l13.0 -25h-28zM1374.2 444.7h2l13.0 -25h-28zM1375.9 445.7h2l13.0 -25h-28zM1377.6 445.7h2l13.0 -25h-28zM1379.3 446.7h2l13.0 -25h-28zM1381 445.7h2l13.0 -25h-28zM1382.7 445.7h2l13.0 -25h-28zM1384.4 446.7h2l13.0 -25h-28zM1386.1 446.7h2l13.0 -25h-28zM1387.8 446.7h2l13.0 -25h-28zM1389.5 445.7h2l13.0 -25h-28zM1391.2 446.7h2l13.0 -25h-28zM1392.9 446.7h2l13.0 -25h-28zM1394.6 446.7h2l13.0 -25h-28zM1396.3 446.7h2l13.0 -25h-28zM1398 446.7h2l13.0 -25h-28zM1399.7 446.7h2l13.0 -25h-28zM1401.4 447.7h2l13.0 -25h-28zM1403.1 446.7h2l13.0 -25h-28zM1404.8 446.7h2l13.0 -25h-28zM1406.5 447.7h2l13.0 -25h-28zM1408.2 447.7h2l13.0 -25h-28zM1409.9 447.7h2l13.0 -25h-28zM1411.6 447.7h2l13.0 -25h-28zM1413.3 447.7h2l13.0 -25h-28zM1415 447.7h2l13.0 -25h-28zM1416.7 447.7h2l13.0 -25h-28zM1418.4 447.7h2l13.0 -25h-28zM1420.1 447.7h2l13.0 -25h-28zM1421.8 447.7h2l13.0 -25h-28zM1423.5 448.7h2l13.0 -25h-28zM1425.3 448.7h2l13.0 -25h-28zM1427 447.7h2l13.0 -25h-28zM1428.7 449.7h2l13.0 -25h-28zM1430.4 448.7h2l13.0 -25h-28zM1432.1 448.7h2l13.0 -25h-28zM1433.8 448.7h2l13.0 -25h-28zM1435.5 449.7h2l13.0 -25h-28zM1437.2 449.7h2l13.0 -25h-28zM1438.9 448.7h2l13.0 -25h-28zM1440.6 448.7h2l13.0 -25h-28zM1442.3 448.7h2l13.0 -25h-28zM1444 449.7h2l13.0 -25h-28zM1445.7 449.7h2l13.0 -25h-28zM1447.4 450.7h2l13.0 -25h-28zM1449.1 449.7h2l13.0 -25h-28zM1450.8 450.7h2l13.0 -25h-28zM1452.5 449.7h2l13.0 -25h-28zM1454.2 449.7h2l13.0 -25h-28zM1455.9 449.7h2l13.0 -25h-28zM1457.6 450.7h2l13.0 -25h-28zM1459.3 449.7h2l13.0 -25h-28zM1461 450.7h2l13.0 -25h-28zM1462.7 450.7h2l13.0 -25h-28zM1464.4 450.7h2l13.0 -25h-28zM1466.1 451.7h2l13.0 -25h-28zM1467.8 450.7h2l13.0 -25h-28zM1469.5 450.7h2l13.0 -25h-28zM1471.2 451.7h2l13.0 -25h-28zM1472.9 450.7h2l13.0 -25h-28zM1474.6 451.7h2l13.0 -25h-28zM1476.3 451.7h2l13.0 -25h-28zM1478 451.7h2l13.0 -25h-28zM1479.7 451.7h2l13.0 -25h-28zM1481.4 451.7h2l13.0 -25h-28zM1483.1 451.7h2l13.0 -25h-28zM1484.8 451.7h2l13.0 -25h-28zM1486.5 451.7h2l13.0 -25h-28zM1488.2 452.7h2l13.0 -25h-28zM1489.9 452.7h2l13.0 -25h-28zM1491.6 452.7h2l13.0 -25h-28zM1493.3 451.7h2l13.0 -25h-28zM1495 452.7h2l13.0 -25h-28zM1496.7 451.7h2l13.0 -25h-28zM1498.4 451.7h2l13.0 -25h-28zM1500.1 452.7h2l13.0 -25h-28zM1501.8 452.7h2l13.0 -25h-28zM1503.5 453.7h2l13.0 -25h-28zM1505.2 453.7h2l13.0 -25h-28zM1506.9 453.7h2l13.0 -25h-28zM1508.7 452.7h2l13.0 -25h-28zM1510.4 452.7h2l13.0 -25h-28zM1512.1 453.7h2l13.0 -25h-28zM1513.8 453.7h2l13.0 -25h-28zM1515.5 453.7h2l13.0 -25h-28zM1517.2 453.7h2l13.0 -25h-28zM1518.9 453.7h2l13.0 -25h-28zM1520.6 453.7h2l13.0 -25h-28zM1522.3 453.7h2l13.0 -25h-28zM1524 454.7h2l13.0 -25h-28zM1525.7 453.7h2l13.0 -25h-28zM1527.4 453.7h2l13.0 -25h-28zM1529.1 454.7h2l13.0 -25h-28zM1530.8 454.7h2l13.0 -25h-28zM1532.5 453.7h2l13.0 -25h-28zM1534.2 454.7h2l13.0 -25h-28zM1535.9 454.7h2l13.0 -25h-28zM1537.6 454.7h2l13.0 -25h-28zM1539.3 455.7h2l13.0 -25h-28zM1541 454.7h2l13.0 -25h-28zM1542.7 453.7h2l13.0 -25h-28zM1544.4 454.7h2l13.0 -25h-28zM1546.1 454.7h2l13.0 -25h-28zM1547.8 454.7h2l13.0 -25h-28zM1549.5 454.7h2l13.0 -25h-28zM1551.2 454.7h2l13.0 -25h-28zM1552.9 455.7h2l13.0 -25h-28zM1554.6 455.7h2l13.0 -25h-28zM1556.3 455.7h2l13.0 -25h-28zM1558 455.7h2l13.0 -25h-28zM1559.7 455.7h2l13.0 -25h-28zM1561.4 455.7h2l13.0 -25h-28zM1563.1 456.7h2l13.0 -25h-28zM1564.8 455.7h2l13.0 -25h-28zM1566.5 454.7h2l13.0 -25h-28zM1568.2 455.7h2l13.0 -25h-28zM1569.9 456.7h2l13.0 -25h-28zM1571.6 456.7h2l13.0 -25h-28zM1573.3 455.7h2l13.0 -25h-28zM1575 456.7h2l13.0 -25h-28zM1576.7 455.7h2l13.0 -25h-28zM1578.4 456.7h2l13.0 -25h-28zM1580.1 455.7h2l13.0 -25h-28zM1581.8 455.7h2l13.0 -25h-28zM1583.5 457.7h2l13.0 -25h-28zM1585.2 456.7h2l13.0 -25h-28zM1586.9 456.7h2l13.0 -25h-28zM1588.6 457.7h2l13.0 -25h-28zM1590.4 457.7h2l13.0 -25h-28zM1592.1 456.7h2l13.0 -25h-28zM1593.8 456.7h2l13.0 -25h-28zM1595.5 457.7h2l13.0 -25h-28zM1597.2 456.7h2l13.0 -25h-28zM1598.9 456.7h2l13.0 -25h-28zM1600.6 456.7h2l13.0 -25h-28zM1602.3 457.7h2l13.0 -25h-28zM1604 457.7h2l13.0 -25h-28zM1605.7 457.7h2l13.0 -25h-28zM1607.4 457.7h2l13.0 -25h-28zM1609.1 457.7h2l13.0 -25h-28zM1610.8 457.7h2l13.0 -25h-28zM1612.5 456.7h2l13.0 -25h-28zM1614.2 457.7h2l13.0 -25h-28zM1615.9 457.7h2l13.0 -25h-28zM1617.6 457.7h2l13.0 -25h-28zM1619.3 458.7h2l13.0 -25h-28zM1621 458.7h2l13.0 -25h-28zM1622.7 458.7h2l13.0 -25h-28zM1624.4 458.7h2l13.0 -25h-28zM1626.1 457.7h2l13.0 -25h-28zM1627.8 458.7h2l13.0 -25h-28zM1629.5 457.7h2l13.0 -25h-28zM1631.2 457.7h2l13.0 -25h-28zM1632.9 458.7h2l13.0 -25h-28zM1634.6 458.7h2l13.0 -25h-28zM1636.3 458.7h2l13.0 -25h-28zM1638 458.7h2l13.0 -25h-28zM1639.7 459.7h2l13.0 -25h-28zM1641.4 458.7h2l13.0 -25h-28zM1643.1 458.7h2l13.0 -25h-28zM1644.8 458.7h2l13.0 -25h-28zM1646.5 458.7h2l13.0 -25h-28zM1648.2 458.7h2l13.0 -25h-28zM1649.4 459.7h2l13.0 -25h-28z" fill="#008080"/>

</svg>
<rect x="1028" y="781" width="616.3" height="287.8" fill="#fff" stroke="#000" stroke-width="2"/>
<path d="M1067 828.5H1183.3" stroke="#000" stroke-width="7.5"/><path d="M1114.5 818h21v21h-21z" fill="#000"/>
<path d="M1067 898.4H1183.3" stroke="#f00" stroke-width="7.5"/><path d="M1113.8 898.4a11.25 12 0 1 0 22.5 0a11.25 12 0 1 0 -22.5 0z" fill="#f00"/>
<path d="M1067 968.3H1183.3" stroke="#00f" stroke-width="7.5"/><path d="M1124 951.6h2l13.0 25h-28z" fill="#00f"/>
<path d="M1067 1038.3H1183.3" stroke="#008080" stroke-width="7.5"/><path d="M1124 1055h2l13.0 -25h-28z" fill="#008080"/>
<g font-family="'Liberation Sans', Arial, sans-serif" font-weight="bold" font-size="54px" fill="#000">
<text transform="translate(1196 846) scale(1 1.04)" font-size="54px" text-anchor="start">1% NLP</text>
<text transform="translate(1196 915.9) scale(1 1.04)" font-size="54px" text-anchor="start">2% CLP</text>
<text transform="translate(1199.2 985.8) scale(1 1.045)" font-size="53.6px" text-anchor="start">2 a.u. Au (20 nm)</text>
<text transform="translate(1199.2 1055.8) scale(1 1.045)" font-size="53.6px" text-anchor="start">2 a.u. Au (10 nm)</text>
</g>

<g font-family="'Liberation Sans', Arial, sans-serif" font-weight="bold" fill="#000">
<text transform="translate(282.5 1194) scale(1 1.077)" font-size="54px" text-anchor="middle">0</text>
<text transform="translate(478.2 1194) scale(1 1.077)" font-size="54px" text-anchor="middle">100</text>
<text transform="translate(674 1194) scale(1 1.077)" font-size="54px" text-anchor="middle">200</text>
<text transform="translate(869.7 1194) scale(1 1.077)" font-size="54px" text-anchor="middle">300</text>
<text transform="translate(1065.4 1194) scale(1 1.077)" font-size="54px" text-anchor="middle">400</text>
<text transform="translate(1261.2 1194) scale(1 1.077)" font-size="54px" text-anchor="middle">500</text>
<text transform="translate(1456.9 1194) scale(1 1.077)" font-size="54px" text-anchor="middle">600</text>
<text transform="translate(1652.6 1194) scale(1 1.077)" font-size="54px" text-anchor="middle">700</text>
<text transform="translate(248.9 1131.7) scale(1 1.085)" font-size="54px" text-anchor="end" letter-spacing="0.6">0.00</text>
<text transform="translate(248.9 932.6) scale(1 1.085)" font-size="54px" text-anchor="end" letter-spacing="0.6">0.02</text>
<text transform="translate(248.9 733.5) scale(1 1.085)" font-size="54px" text-anchor="end" letter-spacing="0.6">0.04</text>
<text transform="translate(248.9 534.4) scale(1 1.085)" font-size="54px" text-anchor="end" letter-spacing="0.6">0.06</text>
<text transform="translate(248.9 335.3) scale(1 1.085)" font-size="54px" text-anchor="end" letter-spacing="0.6">0.08</text>
<text transform="translate(248.9 136.2) scale(1 1.085)" font-size="54px" text-anchor="end" letter-spacing="0.6">0.10</text>
<text transform="translate(1015.5 1307) scale(1 1.055)" font-size="72px" text-anchor="middle">Time, s</text>
<text transform="translate(76.3 621.5) rotate(-90) scale(1 1.02)" font-size="75.3px" text-anchor="middle">Birefringence <tspan font-family="'Liberation Serif', 'Times New Roman', serif" font-weight="normal" font-size="74px" dx="-2">Δ</tspan><tspan font-style="italic" dx="-1">n</tspan></text>
</g>

</svg>
</body></html>
